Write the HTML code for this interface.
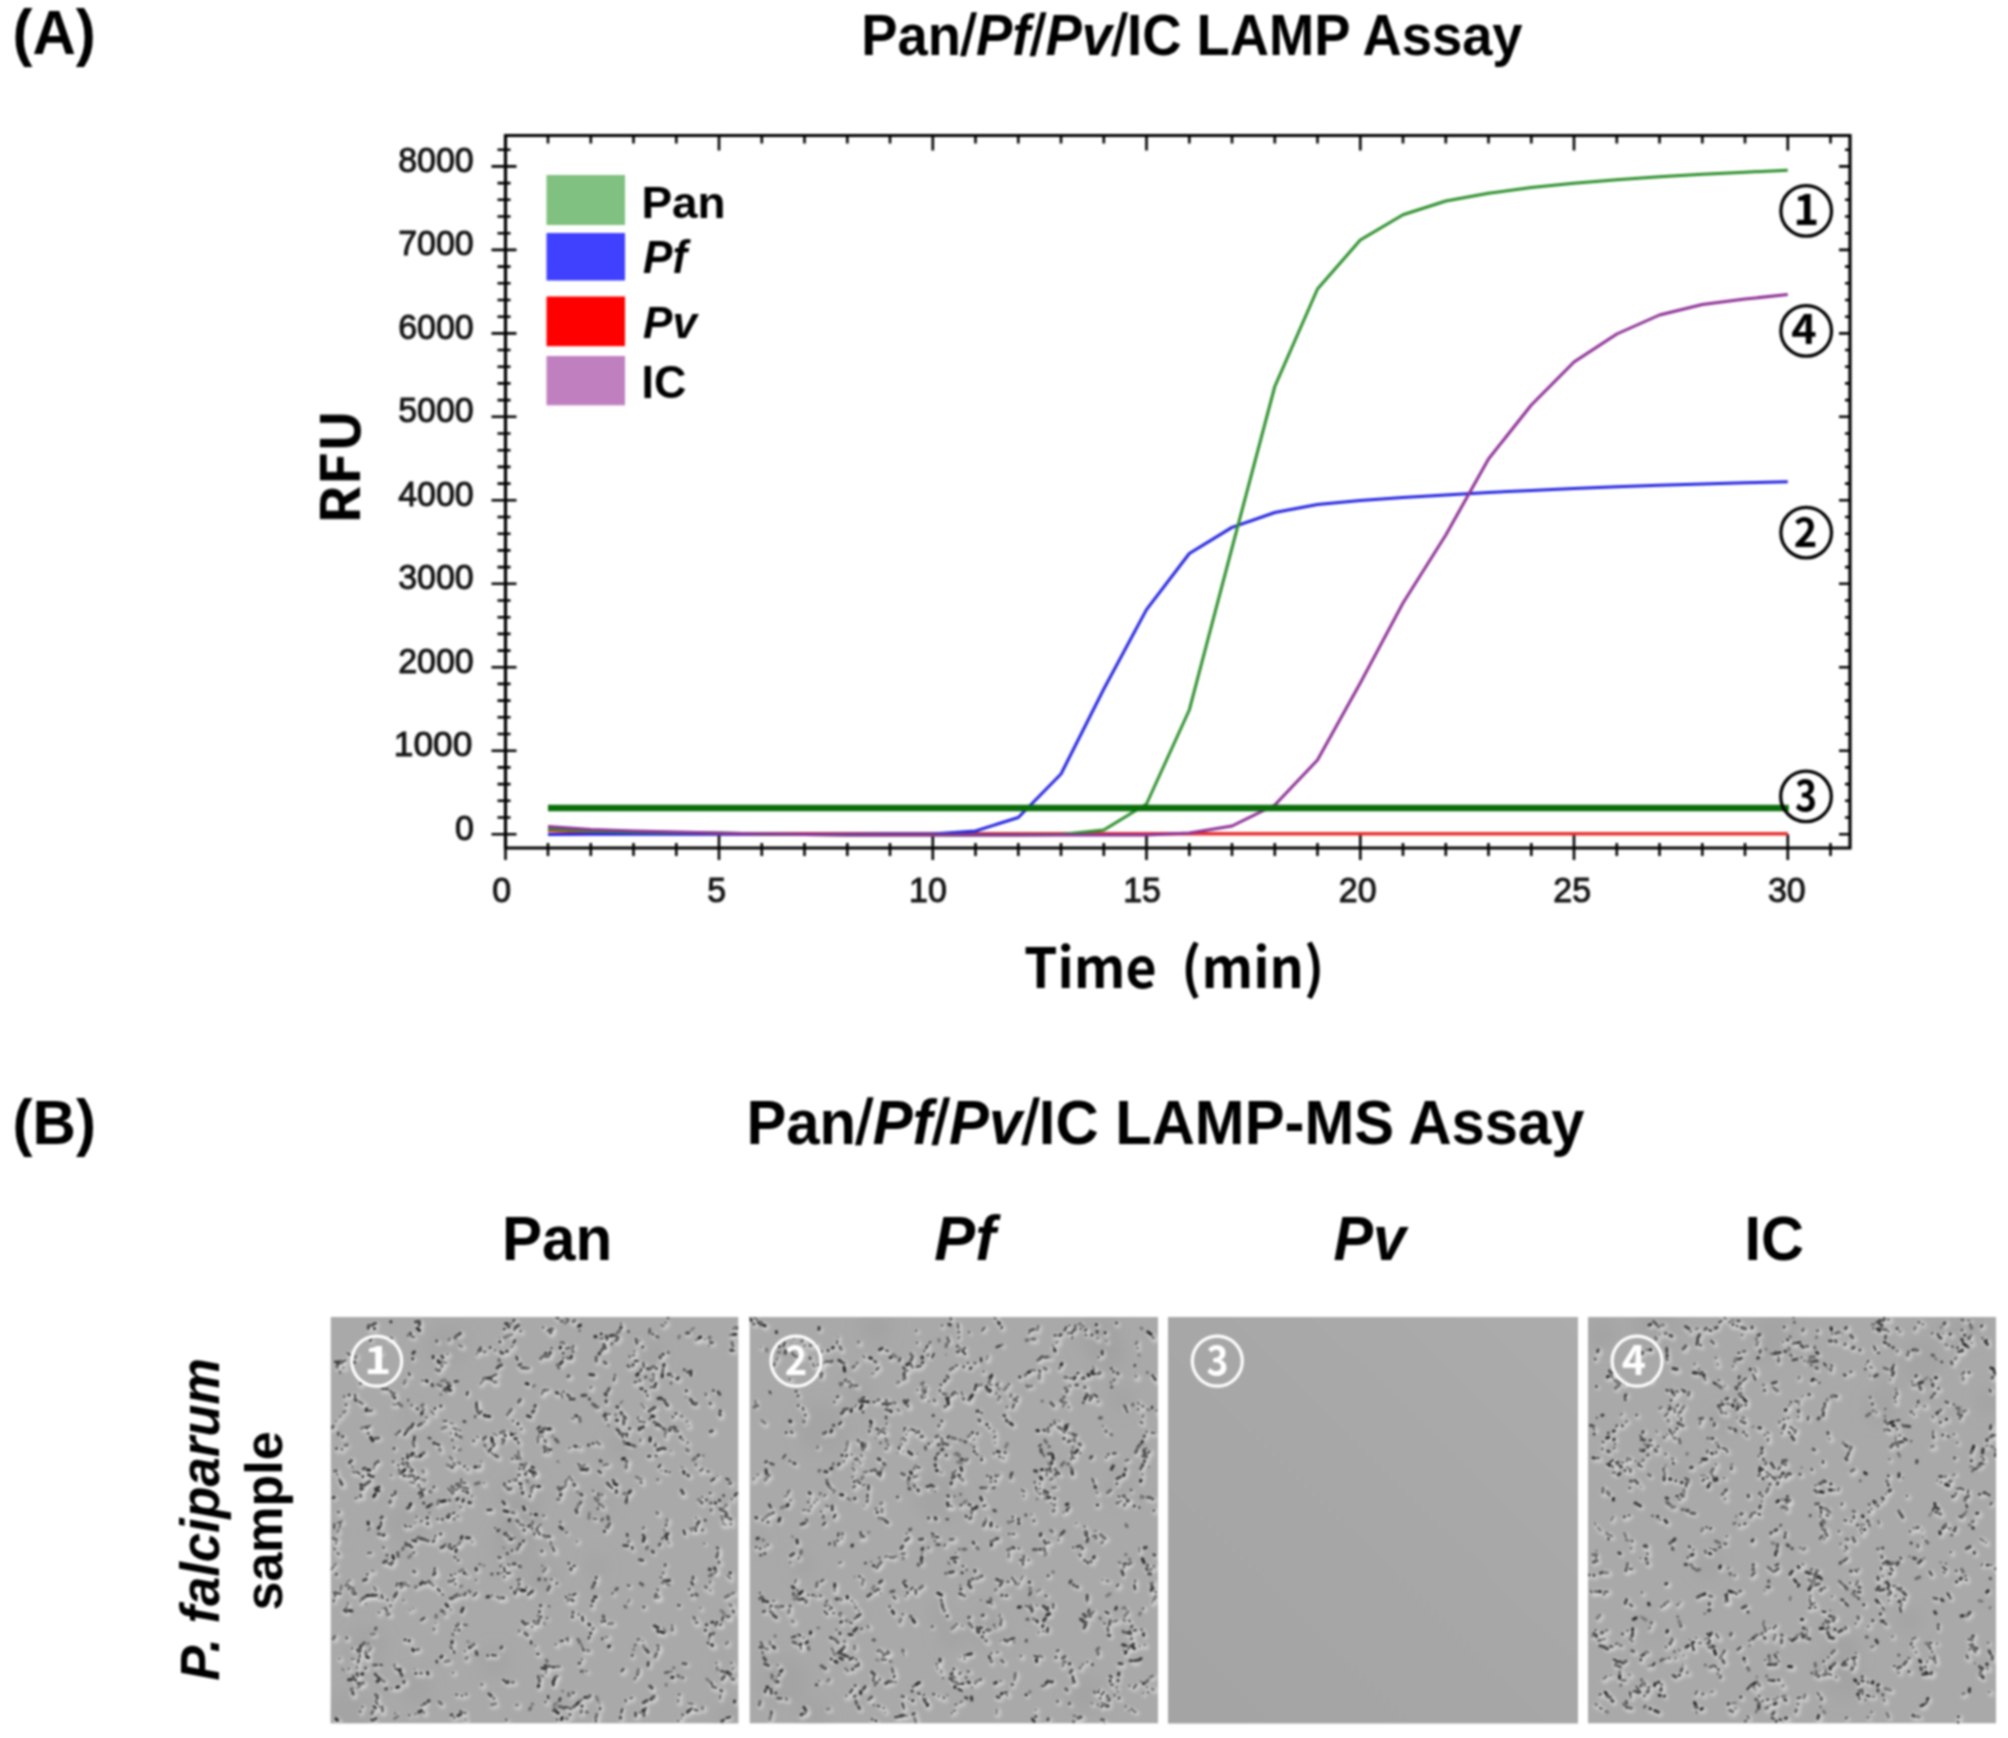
<!DOCTYPE html><html><head><meta charset="utf-8"><title>Pan/Pf/Pv/IC LAMP Assay</title>
<style>html,body{margin:0;padding:0;background:#fff;}body{width:2008px;height:1738px;overflow:hidden;}svg{display:block;}</style></head><body>
<svg width="2008" height="1738" viewBox="0 0 2008 1738">
<rect width="2008" height="1738" fill="#fff"/>
<defs><filter id="gblur" filterUnits="userSpaceOnUse" x="0" y="0" width="2008" height="1738" color-interpolation-filters="sRGB"><feGaussianBlur stdDeviation="1.00"/></filter></defs><g filter="url(#gblur)">
<g stroke="#000" fill="none" stroke-linecap="butt">
<path d="M505.5 135.5 H1850.0 V848.0 H505.5 Z" stroke-width="3.2"/>
<path d="M491.5 834.2H516.5M1839.0 834.2H1850.0M497.5 817.5H510.5M1845.0 817.5H1850.0M497.5 800.8H510.5M1845.0 800.8H1850.0M497.5 784.1H510.5M1845.0 784.1H1850.0M497.5 767.4H510.5M1845.0 767.4H1850.0M491.5 750.7H516.5M1839.0 750.7H1850.0M497.5 734.0H510.5M1845.0 734.0H1850.0M497.5 717.3H510.5M1845.0 717.3H1850.0M497.5 700.6H510.5M1845.0 700.6H1850.0M497.5 683.9H510.5M1845.0 683.9H1850.0M491.5 667.2H516.5M1839.0 667.2H1850.0M497.5 650.6H510.5M1845.0 650.6H1850.0M497.5 633.9H510.5M1845.0 633.9H1850.0M497.5 617.2H510.5M1845.0 617.2H1850.0M497.5 600.5H510.5M1845.0 600.5H1850.0M491.5 583.8H516.5M1839.0 583.8H1850.0M497.5 567.1H510.5M1845.0 567.1H1850.0M497.5 550.4H510.5M1845.0 550.4H1850.0M497.5 533.7H510.5M1845.0 533.7H1850.0M497.5 517.0H510.5M1845.0 517.0H1850.0M491.5 500.3H516.5M1839.0 500.3H1850.0M497.5 483.6H510.5M1845.0 483.6H1850.0M497.5 466.9H510.5M1845.0 466.9H1850.0M497.5 450.2H510.5M1845.0 450.2H1850.0M497.5 433.5H510.5M1845.0 433.5H1850.0M491.5 416.8H516.5M1839.0 416.8H1850.0M497.5 400.1H510.5M1845.0 400.1H1850.0M497.5 383.4H510.5M1845.0 383.4H1850.0M497.5 366.7H510.5M1845.0 366.7H1850.0M497.5 350.0H510.5M1845.0 350.0H1850.0M491.5 333.4H516.5M1839.0 333.4H1850.0M497.5 316.7H510.5M1845.0 316.7H1850.0M497.5 300.0H510.5M1845.0 300.0H1850.0M497.5 283.3H510.5M1845.0 283.3H1850.0M497.5 266.6H510.5M1845.0 266.6H1850.0M491.5 249.9H516.5M1839.0 249.9H1850.0M497.5 233.2H510.5M1845.0 233.2H1850.0M497.5 216.5H510.5M1845.0 216.5H1850.0M497.5 199.8H510.5M1845.0 199.8H1850.0M497.5 183.1H510.5M1845.0 183.1H1850.0M491.5 166.4H516.5M1839.0 166.4H1850.0M497.5 149.7H510.5M1845.0 149.7H1850.0M505.5 848.0V860.0M548.0 843.0V856.0M548.0 135.5V143.5M590.8 843.0V856.0M590.8 135.5V143.5M633.5 843.0V856.0M633.5 135.5V143.5M676.3 843.0V856.0M676.3 135.5V143.5M719.0 834.2V860.0M719.0 135.5V150.5M761.8 843.0V856.0M761.8 135.5V143.5M804.5 843.0V856.0M804.5 135.5V143.5M847.3 843.0V856.0M847.3 135.5V143.5M890.0 843.0V856.0M890.0 135.5V143.5M932.8 834.2V860.0M932.8 135.5V150.5M975.5 843.0V856.0M975.5 135.5V143.5M1018.3 843.0V856.0M1018.3 135.5V143.5M1061.0 843.0V856.0M1061.0 135.5V143.5M1103.8 843.0V856.0M1103.8 135.5V143.5M1146.5 834.2V860.0M1146.5 135.5V150.5M1189.3 843.0V856.0M1189.3 135.5V143.5M1232.0 843.0V856.0M1232.0 135.5V143.5M1274.8 843.0V856.0M1274.8 135.5V143.5M1317.5 843.0V856.0M1317.5 135.5V143.5M1360.3 834.2V860.0M1360.3 135.5V150.5M1403.0 843.0V856.0M1403.0 135.5V143.5M1445.8 843.0V856.0M1445.8 135.5V143.5M1488.5 843.0V856.0M1488.5 135.5V143.5M1531.3 843.0V856.0M1531.3 135.5V143.5M1574.0 834.2V860.0M1574.0 135.5V150.5M1616.8 843.0V856.0M1616.8 135.5V143.5M1659.5 843.0V856.0M1659.5 135.5V143.5M1702.3 843.0V856.0M1702.3 135.5V143.5M1745.0 843.0V856.0M1745.0 135.5V143.5M1787.8 834.2V860.0M1787.8 135.5V150.5M1830.5 843.0V856.0M1830.5 135.5V143.5" stroke-width="2.6"/>
</g>
<rect x="546.5" y="175.0" width="78.5" height="50.0" fill="#80c080"/>
<rect x="546.5" y="233.0" width="78.5" height="47.5" fill="#4040ff"/>
<rect x="546.5" y="296.5" width="78.5" height="49.7" fill="#ff0000"/>
<rect x="546.5" y="356.0" width="78.5" height="49.3" fill="#c080c0"/>
<g fill="none" stroke-linejoin="round" stroke-linecap="butt">
<polyline points="548.0,830.5 590.8,832.0 633.5,833.0 676.3,833.5 719.0,833.7 761.8,833.7 804.5,833.7 847.3,833.7 890.0,833.7 932.8,833.7 975.5,833.7 1018.3,833.7 1061.0,833.7 1103.8,833.7 1146.5,833.7 1189.3,833.7 1232.0,833.7 1274.8,833.7 1317.5,833.7 1360.3,833.7 1403.0,833.7 1445.8,833.7 1488.5,833.7 1531.3,833.7 1574.0,833.7 1616.8,833.7 1659.5,833.7 1702.3,833.7 1745.0,833.7 1787.8,833.7" stroke="#e83030" stroke-width="3.4"/>
<polyline points="548.0,834.5 590.8,834.3 633.5,834.2 676.3,834.2 719.0,834.2 761.8,834.2 804.5,834.2 847.3,834.2 890.0,834.0 932.8,834.0 975.5,831.0 1018.3,817.5 1061.0,774.0 1103.8,689.0 1146.5,609.6 1189.3,553.5 1232.0,527.4 1274.8,512.5 1317.5,504.5 1360.3,500.5 1403.0,497.5 1445.8,495.0 1488.5,492.5 1531.3,490.5 1574.0,488.5 1616.8,486.8 1659.5,485.3 1702.3,484.0 1745.0,482.8 1787.8,481.7" stroke="#2626e0" stroke-width="3.0"/>
<polyline points="548.0,829.0 590.8,831.0 633.5,832.0 676.3,832.5 719.0,833.0 761.8,834.0 804.5,834.5 847.3,835.0 890.0,835.0 932.8,835.0 975.5,835.0 1018.3,835.0 1061.0,834.5 1103.8,830.0 1146.5,804.0 1189.3,710.0 1232.0,548.0 1274.8,386.5 1317.5,289.0 1360.3,240.0 1403.0,214.7 1445.8,201.0 1488.5,193.3 1531.3,187.4 1574.0,183.3 1616.8,179.8 1659.5,176.8 1702.3,174.2 1745.0,172.2 1787.8,170.2" stroke="#2e902e" stroke-width="3.0"/>
<polyline points="548.0,826.5 590.8,829.5 633.5,831.0 676.3,832.0 719.0,833.0 761.8,834.0 804.5,834.5 847.3,835.0 890.0,835.0 932.8,835.0 975.5,835.0 1018.3,835.0 1061.0,835.0 1103.8,835.0 1146.5,835.0 1189.3,833.0 1232.0,826.0 1274.8,805.0 1317.5,760.0 1360.3,683.0 1403.0,603.0 1445.8,535.0 1488.5,459.0 1531.3,405.0 1574.0,362.0 1616.8,334.0 1659.5,315.0 1702.3,304.5 1745.0,299.0 1787.8,294.6" stroke="#8e3296" stroke-width="3.0"/>
<path d="M548.0 808H1788.8" stroke="#0a6e0a" stroke-width="6.5"/>
</g>
<circle cx="1806.2" cy="210.9" r="25.3" fill="none" stroke="#000" stroke-width="3.3"/>
<circle cx="1806.2" cy="330.9" r="25.3" fill="none" stroke="#000" stroke-width="3.3"/>
<circle cx="1806.2" cy="532.6" r="25.3" fill="none" stroke="#000" stroke-width="3.3"/>
<circle cx="1806.0" cy="796.4" r="25.3" fill="none" stroke="#000" stroke-width="3.3"/>
<defs><filter id="bd" x="-5%" y="-5%" width="110%" height="110%"><feGaussianBlur stdDeviation="0.9"/></filter><filter id="bl" x="-5%" y="-5%" width="110%" height="110%"><feGaussianBlur stdDeviation="1.6"/></filter><filter id="bm" x="-10%" y="-10%" width="120%" height="120%"><feGaussianBlur stdDeviation="7"/></filter><linearGradient id="g3" x1="0" y1="1" x2="1" y2="0"><stop offset="0" stop-color="#a4a4a4"/><stop offset="0.5" stop-color="#a7a7a7"/><stop offset="1" stop-color="#acacac"/></linearGradient><clipPath id="cp0"><rect x="330.5" y="1317" width="408" height="406.5"/></clipPath><clipPath id="cp1"><rect x="749.5" y="1317" width="408.5" height="406.5"/></clipPath><clipPath id="cp3"><rect x="1588" y="1317" width="408" height="406.5"/></clipPath></defs>
<g clip-path="url(#cp0)">
<rect x="330.5" y="1317.0" width="408.0" height="406.5" fill="#a9a9a9"/>
<g fill="#9a9a9a" fill-opacity="0.35" filter="url(#bm)"><circle cx="515" cy="1545" r="25"/><circle cx="520" cy="1523" r="19"/><circle cx="406" cy="1525" r="19"/><circle cx="654" cy="1355" r="13"/><circle cx="367" cy="1646" r="20"/><circle cx="348" cy="1716" r="25"/><circle cx="597" cy="1567" r="11"/><circle cx="337" cy="1532" r="9"/><circle cx="408" cy="1415" r="9"/><circle cx="520" cy="1496" r="23"/><circle cx="542" cy="1577" r="17"/><circle cx="601" cy="1503" r="13"/><circle cx="738" cy="1722" r="23"/><circle cx="619" cy="1445" r="12"/><circle cx="448" cy="1346" r="22"/><circle cx="494" cy="1661" r="15"/><circle cx="721" cy="1661" r="8"/><circle cx="416" cy="1687" r="16"/></g>
<g filter="url(#bl)" fill="none" stroke="#e2e2e2" stroke-opacity="0.55" stroke-linecap="round"><path stroke-width="4" d="M723.0 1625.5l0.0 0.0M477.3 1581.3l-0.0 -0.0M338.8 1476.0l0.0 0.0M548.8 1620.0l0.0 0.0M493.6 1454.9l0.8 1.3M422.8 1621.8l3.3 -2.3M642.6 1371.3l-0.9 1.8M644.7 1529.4l-0.5 1.4M673.1 1673.6l0.0 -0.0M473.9 1498.0l-0.0 -0.0M502.3 1568.4l0.9 -1.2M589.0 1673.2l-1.4 -0.6M385.4 1549.8l-0.5 -0.9M482.9 1463.4l0.0 0.0M415.8 1553.6l-0.9 0.4M700.3 1523.2l-0.0 0.0M513.2 1551.1l-0.3 1.5M732.9 1680.7l-0.0 -0.0M629.5 1603.8l1.5 -2.6M636.5 1679.0l-1.0 1.7M631.2 1587.7l-1.4 -0.4M735.4 1352.6l0.0 -0.0M372.8 1341.2l-1.1 1.1M457.0 1559.7l-1.1 -1.0M376.0 1467.6l1.0 -2.8M496.6 1530.0l-0.0 -0.0M550.2 1391.8l-0.0 0.0M452.3 1611.6l-0.0 0.0M568.6 1534.1l-1.0 -0.1M655.5 1381.0l-0.2 -1.5M519.1 1361.1l-0.9 -2.9M361.4 1648.1l-0.0 0.0M410.8 1716.8l0.0 -0.0M417.0 1716.0l0.0 -0.0M708.1 1397.2l-0.5 -1.4M557.3 1645.3l-0.8 0.6M405.0 1601.9l-0.0 -0.0M400.8 1475.5l4.0 -0.6M590.0 1640.7l0.8 -1.8M643.8 1423.5l-2.9 -0.6M414.9 1610.2l-0.0 0.0M556.7 1710.6l-2.6 1.6M705.9 1545.1l-0.0 -0.0M594.9 1493.3l-0.8 -0.6M449.4 1489.9l2.7 3.0M628.3 1497.7l0.6 1.9M438.4 1520.1l-0.0 -0.0"/><path stroke-width="5" d="M559.3 1500.6l1.5 -0.1M436.5 1624.6l-0.0 0.0M435.9 1630.7l-0.2 1.0M602.7 1474.1l-2.3 -1.9M467.5 1695.9l-0.0 0.0M463.8 1697.6l-0.0 0.0M459.2 1696.7l-1.5 -0.3M435.8 1573.5l0.3 -4.0M638.0 1479.0l2.6 1.6M655.0 1699.6l-0.0 0.0M695.7 1529.3l2.8 -1.0M367.8 1472.1l-0.0 -0.0M642.4 1483.9l1.4 0.6M641.3 1714.4l0.0 0.0M567.4 1719.9l1.5 -0.0M378.3 1666.5l-3.0 0.1M736.4 1703.0l0.1 1.0M505.7 1569.0l0.7 3.9M597.1 1721.9l-0.1 1.0M529.7 1596.8l0.4 -0.9M418.0 1588.5l-0.8 0.6M460.5 1485.3l-1.3 2.7M456.5 1488.7l-1.9 0.7M455.1 1491.2l-0.6 4.0M567.0 1709.0l1.0 -0.0M700.1 1456.8l-0.8 0.6M694.1 1705.9l-4.0 -0.6M429.0 1382.7l-0.8 -0.6M580.6 1703.8l-2.8 2.9M525.6 1468.4l1.8 -3.6M367.7 1429.2l1.2 0.9M559.0 1720.9l-0.0 0.0M657.6 1369.5l0.9 0.3M715.2 1623.4l-1.5 -0.0M707.9 1626.3l-0.0 0.0M666.5 1565.7l-0.0 1.0M391.8 1607.1l0.0 -0.0M393.7 1601.5l0.0 -0.0M395.7 1599.0l2.0 -3.5M398.1 1593.2l0.0 -0.0M336.5 1593.6l0.2 4.0M335.1 1601.1l-0.3 1.5M601.7 1446.3l-3.0 -2.6M595.2 1445.4l-1.5 0.1M350.3 1590.0l-0.0 0.0M507.8 1684.4l1.7 -1.1M682.3 1418.1l0.9 0.4M519.8 1443.2l1.1 1.7M383.3 1596.8l1.3 2.7M645.3 1365.0l0.4 4.0M689.5 1452.2l-1.6 -1.3M464.1 1503.0l0.6 -1.4M623.5 1710.3l-1.1 3.8M458.6 1501.3l1.0 -1.1M716.2 1569.7l0.6 1.4M716.8 1574.7l0.0 0.0M711.8 1582.7l-0.2 1.5M348.3 1446.2l-2.0 0.3M383.9 1518.6l-1.1 1.0M382.3 1524.1l-0.5 4.0M409.0 1509.6l1.9 -0.6M336.2 1550.7l-0.0 0.0M598.1 1520.4l-3.0 -0.3M607.3 1337.7l0.7 -0.7M503.8 1574.3l-0.0 0.0M359.0 1499.2l-1.8 0.9M668.3 1541.0l-1.3 -2.7M422.3 1540.2l3.9 0.7M425.7 1541.5l3.8 1.3M681.5 1727.1l0.7 1.4M339.5 1533.9l0.4 -1.4M661.4 1466.6l-1.8 2.4M663.2 1472.1l0.0 0.0M667.0 1473.1l1.0 0.2M516.6 1328.5l0.0 -0.0M469.2 1494.3l-1.2 -0.9M465.8 1492.6l-1.9 -0.7M412.3 1337.9l2.9 0.9M643.1 1389.8l1.0 0.3M647.6 1393.1l0.0 0.0M365.4 1581.7l2.7 -1.2M598.8 1502.8l0.8 0.5M599.8 1409.4l-2.0 0.0M601.6 1710.6l0.2 -1.5M501.8 1343.0l-0.0 -0.0M487.7 1439.4l-1.7 1.1M503.3 1352.8l-1.5 -0.3M496.4 1352.2l-0.0 -0.0M495.9 1446.0l0.0 0.0M486.4 1448.1l-0.7 -1.3M380.1 1599.4l0.0 0.0M400.0 1434.6l2.2 -2.0M662.9 1578.8l-0.0 -0.0M353.3 1690.6l-1.1 1.0M639.0 1362.9l-3.0 -0.0M372.9 1636.0l3.0 -0.3M657.7 1384.9l-1.4 3.8M652.8 1388.3l-0.9 0.5M698.9 1712.1l-2.9 -0.8M447.9 1384.2l2.7 1.3M434.9 1357.9l0.1 1.5M611.2 1415.7l-3.0 -0.4M607.2 1416.9l-1.9 0.7M608.5 1393.9l2.0 -3.5M523.5 1593.1l0.0 -0.0M518.9 1591.7l-0.0 -0.0M512.8 1589.3l-0.0 -0.0M514.4 1460.5l-1.5 0.2M658.6 1425.0l3.3 2.3M666.5 1436.5l0.5 3.0M600.5 1507.1l0.4 -1.4M358.4 1669.9l0.4 -2.0M544.8 1517.3l0.0 0.0M651.4 1688.2l2.2 2.1M363.3 1430.0l1.0 -1.1M361.5 1475.3l-2.3 -2.0M421.3 1332.0l-2.2 -2.1M625.6 1546.6l4.0 0.4M361.8 1714.1l-0.0 -1.0M627.1 1703.1l0.1 -1.5M390.5 1560.4l-0.0 -0.0M389.1 1556.7l-0.0 -0.0M544.6 1328.9l-0.0 -0.0M345.9 1398.3l-0.0 0.0M424.4 1410.1l0.6 0.8M570.3 1360.7l-1.2 -0.8M517.5 1480.2l-0.7 1.9M734.1 1670.8l0.9 -1.8M732.9 1664.6l-0.0 -0.0M693.8 1529.7l-0.2 3.0M394.6 1557.7l0.9 2.9M411.2 1612.0l-0.0 -0.0M353.8 1660.3l-0.0 -0.0M569.4 1481.6l-2.1 2.2M567.2 1484.6l-0.8 3.9M718.9 1478.1l-0.0 0.0M716.1 1480.1l-3.1 2.5M577.0 1595.0l-2.6 1.5M714.3 1344.6l-2.0 0.3M389.2 1565.2l3.5 1.9M507.2 1437.5l-1.0 0.2M451.2 1468.1l-2.7 -1.4M469.0 1393.2l-0.6 2.9M351.7 1581.9l-3.3 2.3M350.8 1587.7l0.2 1.0M462.6 1613.6l1.6 -3.7M426.5 1423.5l-0.0 0.0M422.6 1425.4l-3.3 2.2M604.8 1339.7l-3.0 0.3M361.1 1603.5l1.2 -3.8M396.9 1715.5l-0.0 -0.0M542.6 1607.0l0.0 0.0M539.8 1616.9l-0.4 0.9M534.5 1475.4l1.3 2.7M489.1 1417.4l1.5 0.3M570.0 1450.1l1.6 -1.2M659.1 1481.5l-0.0 -0.0M341.3 1591.5l-0.0 -0.0M338.6 1594.3l-0.0 0.0M376.7 1676.1l0.7 0.7M379.5 1678.1l1.4 1.4M374.5 1712.5l-1.2 2.7M733.3 1501.4l-0.5 -0.9M736.1 1496.8l2.0 -2.2M517.5 1592.3l2.4 -3.2M522.1 1591.3l3.9 0.6M520.0 1633.5l0.7 -0.8M532.7 1515.6l0.0 -0.0M372.3 1554.3l-3.0 0.3M622.7 1325.8l-0.0 -0.0M637.2 1714.8l0.0 0.0M689.4 1444.6l-0.0 -0.0M478.4 1403.3l0.0 0.0M732.7 1525.9l-0.0 0.0M639.3 1673.4l-1.0 2.8M501.9 1649.5l0.9 -1.2M584.8 1652.6l-0.4 -2.0M554.3 1330.4l-0.0 0.0M420.1 1486.3l0.0 -0.0M423.4 1408.0l1.6 -1.2M378.4 1696.7l-1.3 -0.7M614.3 1595.1l0.0 0.0M370.1 1330.6l0.6 -2.9M617.6 1494.0l-0.1 -2.0M613.8 1489.9l-2.4 -1.9M699.9 1501.6l1.0 -0.2M462.5 1596.4l-2.9 0.7M537.3 1647.7l0.0 0.0M687.7 1334.9l2.0 -0.0M408.4 1433.2l-2.3 3.2M412.3 1548.4l1.3 0.7M467.3 1485.0l-1.5 -0.2M582.5 1495.6l1.2 0.9M559.2 1677.4l-2.8 1.0M682.9 1469.4l1.4 0.4M684.7 1472.8l0.6 1.9M398.0 1587.4l0.8 -2.9M401.8 1585.9l1.5 -0.3M365.3 1490.6l-0.0 -0.0M549.6 1591.7l1.8 -3.6M539.9 1528.3l-2.0 2.2M539.7 1534.1l1.0 2.8M670.7 1581.9l-3.9 0.7M370.5 1652.4l2.1 -3.4M404.0 1587.0l2.7 -2.9M717.5 1626.5l0.3 -0.9M730.3 1618.4l0.0 -0.0M511.7 1329.4l-0.0 -0.0M506.3 1330.5l-1.4 0.4M578.4 1417.5l-1.0 -0.3M459.5 1561.6l-0.0 -0.0M337.1 1566.1l0.0 0.0M335.1 1568.0l-2.5 3.1M731.7 1336.8l0.0 -0.0M737.7 1331.0l0.8 -1.8M610.5 1648.6l0.7 -0.7M574.5 1568.1l1.4 -0.4M513.5 1540.3l-1.0 0.3M644.2 1348.3l-0.0 -0.0M575.1 1420.3l-1.5 -0.2M684.1 1679.1l-0.0 0.0M631.7 1357.9l0.0 0.0M679.0 1432.5l0.6 0.8M375.4 1469.9l-0.6 -0.8M412.2 1484.1l3.9 1.0M415.9 1482.0l1.1 -1.0M721.8 1697.3l-0.5 3.0M513.4 1336.5l-2.8 1.0M711.2 1494.7l1.0 0.1M686.3 1535.6l-1.2 -3.8M691.2 1530.4l0.0 -0.0M506.2 1536.1l1.3 -0.8M509.3 1537.1l1.7 1.1M360.5 1658.7l0.6 -1.4M578.3 1514.0l-0.9 -2.8M579.0 1509.4l1.2 -3.8M581.4 1504.6l0.9 -1.2M654.3 1335.3l1.1 1.0M610.1 1525.8l0.7 -0.7M384.3 1609.7l0.0 -0.0M393.7 1690.1l0.0 -0.0M447.2 1389.4l-1.4 0.4M443.2 1388.0l-3.7 -1.5M493.5 1597.1l-0.0 -0.0M338.0 1576.0l-0.0 0.0M342.3 1364.3l-0.0 0.0M557.9 1584.6l-0.0 -0.0M435.2 1489.6l0.6 -0.8M562.1 1523.8l-0.0 -0.0M633.6 1550.8l-0.4 -2.0M465.0 1713.9l1.9 0.5M633.4 1657.0l-0.2 1.0M405.2 1385.2l1.1 -2.8M524.7 1542.5l0.0 0.0M520.3 1547.9l-2.0 3.5M626.8 1495.2l-1.0 0.3M564.4 1359.4l0.0 0.0M486.5 1353.8l0.0 0.0M491.5 1349.0l0.0 -0.0M348.8 1354.7l2.4 1.8M456.7 1575.3l0.0 -0.0M460.7 1573.2l3.5 -1.9M465.8 1574.6l0.8 0.6M468.8 1576.4l0.0 0.0M458.9 1431.6l-3.7 -1.6M370.2 1526.2l-0.3 -2.0M438.6 1343.0l0.0 0.0M447.4 1364.4l0.0 0.0M443.7 1367.3l-0.7 0.7M652.1 1439.6l-0.3 3.0M657.1 1445.0l0.0 0.0M403.7 1465.0l0.0 -0.0M439.8 1505.6l-1.3 0.7M454.7 1515.1l1.4 -0.6M458.1 1517.6l1.6 1.2M565.8 1394.0l-0.8 -0.6M644.3 1562.4l-2.9 -0.7M457.1 1585.5l-0.0 -0.0M455.6 1580.9l-0.0 -0.0M479.6 1438.7l-1.4 -0.5M410.8 1528.0l1.5 0.2M416.4 1524.8l0.0 -0.0M417.6 1518.4l0.0 -0.0M342.7 1364.3l-0.8 -1.8M672.0 1452.9l-0.0 0.0M508.0 1721.8l0.0 -0.0M523.6 1623.2l2.8 2.9M535.2 1623.5l0.9 -0.3M359.0 1675.7l0.2 -1.0M512.2 1434.4l0.0 0.0M710.3 1645.0l-0.5 -0.9M710.4 1641.4l0.0 -0.0M711.1 1638.4l0.5 -3.0M667.6 1434.2l-1.5 1.4M501.2 1600.3l-0.0 0.0M445.2 1423.2l3.0 -0.2M451.5 1424.4l2.9 0.9M646.0 1713.4l1.0 -3.9M378.4 1700.5l0.2 -3.0M591.7 1635.0l0.0 -0.0M510.0 1684.6l-1.4 0.4M507.0 1683.5l-2.5 -1.6M365.1 1470.4l1.7 -1.0M455.3 1548.0l2.0 -0.3M719.2 1549.4l0.6 0.8M684.9 1665.0l3.0 0.3M606.4 1532.7l-0.0 0.0M654.5 1553.7l-1.0 -1.1M570.0 1564.7l-0.0 -0.0M400.0 1671.5l1.4 0.6M488.8 1380.1l4.0 -0.4M715.1 1392.1l-0.0 -0.0M525.8 1511.0l-1.1 -2.8M394.4 1463.4l-0.0 -0.0M392.5 1476.7l-0.0 -0.0M661.6 1545.0l-0.6 1.4M413.7 1454.9l1.5 -0.1M474.0 1543.5l0.0 0.0M614.8 1382.6l0.7 -2.9M409.0 1467.3l2.6 1.5M355.1 1595.1l0.2 1.0M713.0 1512.0l0.0 -0.0M447.7 1428.4l-3.7 1.4M341.5 1726.4l1.0 1.7M347.1 1412.4l-1.7 1.1M342.5 1417.8l-1.0 1.1M338.0 1422.4l-0.0 0.0M452.4 1716.4l1.0 -0.3M459.1 1716.9l2.7 -1.3M679.4 1606.6l1.0 0.1M543.3 1437.9l-0.0 0.0M373.5 1572.8l1.4 0.5M361.2 1687.6l0.3 -1.0M520.8 1581.3l-1.8 0.9M520.9 1585.4l0.0 0.0M335.5 1498.5l-0.8 0.5M498.4 1369.3l-0.0 -0.0M425.5 1482.1l0.3 -0.9M376.6 1495.4l-1.6 2.5M414.2 1360.2l-0.0 0.0M570.1 1321.5l-1.5 -0.4M381.6 1355.2l1.1 -1.0M494.0 1382.4l-1.8 -0.9M574.9 1694.1l-0.0 -0.0M571.7 1697.3l-0.0 0.0M410.4 1375.2l0.5 1.9M534.1 1413.4l1.3 -1.5M536.0 1408.1l0.5 -1.4M575.1 1347.4l-0.9 2.9M565.4 1346.0l-0.0 -0.0M478.6 1356.2l0.0 -0.0M639.6 1420.1l0.2 -1.5M415.9 1671.1l0.0 0.0M726.5 1599.4l3.5 -1.9M733.5 1596.1l2.6 -1.4M734.8 1611.9l0.8 1.8M506.0 1485.7l0.0 0.0M510.4 1483.2l0.9 -0.4M732.0 1574.7l0.0 -0.0M708.3 1472.9l1.9 0.5M570.3 1639.5l-0.3 4.0M564.8 1642.2l-1.5 0.3M558.2 1646.5l-0.0 0.0M461.1 1465.4l-1.3 -0.8M395.9 1450.1l0.0 0.0M644.8 1408.2l1.1 1.7M658.3 1590.8l1.2 0.9M428.8 1519.0l0.0 -0.0M541.3 1683.5l0.3 -1.5M548.7 1668.2l0.9 -0.5M557.0 1668.8l4.0 -0.1M702.2 1610.1l-0.0 -0.0M644.7 1647.2l0.7 2.9M647.1 1651.3l2.5 3.1M731.3 1718.7l-3.9 0.8M347.5 1610.5l0.6 -1.9M349.2 1605.5l0.0 -0.0"/><path stroke-width="6" d="M515.5 1322.8l0.7 -0.8M672.6 1377.3l1.8 1.0M363.0 1489.4l-0.1 1.5M569.9 1378.6l0.9 -0.5M474.6 1597.3l2.8 -2.9M607.2 1403.8l0.0 -1.5M665.6 1365.8l-0.2 1.5M393.4 1340.0l-2.8 1.0M417.9 1651.1l2.0 -0.2M642.8 1480.7l0.0 0.0M648.0 1702.6l-3.4 2.1M342.9 1523.3l-3.7 1.5M698.6 1525.5l1.5 -2.6M697.7 1519.9l-0.4 -0.9M336.2 1472.8l1.5 -0.3M340.0 1479.8l0.6 1.4M344.2 1437.9l0.0 0.0M590.3 1652.4l-1.9 -0.5M580.4 1664.7l0.9 -0.5M583.4 1660.7l0.0 -0.0M535.8 1625.4l4.0 -0.0M539.7 1622.7l1.0 -1.7M369.5 1659.6l-1.8 -0.8M367.8 1656.0l-1.0 -2.8M361.7 1652.5l-0.9 -0.3M697.4 1341.8l0.9 -0.3M413.2 1472.0l-0.1 1.0M562.9 1721.1l0.7 -1.9M571.7 1716.5l0.0 -0.0M492.3 1450.1l-2.4 3.2M496.7 1457.3l2.6 1.6M505.8 1512.4l3.8 1.1M441.5 1593.2l-2.0 -2.2M588.8 1470.5l-0.9 1.2M587.0 1471.5l-4.0 0.1M582.2 1467.9l-2.0 -2.2M531.5 1594.7l2.3 -1.9M424.3 1584.2l-2.0 2.2M569.7 1709.8l2.8 0.9M697.1 1465.9l0.3 1.0M656.7 1447.3l0.0 0.0M588.0 1699.3l-1.5 0.2M582.5 1701.6l-1.3 0.8M575.1 1708.1l-0.0 0.0M369.8 1435.3l0.0 0.0M376.1 1440.0l3.9 -0.6M718.6 1623.6l-0.0 -0.0M706.5 1632.2l-0.0 0.0M369.4 1412.7l4.0 -0.3M581.3 1449.4l-0.0 -0.0M578.0 1447.8l-2.0 -0.4M614.0 1624.7l-4.0 0.4M606.4 1622.5l-0.0 -0.0M514.1 1683.7l1.0 0.0M674.1 1418.5l0.0 -0.0M516.5 1440.6l1.5 0.2M617.0 1342.7l1.6 -1.2M357.0 1359.0l0.6 -1.4M388.4 1601.4l0.0 0.0M706.6 1588.7l1.0 1.1M711.2 1592.1l0.0 0.0M653.8 1382.4l-1.4 -1.4M407.1 1544.5l-0.0 0.0M365.0 1685.3l-1.8 -1.0M357.0 1682.2l-2.2 -2.0M462.0 1508.9l-0.0 -0.0M622.4 1718.8l-0.2 1.0M680.7 1696.5l-0.0 0.0M680.2 1702.0l-0.2 1.5M338.1 1450.7l-0.0 -0.0M451.6 1458.8l1.9 2.3M442.7 1658.7l1.0 -1.1M411.2 1507.6l1.0 -1.7M337.2 1544.9l0.0 0.0M338.6 1554.5l1.2 1.6M616.7 1337.3l3.7 1.4M731.4 1579.9l-2.9 -2.8M454.8 1582.2l-3.9 0.7M670.1 1544.2l0.0 -0.0M413.7 1542.0l3.8 1.3M682.2 1720.3l-0.0 -0.0M679.6 1722.8l-0.0 0.0M521.9 1332.9l0.0 0.0M639.0 1674.6l1.2 -3.8M648.3 1396.5l0.6 1.4M369.1 1576.6l0.4 -0.9M601.8 1506.0l2.8 2.8M525.4 1467.0l-3.0 -0.1M600.6 1705.2l-0.0 -0.0M500.8 1339.7l-0.0 -0.0M492.8 1439.2l0.7 3.9M488.8 1450.6l-0.0 -0.0M375.7 1597.4l1.9 -0.5M637.3 1340.6l0.9 3.9M495.4 1435.4l3.4 2.0M559.3 1320.1l-2.3 -1.9M421.8 1489.6l1.0 1.1M664.8 1574.3l0.0 -0.0M634.5 1366.6l-1.0 1.2M624.0 1438.4l0.0 0.0M653.1 1700.8l2.8 -2.8M446.4 1616.1l0.0 0.0M691.3 1712.2l-2.3 1.9M683.8 1716.7l-0.0 0.0M449.5 1386.8l0.3 4.0M394.4 1397.7l1.7 -2.5M393.0 1394.0l-1.0 -1.2M387.1 1390.9l-3.0 0.1M429.5 1673.7l0.5 1.4M427.4 1584.9l-1.0 0.2M439.0 1361.7l0.0 0.0M442.8 1366.8l-0.0 2.0M663.6 1326.7l1.5 0.3M667.3 1324.4l0.0 -0.0M519.7 1453.2l0.4 4.0M518.5 1458.9l-0.3 1.0M370.4 1597.7l-1.5 0.1M454.7 1674.1l0.0 -0.0M359.2 1664.1l0.6 -2.9M356.5 1661.1l-0.0 -0.0M392.1 1503.3l-0.5 1.4M356.5 1474.4l-2.0 -0.4M411.9 1335.4l-0.3 -1.0M421.1 1327.3l0.4 -2.0M630.2 1544.2l0.6 -0.8M363.6 1708.5l0.0 -0.0M631.7 1699.9l1.4 -0.6M394.6 1564.3l-1.5 0.3M552.5 1329.9l-3.2 2.4M586.5 1466.7l-0.0 0.0M375.7 1330.2l-0.0 -0.0M455.4 1548.2l0.0 0.0M519.2 1476.9l-0.0 0.0M732.0 1351.6l1.5 0.1M706.3 1341.3l-0.0 0.0M597.5 1598.3l-1.5 0.1M594.5 1601.7l-0.5 0.9M584.1 1622.0l-0.7 -3.9M580.1 1616.4l-0.0 -0.0M591.8 1390.0l0.7 -1.3M488.7 1512.1l4.0 -0.3M439.5 1520.7l0.0 0.0M630.7 1368.4l-1.0 -1.1M622.7 1413.8l0.7 1.3M570.3 1600.2l-0.8 2.9M385.7 1564.6l2.6 -1.5M501.9 1434.9l3.6 -1.7M454.1 1469.4l-0.0 -0.0M353.2 1592.9l0.6 1.4M436.3 1539.0l1.1 -2.8M428.4 1419.6l-1.0 0.0M509.2 1415.9l0.0 -0.0M510.4 1414.0l2.4 -3.2M609.9 1338.1l-1.6 3.7M502.1 1354.9l2.0 0.2M512.9 1348.8l1.5 -1.4M541.1 1613.2l-0.0 0.0M607.1 1364.9l-1.6 -1.1M480.0 1415.2l2.3 -1.9M485.9 1416.8l1.7 1.0M368.4 1410.8l-0.7 1.9M597.9 1362.7l0.0 -4.0M603.3 1352.6l2.3 -3.3M666.6 1537.3l1.3 -0.8M666.9 1527.1l0.4 -0.9M668.8 1523.2l0.3 -1.5M382.9 1681.4l2.5 1.7M618.6 1486.9l-2.7 -1.2M615.4 1483.4l-1.0 -1.7M516.7 1594.9l-0.3 -1.5M527.8 1589.1l0.0 -0.0M463.6 1348.2l-2.7 -1.4M485.0 1485.2l0.0 -0.0M668.6 1536.2l0.7 -1.3M540.1 1438.5l-0.7 2.9M335.1 1640.6l1.7 -2.5M622.6 1329.3l0.5 -0.9M644.4 1712.9l1.1 -1.0M684.0 1441.4l-0.0 -0.0M478.6 1409.2l0.5 4.0M727.3 1526.1l-0.0 0.0M420.7 1322.7l-3.9 0.7M591.4 1375.9l4.0 0.6M515.3 1481.7l3.0 0.5M522.7 1489.3l0.0 0.0M524.3 1494.2l0.3 1.0M413.4 1407.2l0.0 0.0M418.0 1409.9l0.8 0.5M641.7 1382.5l-0.0 0.0M637.7 1383.7l-1.9 0.7M578.5 1543.0l-0.0 -0.0M541.5 1534.9l0.0 0.0M373.0 1327.3l3.5 -1.9M702.2 1503.4l1.1 1.1M732.5 1521.6l-1.2 -0.9M396.4 1399.2l0.0 -0.0M466.8 1594.9l-0.8 1.8M414.6 1425.6l-1.9 3.5M453.3 1650.0l-1.1 -1.7M453.8 1644.9l0.2 -1.5M531.3 1497.6l-0.3 1.0M554.9 1685.1l-0.2 1.5M734.3 1347.8l-1.0 -3.9M696.2 1621.1l-0.9 -1.8M528.2 1473.9l-0.0 -0.0M689.6 1476.7l0.8 0.6M406.7 1477.7l-1.0 0.0M402.6 1476.2l-1.3 -0.8M500.4 1558.7l1.5 0.3M366.4 1487.1l0.4 -1.4M368.1 1485.7l3.2 -2.4M456.3 1631.3l0.0 -0.0M459.9 1626.6l0.7 -1.3M712.2 1504.8l0.0 0.0M716.6 1504.9l1.0 -0.0M509.3 1565.7l1.2 0.9M515.1 1566.0l2.0 -0.3M450.9 1341.0l-0.6 1.4M506.2 1506.0l-1.8 -2.4M449.1 1355.9l0.0 0.0M637.3 1717.4l-0.0 -0.0M439.9 1371.8l-1.8 -0.9M727.3 1506.3l0.4 0.9M725.6 1508.8l-2.6 3.1M402.5 1588.7l1.0 -0.3M547.5 1354.8l-1.0 0.0M544.8 1357.7l-2.8 2.9M720.8 1626.6l1.0 0.1M549.7 1358.6l-3.0 -0.1M570.5 1479.1l-0.0 0.0M658.8 1647.3l0.8 0.7M657.7 1654.5l-1.6 3.7M547.4 1703.4l-0.0 0.0M627.8 1466.4l-0.2 3.0M734.0 1336.2l3.0 -0.3M642.3 1440.8l-0.4 1.9M349.9 1670.2l0.0 -0.0M437.7 1445.9l2.8 1.1M441.4 1450.3l0.7 1.9M340.6 1660.3l-0.0 0.0M645.2 1608.6l0.0 -0.0M509.3 1538.3l-1.2 -0.8M514.9 1422.5l0.0 0.0M519.7 1425.3l0.0 0.0M522.9 1431.1l0.0 0.0M538.8 1655.3l1.0 0.1M640.8 1342.7l-0.0 -0.0M693.9 1581.0l0.3 -2.0M674.6 1679.3l-1.0 0.2M691.2 1373.2l-2.0 0.0M618.4 1408.6l0.9 0.5M661.7 1360.1l-0.3 -1.0M634.5 1356.7l1.0 -0.3M635.8 1354.1l0.3 -1.5M477.9 1570.5l0.2 1.5M681.6 1438.1l0.4 0.9M378.8 1464.1l0.8 -0.6M382.0 1536.2l-1.9 -0.4M704.2 1531.3l0.0 -0.0M509.5 1541.3l-0.0 0.0M359.3 1651.7l-0.0 -0.0M354.0 1650.2l-0.0 -0.0M607.6 1529.4l1.0 -1.7M380.3 1614.6l-0.0 -0.0M501.5 1599.1l-3.0 -0.5M544.4 1395.0l-0.6 0.8M442.8 1706.0l-2.2 -2.0M454.5 1430.0l2.6 1.5M457.2 1435.7l0.4 1.5M703.6 1498.8l0.0 0.0M435.4 1415.5l-2.6 -3.0M436.3 1410.5l0.5 -0.9M442.0 1407.7l0.0 -0.0M364.4 1405.6l-3.4 -2.2M356.6 1399.2l-0.4 -3.0M350.3 1397.3l-0.0 -0.0M718.0 1689.9l-3.8 -1.2M714.0 1686.7l-1.8 -2.4M339.0 1364.2l-2.0 -0.4M553.5 1581.8l-0.8 -0.6M391.1 1616.1l-1.4 -0.5M388.3 1612.6l-1.6 -2.5M420.7 1495.0l1.4 -1.5M425.3 1492.2l1.2 -0.9M545.6 1454.0l1.1 -1.6M546.2 1450.8l-0.2 -2.0M655.3 1377.9l-0.2 -2.0M461.9 1712.7l0.7 1.3M466.8 1721.0l0.0 0.0M520.1 1403.8l1.7 -2.5M640.2 1640.7l-0.9 0.4M343.4 1363.7l2.8 -1.0M530.1 1369.5l-1.3 0.8M526.7 1370.2l-4.0 -0.2M521.6 1546.1l-0.0 0.0M603.8 1497.0l0.0 -0.0M397.2 1406.1l-3.0 -0.0M632.3 1492.4l-2.0 2.3M723.6 1522.2l-0.9 -3.9M510.9 1574.6l-3.0 0.3M506.0 1578.4l-0.0 0.0M482.5 1352.6l0.0 -0.0M529.0 1636.9l-2.2 -2.1M452.5 1434.8l-0.0 0.0M602.9 1335.8l0.0 0.0M606.3 1337.2l3.9 1.1M440.9 1371.3l-0.8 1.3M721.6 1413.0l0.0 -0.0M663.8 1584.7l1.0 0.2M659.6 1632.7l0.4 0.9M532.7 1491.0l-0.0 -0.0M533.6 1490.0l1.8 -2.4M538.5 1488.0l2.0 -0.1M536.6 1473.6l1.3 2.7M447.1 1502.7l-4.0 0.6M727.5 1645.5l1.2 -1.6M671.5 1375.8l-0.0 0.0M348.0 1612.1l-3.0 -0.0M450.5 1516.3l0.7 0.7M571.4 1398.4l-2.2 -2.0M547.6 1673.4l0.1 1.5M453.1 1577.3l-0.6 -0.8M406.0 1527.5l1.4 1.4M659.5 1515.0l-0.6 -0.8M345.3 1369.3l-0.0 -0.0M355.1 1677.5l0.4 0.9M359.1 1677.9l1.0 -0.1M366.9 1669.5l0.0 -0.0M731.0 1484.8l0.9 -0.4M607.7 1421.0l-0.6 -1.4M415.5 1448.0l-1.0 -3.9M631.3 1430.4l0.0 0.0M628.1 1435.9l-0.0 0.0M625.6 1435.2l-4.0 -0.3M348.0 1639.4l0.2 1.0M672.3 1429.1l-1.1 2.8M557.2 1712.9l2.3 1.9M381.4 1708.8l-1.2 -0.9M379.5 1705.5l-1.8 -2.4M704.3 1710.4l0.0 -1.5M567.3 1597.7l0.7 1.3M554.6 1549.4l1.6 3.7M369.0 1471.7l1.9 0.6M425.9 1454.3l-1.0 0.3M422.5 1456.4l-1.5 1.3M640.4 1431.4l0.1 -1.5M719.0 1555.8l-0.7 2.9M720.7 1563.7l0.3 1.0M547.8 1449.0l0.7 0.7M549.1 1454.0l0.0 0.0M609.5 1528.0l-0.5 1.4M573.5 1618.1l-0.0 -0.0M574.0 1614.3l0.1 -1.0M678.6 1381.0l1.1 -1.0M529.6 1385.6l-1.9 -0.6M542.7 1433.8l-0.8 0.6M572.9 1571.8l0.1 -1.0M396.2 1666.1l-0.4 0.9M481.9 1385.3l2.4 -3.2M484.9 1380.5l0.8 -1.3M494.7 1377.6l3.6 -1.8M607.3 1639.4l1.9 -0.7M425.1 1705.4l1.8 -0.9M645.5 1541.2l-0.3 2.0M628.5 1444.7l2.8 1.1M545.2 1573.0l2.2 -3.3M497.0 1657.0l-4.0 -0.5M489.0 1657.2l-0.0 0.0M457.7 1627.2l-0.3 0.9M477.9 1468.6l-1.0 0.1M450.9 1392.2l1.0 -0.2M373.3 1721.4l2.0 0.2M404.4 1460.8l0.0 0.0M347.7 1586.9l1.4 -0.6M377.2 1592.7l-1.8 -3.6M693.6 1597.4l-0.0 0.0M690.5 1590.6l-0.0 -0.0M655.4 1418.2l-1.9 -0.5M596.7 1584.0l0.0 -0.0M597.6 1580.7l0.6 -1.9M346.8 1732.5l1.4 0.5M591.5 1697.5l-2.2 2.0M334.7 1428.2l-0.7 1.3M455.1 1718.8l0.0 0.0M446.2 1663.3l4.0 -0.6M546.1 1429.0l0.6 1.9M545.0 1433.0l-0.8 1.3M363.8 1685.0l0.8 -0.7M501.6 1366.9l0.0 -0.0M609.3 1466.1l-3.9 0.9M664.6 1450.2l-3.8 1.1M575.9 1322.4l-1.5 1.3M649.8 1666.6l0.3 -3.0M458.6 1485.9l0.0 -0.0M461.7 1484.7l2.0 -0.4M434.7 1587.7l0.0 -0.0M339.5 1595.4l-4.0 -0.6M361.8 1650.4l-0.8 2.9M529.3 1417.5l2.8 1.1M689.8 1427.4l-0.0 -0.0M688.7 1423.2l-0.0 -0.0M696.9 1406.0l-2.9 -0.9M693.7 1403.1l-2.0 -2.3M492.9 1706.6l3.9 -1.0M495.0 1701.0l0.1 -1.0M493.0 1698.0l-2.2 -2.1M623.4 1673.2l2.0 -2.3M480.3 1352.7l2.1 -3.4M454.7 1491.5l4.0 -0.3M465.4 1489.3l3.9 0.8M673.1 1627.8l-0.0 0.0M673.8 1630.7l0.1 1.5M593.4 1607.9l0.0 0.0M417.6 1674.7l0.0 0.0M701.9 1473.0l2.3 -1.9M728.6 1673.0l-0.4 1.4M726.5 1673.6l-3.9 -1.0M467.4 1660.5l0.8 -1.3M465.5 1468.4l-0.0 -0.0M456.0 1467.2l-0.9 0.4M466.2 1652.7l-0.0 -0.0M470.8 1649.6l0.0 -0.0M472.7 1648.0l2.4 -1.9M653.0 1411.5l3.3 -2.2M657.8 1596.3l-0.9 2.9M471.7 1504.7l-1.5 -0.2M536.3 1535.8l-0.1 -1.5M423.3 1523.0l0.0 -0.0M653.0 1689.8l0.0 0.0M540.2 1688.6l0.4 -1.4M540.6 1680.4l-0.5 -1.9M543.6 1669.4l3.9 0.8M643.6 1642.9l-0.0 0.0M725.2 1721.3l-1.8 1.0M521.0 1477.0l0.0 0.0M526.7 1475.7l0.0 -0.0M347.3 1613.6l-1.3 -1.5"/><path stroke-width="7" d="M562.0 1496.9l0.5 -0.9M737.4 1328.3l-2.4 1.8M362.7 1486.3l0.9 0.4M435.5 1576.6l1.5 -1.4M664.2 1370.7l-0.8 3.9M414.6 1650.6l0.6 1.4M682.3 1492.1l1.9 3.5M342.0 1482.6l1.8 3.6M376.6 1490.5l3.6 -1.8M415.1 1572.6l0.8 0.6M371.6 1477.0l-1.4 -0.6M700.0 1340.2l1.7 -1.1M495.7 1445.8l-0.4 1.9M513.9 1514.0l2.0 0.4M598.6 1716.3l-1.0 3.9M424.5 1382.5l-0.0 -0.0M658.6 1451.3l0.5 0.9M441.7 1535.3l-0.0 -0.0M652.4 1369.7l3.6 -1.8M677.6 1415.0l0.0 -0.0M361.1 1685.5l-2.0 -0.0M343.2 1450.5l-0.0 0.0M334.6 1539.8l3.5 1.9M362.4 1496.3l0.2 1.5M618.4 1421.6l1.0 0.1M713.5 1646.5l0.8 0.6M452.2 1599.7l2.0 0.2M583.8 1707.6l-0.0 0.0M354.0 1694.2l0.6 1.9M693.1 1710.6l-0.0 -0.0M658.4 1426.7l0.0 0.0M460.0 1336.2l1.6 -1.2M375.7 1596.9l-3.0 0.4M562.1 1349.0l-0.3 0.9M393.8 1496.7l-0.0 0.0M366.5 1429.1l2.9 -0.6M364.8 1477.9l-0.0 -0.0M603.1 1623.4l-0.0 0.0M525.4 1527.5l-3.8 -1.1M519.9 1523.5l-1.1 -1.0M520.8 1470.2l0.0 0.0M607.1 1350.2l-1.4 -3.8M563.9 1489.6l-2.9 2.7M729.8 1619.1l-1.7 -1.1M625.6 1417.6l0.6 0.8M625.1 1421.6l-0.3 4.0M513.8 1436.0l-1.5 0.3M506.4 1436.6l0.0 0.0M504.0 1441.4l-0.0 0.0M434.7 1542.7l0.7 -0.7M363.3 1601.0l3.2 -2.4M508.1 1353.3l0.9 -0.4M530.6 1472.3l3.6 1.7M712.0 1405.5l-0.0 0.0M409.2 1459.9l0.3 -3.0M412.6 1457.5l1.4 -0.5M375.5 1708.2l1.4 1.4M651.5 1457.4l-1.5 0.1M483.2 1686.3l0.0 0.0M478.6 1405.0l-0.1 4.0M520.9 1485.3l1.2 0.8M552.9 1333.3l-0.7 1.3M401.8 1671.5l0.0 0.0M538.5 1531.1l0.4 2.0M549.4 1538.3l2.0 0.3M611.0 1487.1l-2.0 -2.2M512.7 1490.3l-2.9 0.6M508.2 1488.8l-1.7 -1.1M728.3 1518.8l-1.7 -1.0M456.9 1598.3l-1.4 0.4M572.4 1358.0l-0.6 1.9M429.2 1525.0l-0.0 -0.0M533.2 1490.8l-0.7 2.9M556.6 1680.2l-1.9 3.5M698.3 1624.3l-1.0 0.0M414.0 1476.5l-3.8 1.1M368.0 1659.1l-1.2 -3.8M726.3 1514.0l1.5 2.6M552.1 1353.4l-0.6 1.9M455.7 1449.0l-0.0 0.0M575.8 1486.1l0.5 0.9M340.2 1513.6l0.0 0.0M516.8 1330.3l-0.7 0.7M518.5 1706.4l-1.0 0.1M453.8 1550.8l-0.9 -0.4M659.9 1651.3l0.0 0.0M628.0 1462.9l0.8 0.6M664.6 1356.1l0.7 -0.7M531.0 1527.2l-1.1 1.0M525.1 1532.2l-0.0 0.0M552.0 1668.2l0.0 -0.0M385.7 1536.7l-0.8 0.6M419.5 1479.6l0.0 -0.0M722.6 1691.8l0.9 0.5M696.9 1531.7l0.0 0.0M397.9 1688.8l1.9 -0.5M452.1 1388.0l-0.0 0.0M505.0 1599.5l-1.0 -0.2M547.4 1391.2l-3.0 0.4M542.9 1553.1l-0.0 -0.0M449.2 1608.0l-1.9 -2.3M561.6 1365.8l1.9 -2.3M339.0 1368.8l-0.7 -1.3M520.6 1366.7l-0.0 -0.0M718.2 1664.5l0.0 0.0M660.3 1599.1l-1.5 0.3M724.6 1525.6l0.0 -0.0M440.2 1364.4l1.0 0.2M425.6 1714.0l0.0 0.0M667.3 1404.9l1.8 2.4M582.2 1713.6l0.6 -1.4M347.3 1406.5l0.0 0.0M443.4 1357.3l1.0 1.7M721.4 1417.1l-0.5 -0.9M399.4 1466.7l0.0 0.0M655.5 1628.0l3.6 1.8M662.0 1633.5l2.9 0.7M475.0 1442.4l-0.0 0.0M528.9 1625.4l0.0 0.0M567.9 1641.2l-0.0 -0.0M406.0 1683.1l-0.2 1.0M621.1 1433.6l-2.2 -2.1M403.7 1473.7l2.9 -2.7M412.1 1473.2l0.0 0.0M415.3 1477.2l0.9 1.2M383.6 1713.0l-0.4 -4.0M572.4 1601.4l1.8 0.9M594.1 1631.1l0.5 -0.9M590.7 1626.3l-0.7 -0.7M719.4 1553.7l0.0 0.0M533.5 1628.2l0.0 -0.0M424.9 1472.0l0.5 1.4M734.8 1681.0l-0.0 -0.0M352.4 1461.7l-1.9 2.3M551.6 1430.4l-3.0 0.1M397.7 1670.1l0.0 0.0M423.3 1707.4l-0.0 -0.0M361.5 1385.1l0.9 -0.4M411.0 1642.1l-0.0 0.0M406.4 1641.4l-0.0 -0.0M559.0 1395.2l-1.3 -0.7M480.8 1467.7l-1.0 1.2M408.5 1456.1l0.0 0.0M459.7 1546.2l1.9 -2.3M468.1 1539.6l3.0 0.2M646.3 1423.7l-0.0 0.0M337.4 1720.9l1.4 1.4M546.5 1442.3l0.8 1.3M496.9 1384.3l-1.5 -0.2M361.8 1647.8l-0.3 2.0M714.1 1432.6l-1.9 0.7M717.4 1573.1l-0.0 -0.0M731.7 1606.7l1.0 1.1M442.4 1548.9l2.7 -1.4M450.0 1519.2l-1.4 -0.4M422.0 1674.5l1.0 -0.0M726.1 1677.8l-2.4 3.2M469.2 1471.0l0.0 -0.0M687.6 1392.4l0.0 -0.0M534.1 1530.7l-1.2 -2.8M432.0 1585.5l1.0 0.2"/></g>
<g fill="none" stroke-linecap="round"><path stroke="#282828" stroke-width="2" d="M600.9 1472.8l-2.3 -1.9M461.9 1695.7l-0.0 0.0M337.3 1474.5l0.0 0.0M491.2 1448.4l-2.4 3.2M528.2 1594.9l0.4 -0.9M437.0 1662.3l-0.5 -1.4M498.7 1573.4l-1.0 0.2M412.4 1540.2l3.8 1.3M680.2 1725.3l0.7 1.4M699.3 1521.9l-0.0 0.0M627.5 1536.0l-0.4 -2.0M449.7 1544.3l0.0 1.0M582.9 1620.7l-0.7 -3.9M487.5 1510.1l4.0 -0.3M467.6 1391.9l-0.6 2.9M665.1 1535.5l1.3 -0.8M539.8 1426.7l-2.2 2.0M730.8 1524.0l-0.0 0.0M531.0 1641.5l0.2 2.0M406.7 1431.7l-2.3 3.2M410.9 1546.6l1.3 0.7M530.0 1495.6l-0.3 1.0M363.4 1489.3l-0.0 -0.0M551.5 1348.2l-0.0 0.0M548.1 1696.0l0.2 2.0M545.5 1702.1l-0.0 0.0M454.8 1381.6l3.0 -0.4M436.4 1443.9l2.8 1.1M537.4 1654.0l1.0 0.1M692.9 1584.6l-1.6 -2.6M677.3 1430.7l0.6 0.8M684.9 1534.3l-1.2 -3.8M434.6 1408.9l0.5 -0.9M632.5 1549.0l-0.4 -2.0M632.4 1654.9l-0.2 1.0M517.4 1359.8l-0.9 -2.9M563.3 1358.1l0.0 0.0M481.2 1350.6l0.0 -0.0M452.3 1440.0l0.0 0.0M401.9 1463.6l0.0 -0.0M454.2 1578.9l-0.0 -0.0M414.0 1440.6l0.5 -4.0M708.3 1643.5l-0.5 -0.9M551.3 1449.5l-3.0 0.3M643.0 1534.8l1.9 3.5M562.9 1640.8l-1.5 0.3M552.7 1666.7l1.0 0.1M730.1 1717.1l-3.9 0.8"/><path stroke="#282828" stroke-width="3" d="M662.5 1372.7l-0.3 4.0M412.8 1649.3l0.6 1.4M699.0 1338.1l1.7 -1.1M561.5 1719.5l0.7 -1.9M427.1 1381.3l-0.8 -0.6M370.7 1437.3l2.0 3.5M706.6 1624.7l-0.0 0.0M638.1 1373.6l-1.3 1.6M378.9 1527.4l-0.5 0.9M409.7 1505.6l1.0 -1.7M606.2 1336.5l0.7 -0.7M711.6 1644.8l0.8 0.6M581.9 1705.9l-0.0 0.0M491.7 1437.9l0.7 3.9M438.0 1360.4l0.0 0.0M368.4 1595.6l-1.5 0.1M560.5 1347.2l-0.3 0.9M419.5 1330.4l-2.2 -2.1M374.4 1328.4l-0.0 -0.0M596.0 1597.0l-1.5 0.1M392.7 1555.9l0.9 2.9M512.7 1434.4l-1.5 0.3M452.1 1467.3l-0.0 -0.0M596.0 1336.8l-1.0 -0.3M488.0 1416.2l1.5 0.3M616.8 1484.8l-2.7 -1.2M521.1 1590.0l3.9 0.6M535.4 1514.6l1.0 0.1M642.9 1710.8l1.1 -1.0M394.7 1397.8l0.0 -0.0M719.5 1500.3l0.0 -0.0M622.4 1458.9l2.0 -0.3M608.7 1646.7l0.7 -0.7M434.0 1442.9l0.0 0.0M511.5 1539.0l-1.0 0.3M517.9 1423.8l0.0 0.0M580.4 1325.1l-1.7 1.1M672.9 1677.3l-1.0 0.2M418.1 1477.7l0.0 -0.0M357.7 1650.0l-0.0 -0.0M396.7 1687.4l1.9 -0.5M438.6 1362.4l1.0 0.2M601.3 1334.0l0.0 0.0M368.4 1524.2l-0.3 -2.0M650.3 1438.0l-0.3 3.0M720.2 1410.9l0.0 -0.0M660.6 1631.9l2.9 0.7M445.2 1500.8l-4.0 0.6M361.7 1674.2l0.9 -0.4M626.7 1434.2l-0.0 0.0M402.0 1472.3l2.9 -2.7M555.9 1711.3l2.3 1.9M590.7 1633.2l0.0 -0.0M367.8 1469.7l1.9 0.6M421.2 1455.0l-1.5 1.3M604.5 1531.3l-0.0 0.0M528.2 1384.1l-1.9 -0.6M550.3 1428.9l-3.0 0.1M398.6 1669.9l1.4 0.6M409.1 1640.8l-0.0 0.0M626.9 1443.4l2.8 1.1M476.0 1466.9l-1.0 0.1M411.7 1453.7l1.5 -0.1M653.8 1416.5l-1.9 -0.5M594.7 1582.4l0.0 -0.0M336.0 1718.7l1.4 1.4M390.9 1321.8l-0.0 -0.0M375.3 1494.1l-1.6 2.5M730.2 1573.1l0.0 -0.0M469.7 1647.6l0.0 -0.0M427.3 1517.8l0.0 -0.0M538.4 1686.6l0.4 -1.4"/><path stroke="#383838" stroke-width="2" d="M729.0 1479.8l-2.7 -1.2M547.2 1618.1l0.0 0.0M366.7 1470.7l-0.0 -0.0M639.7 1712.5l0.0 0.0M381.7 1665.0l-1.5 -0.3M439.8 1591.2l-2.0 -2.2M504.1 1567.7l0.7 3.9M596.0 1720.4l-0.1 1.0M565.6 1706.9l1.0 -0.0M593.8 1443.5l-1.5 0.1M421.0 1620.2l3.3 -2.3M381.4 1595.4l1.3 2.7M641.3 1369.4l-0.9 1.8M622.3 1709.0l-1.1 3.8M715.1 1573.0l0.0 0.0M381.1 1522.1l-0.5 4.0M336.2 1543.3l0.0 0.0M610.9 1335.3l2.9 -0.6M678.2 1721.1l-0.0 0.0M660.3 1464.9l-1.8 2.4M665.2 1471.2l1.0 0.2M515.4 1455.4l-0.0 -0.0M600.0 1709.2l0.2 -1.5M637.8 1361.0l-3.0 -0.0M626.9 1436.7l0.0 0.0M447.1 1388.3l-3.6 1.8M667.9 1318.0l1.3 -2.7M358.1 1662.4l0.6 -2.9M395.3 1491.3l-0.4 3.0M362.4 1707.1l0.0 -0.0M543.1 1327.5l-0.0 -0.0M617.1 1406.9l0.7 -0.7M731.3 1662.9l-0.0 -0.0M352.3 1659.0l-0.0 -0.0M714.4 1478.4l-3.1 2.5M575.6 1593.7l-2.6 1.5M712.7 1342.8l-2.0 0.3M506.0 1436.1l-1.0 0.2M608.3 1336.1l-1.6 3.7M513.7 1342.8l1.2 -2.7M526.6 1587.5l0.0 -0.0M687.6 1442.7l-0.0 -0.0M683.0 1440.1l-0.0 -0.0M549.2 1606.3l-0.0 -0.0M583.6 1650.7l-0.4 -2.0M612.4 1488.2l-2.4 -1.9M553.1 1667.6l0.9 -0.5M454.2 1652.8l-0.2 -1.5M371.2 1339.6l-1.1 1.1M505.1 1328.9l-1.4 0.4M428.6 1437.8l1.9 0.6M573.4 1566.1l1.4 -0.4M513.1 1421.0l0.0 0.0M521.2 1429.0l0.0 0.0M579.6 1330.7l-0.0 0.0M421.7 1479.4l0.0 0.0M352.2 1648.6l-0.0 -0.0M495.2 1528.1l-0.0 -0.0M433.6 1487.5l0.6 -0.8M544.4 1452.2l1.1 -1.6M509.8 1572.9l-3.0 0.3M409.3 1715.3l0.0 -0.0M661.3 1398.9l3.7 1.5M532.5 1487.9l1.8 -2.4M534.7 1471.6l1.3 2.7M346.8 1610.6l-3.0 -0.0M452.9 1513.3l1.4 -0.6M542.3 1676.1l-0.0 0.0M451.5 1575.7l-0.6 -0.8M533.7 1621.5l0.9 -0.3M355.9 1680.8l0.1 -1.0M709.5 1636.8l0.5 -3.0M346.6 1637.5l0.2 1.0M499.4 1598.7l-0.0 0.0M588.6 1638.5l0.8 -1.8M508.7 1682.7l-1.4 0.4M505.6 1681.4l-2.5 -1.6M546.4 1428.9l-4.0 -0.2M602.3 1639.2l0.1 -1.0M495.9 1655.6l-4.0 -0.5M614.9 1375.1l0.0 -0.0M595.9 1578.8l0.6 -1.9M555.6 1709.1l-2.6 1.6M543.4 1431.2l-0.8 1.3M409.1 1373.2l0.5 1.9M621.6 1671.2l2.0 -2.3M672.0 1625.6l-0.0 0.0M733.0 1610.5l0.8 1.8M509.1 1481.6l0.9 -0.4"/><path stroke="#383838" stroke-width="3" d="M560.4 1495.2l0.5 -0.9M668.1 1374.4l0.0 0.0M360.8 1484.6l0.9 0.4M361.2 1487.8l-0.1 1.5M664.0 1364.4l-0.2 1.5M375.4 1488.9l3.6 -1.8M342.7 1436.6l0.0 0.0M691.0 1371.1l-0.2 4.0M540.6 1616.8l0.0 -0.0M369.8 1475.3l-1.4 -0.6M368.5 1657.6l-1.8 -0.8M360.2 1650.9l-0.9 -0.3M412.1 1470.0l-0.1 1.0M504.2 1510.7l3.8 1.1M734.5 1701.0l0.1 1.0M585.4 1469.5l-4.0 0.1M422.4 1582.1l-2.0 2.2M655.3 1445.2l0.0 0.0M586.2 1697.2l-1.5 0.2M579.2 1701.7l-2.8 2.9M573.9 1706.6l-0.0 0.0M440.6 1534.1l-0.0 -0.0M717.0 1622.3l-0.0 -0.0M713.2 1622.2l-1.5 -0.0M705.4 1630.3l-0.0 0.0M588.6 1444.9l-0.0 0.0M604.7 1621.1l-0.0 -0.0M514.9 1438.5l1.5 0.2M352.9 1362.7l1.5 -0.4M351.6 1679.5l-3.0 0.3M462.8 1501.2l0.6 -1.4M457.0 1499.6l1.0 -1.1M714.6 1568.0l0.6 1.4M440.9 1657.3l1.0 -1.1M667.0 1539.1l-1.3 -2.7M616.5 1420.3l1.0 0.1M505.7 1323.5l1.9 0.6M508.6 1326.8l0.0 0.0M589.4 1399.1l0.0 0.0M641.1 1388.6l1.0 0.3M645.6 1391.2l0.0 0.0M595.4 1406.0l-2.5 -1.7M499.9 1341.7l-0.0 -0.0M651.1 1699.3l2.8 -2.8M689.7 1710.2l-2.3 1.9M448.3 1385.6l0.3 4.0M427.5 1672.5l0.5 1.4M433.1 1356.3l0.1 1.5M605.8 1415.1l-1.9 0.7M656.5 1424.9l0.0 0.0M606.2 1395.0l-1.0 -1.1M374.0 1595.1l-3.0 0.4M362.8 1476.6l-0.0 -0.0M422.2 1412.1l-0.7 1.9M730.9 1350.2l1.5 0.1M593.2 1600.3l-0.5 0.9M461.5 1611.8l1.6 -3.7M540.7 1605.6l0.0 0.0M539.4 1611.7l-0.0 0.0M529.6 1470.6l3.6 1.7M484.3 1415.1l1.7 1.0M366.7 1408.7l-0.7 1.9M407.5 1458.1l0.3 -3.0M509.6 1519.7l-0.4 0.9M599.1 1353.9l0.5 -0.9M429.8 1505.4l-2.5 1.6M423.7 1503.1l-0.0 -0.0M375.7 1718.4l0.0 0.0M515.0 1593.3l-0.3 -1.5M667.1 1534.8l0.7 -1.3M620.7 1327.9l0.5 -0.9M635.6 1713.2l0.0 0.0M589.8 1374.5l4.0 0.6M519.8 1483.4l1.2 0.8M522.4 1492.4l0.3 1.0M400.3 1669.4l0.0 0.0M451.9 1643.0l0.2 -1.5M571.4 1356.3l-0.6 1.9M427.6 1523.6l-0.0 -0.0M554.8 1678.7l-1.9 3.5M553.5 1683.3l-0.2 1.5M683.6 1471.5l0.6 1.9M400.3 1583.9l1.5 -0.3M714.9 1502.9l1.0 -0.0M669.4 1580.4l-3.9 0.7M367.0 1657.1l-1.2 -3.8M576.8 1416.0l-1.0 -0.3M455.9 1551.5l0.3 -2.0M732.9 1334.6l3.0 -0.3M524.1 1530.1l-0.0 0.0M476.1 1568.6l0.2 1.5M384.0 1534.8l-0.8 0.6M695.7 1530.2l0.0 0.0M489.0 1596.5l-1.9 0.5M440.8 1405.9l0.0 -0.0M349.1 1395.1l-0.0 -0.0M377.2 1681.5l3.1 -2.5M337.4 1362.3l-2.0 -0.4M447.9 1606.5l-1.9 -2.3M562.3 1528.9l-2.3 -2.0M560.4 1363.8l1.9 -2.3M338.1 1364.2l1.2 -2.7M523.4 1541.0l0.0 0.0M520.1 1544.1l-0.0 0.0M630.5 1490.9l-2.0 2.3M464.0 1572.8l0.8 0.6M498.6 1366.3l2.7 -1.3M418.9 1712.1l2.6 -1.5M658.1 1398.5l2.9 -0.6M610.2 1335.7l1.5 0.1M654.4 1625.9l3.6 1.8M657.7 1630.7l0.4 0.9M537.5 1486.5l2.0 -0.1M532.2 1467.3l1.0 0.3M351.9 1610.9l-3.0 -0.5M545.0 1665.5l0.9 0.4M566.9 1639.0l-0.0 -0.0M629.6 1428.6l0.0 0.0M670.7 1427.6l-1.1 2.8M589.6 1624.9l-0.7 -0.7M639.3 1429.7l0.1 -1.5M641.6 1427.7l1.7 -1.0M572.4 1616.7l-0.0 -0.0M677.1 1378.8l1.1 -1.0M540.9 1431.6l-0.8 0.6M486.9 1378.2l4.0 -0.4M428.2 1701.2l0.8 -0.6M524.6 1509.8l-1.1 -2.8M643.6 1539.3l-0.3 2.0M405.1 1639.7l-0.0 -0.0M557.7 1393.2l-1.3 -0.7M449.8 1390.4l1.0 -0.2M461.2 1538.4l0.8 -1.8M466.5 1537.7l3.0 0.2M457.9 1715.6l2.7 -1.3M334.1 1497.3l-0.8 0.5M497.1 1368.0l-0.0 -0.0M378.9 1490.8l-3.0 -0.0M414.2 1351.8l-1.2 1.6M412.7 1358.7l-0.0 0.0M360.6 1646.0l-0.3 2.0M527.5 1415.8l2.8 1.1M695.7 1404.3l-2.9 -0.9M710.3 1569.5l-1.0 -0.3M504.4 1484.0l0.0 0.0M448.6 1517.3l-1.4 -0.4M415.9 1673.3l0.0 0.0M727.5 1671.7l-0.4 1.4M730.3 1673.7l-1.8 -1.0M686.4 1390.8l0.0 -0.0M649.3 1411.1l0.0 0.0M470.4 1502.7l-1.5 -0.2M541.9 1668.1l3.9 0.8M525.6 1474.3l0.0 -0.0"/><path stroke="#484848" stroke-width="2" d="M511.0 1323.8l0.0 -0.0M473.6 1595.8l2.8 -2.9M434.4 1572.0l0.3 -4.0M475.9 1580.0l-0.0 -0.0M640.4 1482.2l1.4 0.6M580.3 1466.1l-2.0 -2.2M461.2 1479.5l0.0 1.0M367.7 1410.9l4.0 -0.3M333.9 1599.9l-0.3 1.5M517.9 1441.8l1.1 1.7M611.5 1344.3l0.8 -1.3M643.4 1362.9l0.4 4.0M665.0 1672.7l3.9 -0.8M671.5 1671.5l0.0 -0.0M614.8 1336.0l3.7 1.4M668.7 1542.8l0.0 -0.0M647.2 1394.8l0.6 1.4M367.1 1574.9l0.4 -0.9M597.4 1501.2l0.8 0.5M494.7 1444.1l0.0 0.0M398.0 1432.7l2.2 -2.0M420.4 1488.2l1.0 1.1M651.8 1386.9l-0.9 0.5M697.6 1710.6l-2.9 -0.8M385.1 1389.0l-3.0 0.1M522.1 1591.7l0.0 -0.0M453.2 1672.8l0.0 -0.0M598.9 1505.1l0.4 -1.4M414.1 1552.4l-0.9 0.4M359.7 1473.9l-2.3 -2.0M625.6 1701.4l0.1 -1.5M551.1 1328.5l-3.2 2.4M454.2 1546.3l0.0 0.0M512.2 1549.7l-0.3 1.5M516.4 1478.6l-0.7 1.9M349.6 1586.1l0.2 1.0M395.2 1713.5l-0.0 -0.0M532.6 1473.8l1.3 2.7M475.1 1417.3l0.2 -1.5M415.5 1456.5l1.0 0.3M336.7 1592.8l-0.0 0.0M432.2 1504.4l-0.8 -0.6M656.4 1456.2l-0.9 -0.5M539.4 1430.9l0.3 1.5M614.9 1335.7l0.0 0.0M621.0 1323.7l-0.0 -0.0M636.4 1381.7l-1.9 0.7M465.3 1483.2l-1.5 -0.2M629.3 1585.7l-1.4 -0.4M557.4 1676.1l-2.8 1.0M401.5 1474.0l-1.3 -0.8M399.4 1470.7l-0.6 -1.4M396.5 1586.0l0.8 -2.9M453.1 1634.8l-0.4 -0.9M538.5 1532.1l1.0 2.8M664.7 1401.9l-0.0 0.0M719.7 1625.0l1.0 0.1M721.9 1620.4l1.4 -3.8M455.5 1557.8l-1.1 -1.0M736.7 1329.1l0.8 -1.8M514.5 1538.1l-0.0 0.0M374.6 1465.4l1.0 -2.8M414.7 1480.4l1.1 -1.0M709.7 1492.9l1.0 0.1M359.4 1656.8l0.6 -1.4M649.8 1329.1l-0.3 4.0M652.4 1333.7l1.1 1.0M379.0 1612.5l-0.0 -0.0M492.3 1595.6l-0.0 -0.0M453.5 1428.2l2.6 1.5M355.4 1397.8l-0.4 -3.0M716.1 1687.8l-3.8 -1.2M712.3 1684.6l-1.8 -2.4M423.4 1490.0l1.2 -0.9M342.4 1361.6l2.8 -1.0M347.6 1353.2l2.4 1.8M360.0 1646.6l-0.0 0.0M445.7 1362.7l0.0 0.0M442.5 1365.9l-0.7 0.7M439.9 1369.9l-0.8 1.3M483.5 1440.1l0.1 -1.5M404.9 1525.3l1.4 1.4M343.5 1367.8l-0.0 -0.0M605.3 1415.0l-0.3 -2.0M510.7 1432.5l0.0 0.0M644.7 1711.6l1.0 -3.9M377.6 1704.0l-1.8 -2.4M565.7 1596.4l0.7 1.3M552.6 1547.3l1.6 3.7M453.8 1546.4l2.0 -0.3M492.7 1376.1l3.6 -1.8M391.2 1475.3l-0.0 -0.0M662.8 1537.5l-0.6 1.4M613.7 1380.6l0.7 -2.9M565.1 1708.6l-0.2 -1.0M362.7 1683.1l0.8 -0.7M340.8 1593.2l-0.6 0.8M687.1 1421.6l-0.0 -0.0M598.3 1495.6l0.1 -2.0M626.7 1495.9l0.6 1.9M334.5 1523.9l-0.4 4.0M464.9 1651.3l-0.0 -0.0"/><path stroke="#484848" stroke-width="3" d="M606.1 1401.9l0.0 -1.5M433.5 1574.7l1.5 -1.4M646.7 1700.6l-3.4 2.1M681.3 1490.0l1.9 3.5M697.4 1524.2l1.5 -2.6M340.1 1480.8l1.8 3.6M373.4 1476.6l-2.0 -0.2M587.7 1468.9l-0.9 1.2M530.2 1593.0l2.3 -1.9M698.8 1455.1l-0.8 0.6M432.6 1385.7l-0.6 -1.4M657.5 1449.4l0.5 0.9M647.3 1368.7l3.0 0.2M538.9 1579.7l0.4 -0.9M576.5 1446.5l-2.0 -0.4M394.4 1596.8l2.0 -3.5M506.4 1682.7l1.7 -1.1M676.0 1413.6l0.0 -0.0M360.0 1683.4l-2.0 -0.0M498.8 1530.0l-1.2 0.9M620.6 1717.1l-0.2 1.0M336.5 1448.6l-0.0 -0.0M382.2 1516.9l-1.1 1.0M463.9 1421.4l1.0 0.2M407.3 1508.2l1.9 -0.6M491.9 1573.9l-0.0 0.0M420.4 1538.5l3.9 0.7M515.5 1326.7l0.0 -0.0M467.8 1492.8l-1.2 -0.9M581.9 1395.5l4.0 -0.3M363.6 1580.3l2.7 -1.2M450.3 1598.2l2.0 0.2M453.8 1596.8l3.4 -2.1M374.7 1595.6l1.9 -0.5M557.9 1318.1l-2.3 -1.9M477.0 1654.5l-0.9 -2.9M421.6 1491.9l0.9 3.9M352.6 1692.1l0.6 1.9M622.4 1436.5l0.0 0.0M655.9 1383.3l-1.4 3.8M387.3 1389.0l-0.0 -0.0M425.6 1582.9l-1.0 0.2M458.7 1334.5l1.6 -1.2M654.3 1422.0l0.0 0.0M656.9 1423.8l3.3 2.3M392.2 1495.3l-0.0 0.0M649.9 1686.0l2.2 2.1M705.2 1520.3l-0.0 -0.0M410.6 1334.1l-0.3 -1.0M419.2 1325.3l0.4 -2.0M623.8 1545.4l4.0 0.4M387.1 1555.2l-0.0 -0.0M507.3 1553.5l-0.0 0.0M605.3 1348.3l-1.4 -3.8M621.0 1412.4l0.7 1.3M623.9 1416.4l0.6 0.8M383.7 1562.4l2.6 -1.5M504.8 1434.7l0.0 0.0M501.1 1353.0l2.0 0.2M506.5 1351.4l0.9 -0.4M710.3 1403.6l-0.0 0.0M410.9 1455.6l1.4 -0.5M375.1 1674.2l0.7 0.7M377.7 1676.8l1.4 1.4M374.0 1706.5l1.4 1.4M614.1 1481.9l-1.0 -1.7M734.9 1495.5l2.0 -2.2M650.0 1456.2l-1.5 0.1M476.6 1403.3l-0.1 4.0M419.3 1321.3l-3.9 0.7M521.2 1488.1l0.0 0.0M500.9 1648.1l0.9 -1.2M645.7 1376.9l-0.0 0.0M368.2 1328.4l0.6 -2.9M371.9 1325.2l3.5 -1.9M616.4 1492.4l-0.1 -2.0M609.3 1485.2l-2.0 -2.2M706.3 1499.7l0.0 -0.0M686.6 1332.9l2.0 -0.0M413.2 1423.7l-1.9 3.5M405.7 1544.7l4.0 0.2M580.7 1494.1l1.2 0.9M687.7 1475.2l0.8 0.6M404.9 1475.8l-1.0 0.0M710.8 1503.0l0.0 0.0M723.6 1495.6l0.0 -0.0M513.1 1564.1l2.0 -0.3M504.6 1504.0l-1.8 -2.4M635.7 1715.7l-0.0 -0.0M550.3 1352.2l-0.6 1.9M546.3 1353.2l-1.0 0.0M729.0 1616.5l0.0 -0.0M574.0 1484.4l0.5 0.9M518.3 1325.2l-0.9 1.2M452.1 1548.7l-0.9 -0.4M643.9 1606.9l0.0 -0.0M642.7 1346.9l-0.0 -0.0M689.6 1372.0l-2.0 0.0M684.3 1369.8l-0.0 -0.0M616.8 1406.9l0.9 0.5M660.3 1357.9l-0.3 -1.0M662.6 1354.7l0.7 -0.7M529.6 1525.3l-1.1 1.0M673.7 1427.0l1.7 1.0M680.3 1436.8l0.4 0.9M504.5 1534.0l1.3 -0.8M576.9 1512.6l-0.9 -2.8M385.7 1689.1l0.9 -0.4M450.4 1386.1l-0.0 0.0M503.4 1598.0l-1.0 -0.2M541.8 1551.0l-0.0 -0.0M356.3 1400.4l-1.3 -0.7M336.3 1574.3l-0.0 0.0M419.1 1493.6l1.4 -1.5M518.9 1365.0l-0.0 -0.0M563.1 1353.1l-0.0 0.0M490.2 1347.4l0.0 -0.0M665.8 1403.1l1.8 2.4M436.7 1341.1l0.0 0.0M441.8 1356.0l1.0 1.7M720.2 1415.0l-0.5 -0.9M520.8 1363.9l0.0 -0.0M670.2 1374.0l-0.0 0.0M574.1 1399.1l-4.0 0.1M642.6 1560.4l-2.9 -0.7M665.2 1448.8l-0.9 -0.4M365.5 1668.0l0.0 -0.0M522.4 1621.3l2.8 2.9M357.1 1674.4l0.2 -1.0M404.0 1681.4l-0.2 1.0M619.2 1431.4l-2.2 -2.1M560.2 1698.6l-0.7 1.9M363.3 1469.0l1.7 -1.0M608.3 1526.1l-0.5 1.4M733.4 1679.2l-0.0 -0.0M351.3 1460.5l-1.9 2.3M653.4 1552.3l-1.0 -1.1M571.0 1569.6l0.1 -1.0M568.8 1563.3l-0.0 -0.0M400.6 1672.8l1.3 2.7M719.8 1394.3l-1.8 -2.4M713.4 1390.4l-0.0 -0.0M487.8 1655.5l-0.0 0.0M458.9 1629.9l0.0 0.0M371.6 1719.9l2.0 0.2M402.9 1458.9l0.0 0.0M353.5 1593.1l0.2 1.0M692.1 1595.2l-0.0 0.0M720.2 1508.9l2.5 1.7M451.1 1715.0l1.0 -0.3M519.0 1584.0l0.0 0.0M601.0 1461.2l-0.8 -0.6M662.7 1448.2l-3.8 1.1M648.0 1665.4l0.3 -3.0M452.4 1493.2l0.8 -0.6M456.8 1483.9l0.0 -0.0M573.2 1692.8l-0.0 -0.0M532.5 1412.2l1.3 -1.5M534.8 1406.7l0.5 -1.4M692.4 1401.7l-2.0 -2.3M491.2 1695.9l-2.2 -2.1M712.2 1430.9l-1.9 0.7M626.6 1499.4l-0.4 3.0M441.2 1547.6l2.7 -1.4M442.2 1519.3l-0.0 0.0M394.0 1448.5l0.0 0.0M651.6 1409.5l3.3 -2.2M651.5 1687.8l0.0 0.0M645.8 1649.2l2.5 3.1M723.5 1720.1l-1.8 1.0M722.6 1724.8l-0.0 1.5M519.1 1474.9l0.0 0.0M346.1 1611.6l-1.3 -1.5"/><path stroke="#585858" stroke-width="2" d="M671.2 1382.2l-0.1 1.5M434.0 1628.8l-0.2 1.0M457.5 1694.9l-1.5 -0.3M341.7 1521.4l-3.7 1.5M694.1 1528.0l2.8 -1.0M366.0 1427.7l1.2 0.9M580.0 1447.2l-0.0 -0.0M334.9 1592.4l0.2 4.0M599.7 1444.5l-3.0 -2.6M710.2 1590.5l0.0 0.0M643.6 1527.3l-0.5 1.4M337.5 1552.8l1.2 1.6M415.9 1539.4l2.9 -2.8M472.0 1496.0l-0.0 -0.0M464.1 1491.2l-1.9 -0.7M411.2 1336.4l2.9 0.9M500.3 1566.7l0.9 -1.2M484.1 1565.4l-0.0 0.0M480.4 1564.4l-1.0 -0.3M383.8 1547.9l-0.5 -0.9M501.5 1351.6l-1.5 -0.3M513.2 1458.6l-1.5 0.2M563.6 1342.5l-3.0 0.0M568.4 1695.9l0.3 -3.0M370.3 1425.4l0.0 -0.0M360.3 1712.1l-0.0 -1.0M630.6 1698.3l1.4 -0.6M731.3 1678.8l-0.0 -0.0M704.8 1339.2l-0.0 0.0M570.1 1594.9l-1.0 0.1M388.0 1563.3l3.5 1.9M426.9 1417.5l-1.0 0.0M424.5 1421.4l-0.0 0.0M603.4 1338.3l-3.0 0.3M356.2 1594.5l-2.0 -3.5M518.7 1631.4l0.7 -0.8M371.1 1552.8l-3.0 0.3M635.5 1677.5l-1.0 1.7M408.3 1399.7l-0.2 1.0M577.0 1541.5l-0.0 -0.0M734.2 1350.8l0.0 -0.0M463.8 1624.8l3.0 0.3M538.1 1527.0l-2.0 2.2M571.1 1479.4l1.0 1.1M509.8 1327.5l-0.0 -0.0M339.5 1658.7l-0.0 0.0M633.0 1355.5l1.0 -0.3M532.6 1521.3l-0.2 3.0M507.6 1535.2l1.7 1.1M445.9 1387.4l-1.4 0.4M548.4 1389.7l-0.0 0.0M542.5 1392.8l-0.6 0.8M362.6 1403.8l-3.4 -2.2M551.9 1579.8l-0.8 -0.6M389.5 1614.0l-1.4 -0.5M537.8 1442.3l0.5 -3.0M539.0 1436.4l0.2 -1.0M450.8 1609.8l-0.0 0.0M567.0 1532.6l-1.0 -0.1M463.7 1712.6l1.9 0.5M635.5 1644.4l-0.8 1.3M528.8 1367.8l-1.3 0.8M451.0 1433.2l-0.0 0.0M415.6 1714.0l0.0 -0.0M564.1 1392.1l-0.8 -0.6M706.1 1395.1l-0.5 -1.4M409.4 1526.4l1.5 0.2M357.2 1676.1l1.0 -0.1M560.3 1641.0l-0.0 0.0M403.5 1600.2l-0.0 -0.0M709.1 1639.6l0.0 -0.0M666.2 1432.7l-1.5 1.4M443.6 1421.1l3.0 -0.2M448.1 1546.7l1.0 1.1M548.0 1452.4l0.0 0.0M623.4 1440.4l1.5 3.7M542.2 1565.7l-0.0 -0.0M472.1 1541.7l0.0 0.0M650.9 1417.8l-1.6 1.3M641.9 1421.8l-2.9 -0.6M339.6 1724.5l1.0 1.7M704.2 1543.5l-0.0 -0.0M499.8 1365.3l0.0 -0.0M452.0 1488.9l-0.6 -2.9M492.1 1380.4l-1.8 -0.9M573.4 1345.8l-0.9 2.9M569.6 1347.8l-3.9 0.7M493.9 1699.1l0.1 -1.0M637.9 1418.8l0.2 -1.5M448.1 1488.6l2.7 3.0M453.5 1489.8l4.0 -0.3M436.9 1518.9l-0.0 -0.0M700.3 1470.9l2.3 -1.9M707.1 1471.3l1.9 0.5M657.0 1589.4l1.2 0.9M555.6 1666.7l4.0 -0.1"/><path stroke="#585858" stroke-width="3" d="M513.5 1320.9l0.7 -0.8M568.0 1376.4l0.9 -0.5M391.5 1338.3l-2.8 1.0M694.5 1403.6l2.0 -0.4M334.7 1471.1l1.5 -0.3M338.2 1433.0l0.1 1.5M579.0 1663.4l0.9 -0.5M413.7 1571.2l0.8 0.6M538.1 1621.4l1.0 -1.7M570.0 1714.5l0.0 -0.0M493.9 1444.1l-0.4 1.9M495.0 1455.2l2.6 1.6M376.8 1665.0l-3.0 0.1M559.8 1706.3l3.7 1.6M523.5 1468.8l-0.0 -0.0M368.3 1433.2l0.0 0.0M374.6 1438.6l3.9 -0.6M655.9 1368.3l0.9 0.3M665.2 1564.4l-0.0 1.0M348.7 1588.7l-0.0 0.0M672.9 1417.1l0.0 -0.0M615.8 1340.6l1.6 -1.2M387.4 1600.1l0.0 0.0M405.8 1542.7l-0.0 0.0M355.5 1680.2l-2.2 -2.0M398.1 1556.4l-0.3 -4.0M424.5 1539.6l3.8 1.3M406.8 1462.5l0.9 1.2M582.3 1671.2l-1.0 0.0M523.6 1464.9l-3.0 -0.1M485.7 1437.2l-1.7 1.1M636.1 1339.3l0.9 3.9M665.1 1581.3l-1.3 -0.8M633.4 1364.4l-1.0 1.2M375.5 1629.0l0.5 -0.9M441.4 1610.6l1.8 0.9M691.6 1708.6l-0.0 -0.0M682.7 1714.8l-0.0 0.0M430.1 1582.6l-1.7 -1.1M607.3 1391.8l2.0 -3.5M511.1 1587.7l-0.0 -0.0M455.0 1337.9l1.7 -2.4M517.2 1457.6l-0.3 1.0M662.8 1428.1l2.4 1.8M598.0 1508.6l0.0 -0.0M390.4 1501.1l-0.5 1.4M365.4 1427.3l2.9 -0.6M603.2 1615.8l0.3 2.0M601.8 1621.5l-0.0 0.0M392.6 1562.5l-1.5 0.3M518.1 1521.6l-1.1 -1.0M519.6 1468.7l0.0 0.0M730.1 1675.5l-0.5 -1.4M562.7 1487.5l-2.9 2.7M628.9 1366.7l-1.0 -1.1M623.9 1420.1l-0.3 4.0M502.5 1439.2l-0.0 0.0M433.2 1541.4l0.7 -0.7M421.6 1423.4l-3.3 2.2M361.9 1599.2l3.2 -2.4M605.9 1363.3l-1.6 -1.1M478.9 1413.6l2.3 -1.9M628.5 1331.4l-0.0 0.0M596.2 1360.9l0.0 -4.0M601.4 1350.6l2.3 -3.3M625.8 1418.0l-0.0 -0.0M476.9 1407.2l0.5 4.0M638.3 1672.0l-1.0 2.8M551.1 1331.5l-0.7 1.3M417.0 1408.6l0.8 0.5M639.8 1380.5l-0.0 0.0M376.9 1695.5l-1.3 -0.7M615.8 1589.8l1.4 -1.4M547.6 1536.3l2.0 0.3M700.9 1501.8l1.1 1.1M510.9 1488.7l-2.9 0.6M730.9 1519.4l-1.2 -0.9M726.9 1517.0l-1.7 -1.0M465.3 1593.2l-0.8 1.8M409.7 1427.9l-2.2 2.1M573.0 1351.4l0.0 0.0M498.8 1557.3l1.5 0.3M364.4 1485.9l0.4 -1.4M366.5 1483.7l3.2 -2.4M547.7 1590.1l1.8 -3.6M519.0 1566.0l1.4 0.6M725.3 1511.9l1.5 2.6M454.0 1447.8l-0.0 0.0M715.7 1625.3l0.3 -0.9M338.5 1512.0l0.0 0.0M515.2 1328.5l-0.7 0.7M458.1 1560.3l-0.0 -0.0M658.2 1649.5l0.0 0.0M626.1 1461.0l0.8 0.6M692.8 1579.0l0.3 -2.0M682.7 1677.7l-0.0 0.0M668.2 1352.6l0.0 -0.0M550.3 1666.6l0.0 -0.0M377.5 1462.0l0.8 -0.6M380.1 1534.3l-1.9 -0.4M720.7 1690.4l0.9 0.5M702.5 1529.9l0.0 -0.0M640.3 1583.3l2.5 1.7M580.0 1503.3l0.9 -1.2M656.9 1336.5l0.9 0.5M609.0 1524.4l0.7 -0.7M608.4 1519.5l-0.6 -2.9M456.0 1433.7l0.4 1.5M556.8 1583.3l-0.0 -0.0M545.3 1579.6l-0.0 0.0M544.6 1448.6l-0.2 -2.0M460.5 1711.2l0.7 1.3M518.5 1402.1l1.7 -2.5M525.6 1368.0l-4.0 -0.2M484.7 1351.7l0.0 0.0M527.3 1635.2l-2.2 -2.1M364.3 1642.9l-2.2 2.0M346.0 1404.8l0.0 0.0M449.4 1500.2l-0.0 -0.0M449.0 1514.3l0.7 0.7M569.5 1396.7l-2.2 -2.0M473.7 1440.7l-0.0 0.0M341.4 1363.0l-0.8 -1.8M353.2 1676.1l0.4 0.9M729.6 1483.5l0.9 -0.4M527.7 1623.5l0.0 0.0M712.4 1634.0l1.3 -0.7M623.7 1434.0l-4.0 -0.3M554.4 1708.9l-0.4 2.0M643.9 1715.5l0.0 -2.0M377.1 1699.0l0.2 -3.0M571.2 1599.7l1.8 0.9M424.1 1452.8l-1.0 0.3M717.3 1547.6l0.6 0.8M717.4 1554.3l-0.7 2.9M683.1 1663.6l3.0 0.3M572.9 1613.0l0.1 -1.0M395.8 1668.7l0.0 0.0M423.8 1704.1l1.8 -0.9M360.5 1383.3l0.9 -0.4M631.2 1444.9l3.8 1.2M456.7 1625.5l-0.3 0.9M659.9 1543.8l-0.6 1.4M697.1 1595.1l-1.3 -0.8M689.2 1589.2l-0.0 -0.0M555.3 1439.1l2.6 3.0M711.0 1509.9l0.0 -0.0M592.3 1587.7l1.8 -3.6M344.9 1731.0l1.4 0.5M590.0 1695.7l-2.2 2.0M333.1 1426.3l-0.7 1.3M678.4 1605.3l1.0 0.1M558.3 1487.5l1.2 1.6M338.3 1593.3l-4.0 -0.6M359.9 1649.1l-0.8 2.9M478.6 1351.1l2.1 -3.4M591.4 1605.8l0.0 0.0M724.4 1676.1l-2.4 3.2M725.2 1672.1l-3.9 -1.0M464.5 1466.3l-0.0 -0.0M656.2 1594.3l-0.9 2.9M539.3 1681.6l0.3 -1.5M538.8 1678.3l-0.5 -1.9M547.6 1666.5l0.9 -0.5"/><path stroke="#686868" stroke-width="2" d="M721.1 1623.6l0.0 0.0M670.9 1375.9l1.8 1.0M648.3 1699.7l-0.0 0.0M534.8 1623.7l4.0 -0.0M695.9 1340.0l0.9 -0.3M491.7 1452.8l0.8 1.3M454.6 1486.5l-1.9 0.7M692.7 1703.9l-4.0 -0.6M392.4 1600.2l0.0 -0.0M503.7 1547.7l-0.0 0.0M363.5 1683.9l-1.8 -1.0M678.3 1700.1l-0.2 1.5M710.2 1581.3l-0.2 1.5M596.6 1519.0l-3.0 -0.3M730.3 1578.2l-2.9 -2.8M502.1 1572.9l-0.0 0.0M357.2 1497.5l-1.8 0.9M337.7 1531.9l0.4 -1.4M339.2 1527.6l1.4 -3.8M661.3 1470.4l0.0 0.0M592.1 1403.1l2.2 3.3M407.8 1334.6l-0.0 1.5M599.4 1703.7l-0.0 -0.0M487.1 1449.2l-0.0 -0.0M379.1 1597.9l0.0 0.0M568.3 1321.3l-3.5 2.0M481.2 1461.6l0.0 0.0M439.9 1360.9l3.8 1.2M615.9 1414.5l-0.7 0.7M610.2 1414.2l-3.0 -0.4M517.7 1589.5l-0.0 -0.0M354.9 1658.9l-0.0 -0.0M389.1 1558.8l-0.0 -0.0M517.7 1475.2l-0.0 0.0M691.9 1528.0l-0.2 3.0M590.6 1388.0l0.7 -1.3M567.4 1479.4l-2.1 2.2M565.9 1483.0l-0.8 3.9M568.6 1598.4l-0.8 2.9M434.7 1537.8l1.1 -2.8M537.9 1615.4l-0.4 0.9M670.1 1472.0l-1.5 0.2M340.3 1590.1l-0.0 -0.0M366.0 1604.1l-0.0 -0.0M732.0 1499.4l-0.5 -0.9M462.0 1346.6l-2.7 -1.4M483.9 1483.1l0.0 -0.0M725.8 1524.9l-0.0 0.0M582.3 1647.0l-0.7 -1.9M540.2 1533.6l0.0 0.0M398.1 1402.9l0.8 1.2M535.3 1645.7l0.0 0.0M540.7 1524.4l-1.1 1.0M447.4 1354.3l0.0 0.0M368.2 1644.1l-0.3 -0.9M406.2 1585.0l2.9 0.9M333.8 1566.3l-2.5 3.1M640.5 1439.3l-0.4 1.9M507.4 1536.7l-1.2 -0.8M639.6 1340.6l-0.0 -0.0M573.7 1418.5l-1.5 -0.2M373.9 1468.5l-0.6 -0.8M410.4 1482.1l3.9 1.0M720.4 1695.3l-0.5 3.0M689.8 1528.4l0.0 -0.0M508.4 1539.3l-0.0 0.0M391.9 1688.6l0.0 -0.0M499.6 1597.3l-3.0 -0.5M433.7 1414.1l-2.6 -3.0M708.7 1680.8l-2.2 -2.0M653.9 1379.8l-0.2 -1.5M465.7 1719.7l0.0 0.0M717.0 1667.1l0.5 3.0M467.5 1575.0l0.0 0.0M368.1 1530.2l1.9 -2.3M655.6 1442.8l0.0 0.0M666.7 1584.2l2.8 0.9M531.2 1489.7l-0.0 -0.0M438.2 1503.7l-1.3 0.7M398.8 1473.7l4.0 -0.6M550.8 1541.7l0.2 3.0M352.1 1466.2l0.3 0.9M562.3 1397.4l-1.2 -3.8M664.9 1532.5l0.0 0.0M341.0 1589.4l0.3 -4.0M375.9 1590.8l-1.8 -3.6M341.6 1729.0l0.8 1.8M336.1 1421.1l-0.0 0.0M545.0 1427.2l0.6 1.9M564.4 1344.0l-0.0 -0.0M476.8 1354.2l0.0 -0.0M593.6 1491.2l-0.8 -0.6M731.6 1593.9l2.6 -1.4M700.4 1608.0l-0.0 -0.0M642.5 1641.1l-0.0 0.0M346.2 1608.4l0.6 -1.9"/><path stroke="#686868" stroke-width="3" d="M557.6 1499.3l1.5 -0.1M436.1 1615.3l-0.1 2.0M466.2 1694.2l-0.0 0.0M663.1 1369.0l-0.8 3.9M416.4 1649.7l2.0 -0.2M512.0 1512.5l2.0 0.4M442.6 1594.4l-0.0 -0.0M596.8 1714.2l-1.0 3.9M416.3 1586.7l-0.8 0.6M459.4 1483.7l-1.3 2.7M568.5 1707.7l2.8 0.9M695.4 1457.9l-2.3 1.9M557.2 1719.4l-0.0 0.0M650.5 1368.0l3.6 -1.8M390.5 1605.7l0.0 -0.0M512.3 1682.3l1.0 0.0M705.5 1586.6l1.0 1.1M403.4 1547.6l-0.9 1.8M688.3 1450.8l-1.6 -1.3M679.2 1694.6l-0.0 0.0M712.2 1574.4l-2.7 1.4M347.3 1444.9l-2.0 0.3M341.9 1449.2l-0.0 0.0M673.8 1667.8l0.0 -0.0M333.1 1538.1l3.5 1.9M334.7 1549.0l-0.0 0.0M602.7 1518.8l-1.3 1.5M452.8 1580.8l-3.9 0.7M360.5 1495.0l0.2 1.5M520.5 1331.1l0.0 0.0M598.2 1407.3l-2.0 0.0M485.4 1446.1l-0.7 -1.3M396.2 1434.3l0.0 0.0M562.4 1321.3l-1.5 -0.3M420.3 1497.2l-0.0 0.0M660.9 1577.2l-0.0 -0.0M663.1 1573.1l0.0 -0.0M352.2 1688.6l-1.1 1.0M446.8 1382.3l2.7 1.3M392.6 1395.9l1.7 -2.5M391.5 1392.3l-1.0 -1.2M596.8 1500.6l-1.6 -2.6M543.6 1515.4l0.0 0.0M344.2 1396.6l-0.0 0.0M568.6 1358.5l-1.2 -0.8M625.9 1607.2l-1.0 -1.1M709.9 1337.2l-0.7 0.7M569.7 1477.1l-0.0 0.0M728.2 1617.1l-1.7 -1.1M437.9 1518.9l0.0 0.0M504.2 1439.6l-1.4 3.7M500.5 1432.8l3.6 -1.7M507.3 1414.7l0.0 -0.0M508.9 1412.5l2.4 -3.2M710.4 1341.7l0.0 -0.0M657.7 1479.6l-0.0 -0.0M665.9 1525.4l0.4 -0.9M373.0 1711.0l-1.2 2.7M531.1 1514.2l0.0 -0.0M475.4 1484.0l3.8 -1.2M333.1 1638.9l1.7 -2.5M616.9 1333.5l2.7 -2.9M481.8 1684.5l0.0 0.0M580.0 1642.7l-2.0 -3.5M552.6 1329.0l-0.0 0.0M411.7 1405.2l0.0 0.0M421.5 1405.9l1.6 -1.2M612.5 1593.3l0.0 0.0M537.0 1529.3l0.4 2.0M543.3 1535.2l2.6 1.4M455.7 1596.6l-1.4 0.4M451.7 1648.4l-1.1 -1.7M533.2 1486.6l-1.7 1.1M733.0 1346.2l-1.0 -3.9M697.2 1622.6l-1.0 0.0M694.8 1619.0l-0.9 -1.8M412.1 1475.2l-3.8 1.1M455.0 1630.0l0.0 -0.0M457.9 1625.0l0.7 -1.3M438.0 1370.4l-1.8 -0.9M543.3 1355.8l-2.8 2.9M470.0 1592.0l-1.0 -1.1M548.3 1356.6l-3.0 -0.1M657.5 1645.5l0.8 0.7M656.6 1653.2l-1.6 3.7M626.2 1464.8l-0.2 3.0M580.1 1421.4l-0.5 -4.0M679.1 1676.3l-1.4 -0.6M629.8 1356.4l0.0 0.0M547.2 1661.5l-0.8 -1.3M441.4 1386.1l-3.7 -1.5M546.2 1390.0l-3.0 0.4M441.4 1703.9l-2.2 -2.0M459.4 1436.4l1.7 1.0M386.8 1610.6l-1.6 -2.5M429.8 1491.5l0.9 0.3M560.4 1522.0l-0.0 -0.0M559.0 1368.2l-1.6 -3.6M638.9 1639.2l-0.9 0.4M337.3 1367.3l-0.7 -1.3M532.4 1704.1l-0.0 0.0M530.6 1707.7l-0.9 1.8M519.0 1546.1l-2.0 3.5M601.9 1494.8l0.0 -0.0M401.6 1406.0l-2.9 -2.7M624.9 1493.4l-1.0 0.3M504.3 1576.7l-0.0 0.0M580.9 1712.3l0.6 -1.4M586.4 1712.1l1.0 0.1M398.3 1465.2l0.0 0.0M455.3 1584.0l-0.0 -0.0M657.6 1513.3l-0.6 -0.8M506.3 1719.8l0.0 -0.0M670.0 1428.3l1.0 0.0M674.5 1430.2l1.8 0.8M606.2 1419.8l-0.6 -1.4M414.0 1446.4l-1.0 -3.9M413.5 1475.9l0.9 1.2M382.5 1710.9l-0.4 -4.0M717.9 1552.2l0.0 0.0M718.7 1561.7l0.3 1.0M483.6 1379.2l0.8 -1.3M393.1 1461.7l-0.0 -0.0M446.2 1391.2l0.0 -0.0M403.3 1463.1l0.2 1.5M346.0 1585.4l1.4 -0.6M352.2 1588.1l0.9 0.5M644.4 1422.3l-0.0 0.0M454.1 1717.4l0.0 0.0M646.5 1548.7l0.9 -1.8M559.8 1707.0l-1.0 -0.2M544.8 1440.4l0.8 1.3M519.6 1579.3l-1.8 0.9M499.2 1361.0l-0.2 -1.5M574.7 1320.4l-1.5 1.3M568.2 1319.6l-1.5 -0.4M379.9 1354.0l1.1 -1.0M495.8 1382.1l-1.5 -0.2M459.5 1487.3l1.3 -0.8M463.7 1487.6l3.9 0.8M438.7 1500.6l-0.4 0.9M725.4 1597.2l3.5 -1.9M672.1 1628.6l0.1 1.5M445.4 1544.2l0.0 -0.0M420.5 1673.3l1.0 -0.0M471.6 1646.1l2.4 -1.9M534.3 1534.4l-0.1 -1.5M421.3 1520.9l0.0 -0.0"/><path stroke="#787878" stroke-width="2" d="M435.4 1623.0l-0.0 0.0M696.4 1518.4l-0.4 -0.9M338.9 1478.3l0.6 1.4M453.2 1489.9l-0.6 4.0M397.0 1591.5l0.0 -0.0M357.4 1687.6l3.4 -2.2M681.1 1718.2l-0.0 -0.0M587.1 1671.3l-1.4 -0.6M499.5 1337.9l-0.0 -0.0M493.5 1433.4l3.4 2.0M664.8 1434.3l0.5 3.0M356.8 1668.5l0.4 -2.0M620.4 1403.4l2.0 -2.2M732.4 1669.4l0.9 -1.8M627.9 1602.5l1.5 -2.6M409.7 1610.2l-0.0 -0.0M717.5 1475.9l-0.0 0.0M350.1 1580.0l-3.3 2.3M360.0 1602.0l1.2 -3.8M511.2 1347.3l1.5 -1.4M708.9 1345.7l-0.0 -0.0M568.8 1448.4l1.6 -1.2M664.3 1530.2l-0.3 -1.0M640.0 1713.1l1.0 -0.0M476.7 1401.6l0.0 0.0M690.8 1330.4l3.1 -2.5M681.5 1467.2l1.4 0.4M544.7 1624.2l-0.7 -1.3M368.9 1651.1l2.1 -3.4M724.5 1506.8l-2.6 3.1M342.4 1668.8l1.2 1.6M634.1 1352.2l0.3 -1.5M512.1 1334.5l-2.8 1.0M382.3 1608.2l0.0 -0.0M340.4 1362.8l-0.0 0.0M396.1 1404.6l-3.0 -0.0M457.8 1429.7l-3.7 -1.6M604.9 1335.0l3.9 1.1M665.9 1631.6l-2.5 -3.2M457.0 1515.6l1.6 1.2M545.9 1671.5l0.1 1.5M478.2 1437.3l-1.4 -0.5M415.2 1523.1l0.0 -0.0M670.8 1451.0l-0.0 0.0M555.9 1644.0l-0.8 0.6M450.3 1422.7l2.9 0.9M380.2 1707.2l-1.2 -0.9M468.9 1642.3l-1.6 -1.1M480.3 1384.0l2.4 -3.2M605.5 1637.5l1.9 -0.7M553.0 1435.5l-0.7 1.3M717.0 1506.7l0.0 -0.0M413.2 1608.6l-0.0 0.0M340.8 1415.8l-1.0 1.1M372.2 1570.6l1.4 0.5M688.5 1426.1l-0.0 -0.0M685.9 1396.7l-0.0 -0.0M597.2 1501.0l1.8 -2.4M414.7 1669.2l0.0 0.0M568.3 1637.6l-0.3 4.0M556.3 1644.5l-0.0 0.0M454.9 1465.1l-0.9 0.4M641.4 1403.8l0.4 0.9M643.1 1406.4l1.1 1.7M429.3 1513.3l0.4 -0.9"/><path stroke="#787878" stroke-width="3" d="M735.8 1326.9l-2.4 1.8M589.2 1513.1l-0.0 0.0M589.1 1515.3l-0.3 3.0M636.2 1476.8l2.6 1.6M641.3 1479.3l0.0 0.0M653.8 1698.2l-0.0 0.0M588.9 1650.7l-1.9 -0.5M581.8 1659.2l0.0 -0.0M366.6 1654.4l-1.0 -2.8M565.9 1718.5l1.5 -0.0M695.8 1464.2l0.3 1.0M422.6 1380.6l-0.0 -0.0M581.5 1699.7l-1.3 0.8M524.4 1467.0l1.8 -3.6M612.6 1623.4l-4.0 0.4M681.0 1416.0l0.9 0.4M459.0 1450.2l1.4 -0.6M355.5 1357.7l0.6 -1.4M651.9 1381.1l-1.4 -1.4M460.5 1507.0l-0.0 -0.0M450.0 1457.0l1.9 2.3M453.8 1463.2l0.5 0.9M557.9 1461.5l0.0 -0.0M515.1 1433.8l-0.0 -0.0M637.2 1673.1l1.2 -3.8M600.6 1504.3l2.8 2.8M520.2 1459.0l-0.5 -1.4M598.0 1700.5l-1.6 -3.7M495.1 1350.2l-0.0 -0.0M418.4 1486.1l0.0 0.0M371.3 1634.2l3.0 -0.3M444.7 1613.9l0.0 0.0M441.1 1381.1l3.8 -1.2M441.7 1364.8l-0.0 2.0M661.7 1325.4l1.5 0.3M665.6 1322.8l0.0 -0.0M518.3 1451.2l0.4 4.0M410.9 1555.3l-2.1 2.1M562.6 1690.9l-0.0 -0.0M361.6 1428.5l1.0 -1.1M355.4 1472.3l-2.0 -0.4M628.3 1542.0l0.6 -0.8M584.6 1465.1l-0.0 0.0M583.2 1465.9l-3.5 1.9M423.0 1408.8l0.6 0.8M524.0 1525.5l-3.8 -1.1M578.7 1614.6l-0.0 -0.0M724.0 1613.4l-2.9 -2.8M449.9 1466.2l-2.7 -1.4M352.1 1591.5l0.6 1.4M394.7 1718.5l3.2 -2.4M666.8 1521.1l0.3 -1.5M381.7 1679.9l2.5 1.7M516.1 1591.0l2.4 -3.2M538.4 1436.7l-0.7 2.9M513.5 1479.9l3.0 0.5M418.7 1485.0l0.0 -0.0M698.2 1499.7l1.0 -0.2M506.6 1487.2l-1.7 -1.1M461.0 1595.1l-2.9 0.7M531.8 1489.3l-0.7 2.9M577.6 1491.9l0.0 0.0M526.3 1472.0l-0.0 -0.0M508.3 1564.3l1.2 0.9M449.5 1338.8l-0.6 1.4M440.8 1394.6l-0.0 0.0M725.9 1504.5l0.4 0.9M400.8 1587.2l1.0 -0.3M402.5 1585.8l2.7 -2.9M569.0 1477.2l-0.0 0.0M517.4 1705.0l-1.0 0.1M335.5 1564.2l0.0 0.0M730.4 1334.9l0.0 -0.0M348.7 1668.8l0.0 -0.0M439.5 1448.8l0.7 1.9M507.9 1336.1l-3.7 1.5M678.8 1337.9l0.6 -1.9M577.4 1507.9l1.2 -3.8M606.2 1527.5l1.0 -1.7M702.2 1497.1l0.0 0.0M666.1 1684.3l0.2 1.0M653.5 1375.9l-0.2 -2.0M633.5 1649.6l-0.0 0.0M340.1 1372.8l-0.2 -1.0M404.1 1383.5l1.1 -2.8M716.3 1663.0l0.0 0.0M658.5 1597.0l-1.5 0.3M723.3 1523.4l0.0 -0.0M722.5 1520.1l-0.9 -3.9M455.0 1573.7l0.0 -0.0M459.4 1571.4l3.5 -1.9M460.0 1430.6l-0.0 -0.0M423.9 1712.6l0.0 0.0M662.1 1582.8l1.0 0.2M726.3 1643.8l1.2 -1.6M461.5 1586.0l-1.0 0.2M416.5 1516.8l0.0 -0.0M608.4 1425.2l-0.0 -0.0M410.1 1471.4l0.0 0.0M556.2 1703.2l-2.1 2.2M387.6 1615.0l-0.6 -1.4M702.5 1708.7l0.0 -1.5M592.8 1629.1l0.5 -0.9M546.3 1447.6l0.7 0.7M532.1 1626.8l0.0 -0.0M422.9 1470.7l0.5 1.4M534.4 1385.3l-1.1 1.1M394.6 1664.9l-0.4 0.9M421.4 1705.4l-0.0 -0.0M543.3 1571.7l2.2 -3.3M479.7 1466.0l-1.0 1.2M407.1 1454.0l0.0 0.0M458.3 1544.3l1.9 -2.3M407.2 1466.0l2.6 1.5M446.0 1427.0l-3.7 1.4M345.2 1411.2l-1.7 1.1M445.1 1661.4l4.0 -0.6M542.3 1436.2l-0.0 0.0M359.6 1686.2l0.3 -1.0M424.5 1480.9l0.3 -0.9M607.7 1464.2l-3.9 0.9M527.8 1482.0l-0.8 -1.8M460.4 1483.2l2.0 -0.4M433.2 1585.6l0.0 -0.0M569.7 1695.7l-0.0 0.0M491.6 1704.7l3.9 -1.0M716.2 1571.4l-0.0 -0.0M730.1 1604.7l1.0 1.1M454.3 1518.5l-0.5 0.8M466.2 1658.7l0.8 -1.3M467.7 1469.6l0.0 -0.0M459.9 1463.4l-1.3 -0.8M703.2 1455.4l-0.0 0.0M532.4 1529.2l-1.2 -2.8M430.4 1583.4l1.0 0.2M643.6 1645.5l0.7 2.9M347.8 1603.4l0.0 -0.0"/></g>
</g>
<circle cx="376.7" cy="1361.1" r="25.0" fill="none" stroke="#fff" stroke-width="3.2"/>
<g clip-path="url(#cp1)">
<rect x="749.5" y="1317.0" width="408.5" height="406.5" fill="#a9a9a9"/>
<g fill="#9a9a9a" fill-opacity="0.35" filter="url(#bm)"><circle cx="757" cy="1539" r="9"/><circle cx="939" cy="1613" r="11"/><circle cx="1121" cy="1400" r="13"/><circle cx="952" cy="1635" r="15"/><circle cx="784" cy="1681" r="25"/><circle cx="939" cy="1497" r="25"/><circle cx="1100" cy="1337" r="23"/><circle cx="1035" cy="1602" r="12"/><circle cx="859" cy="1618" r="8"/><circle cx="988" cy="1629" r="20"/><circle cx="813" cy="1715" r="16"/><circle cx="1109" cy="1356" r="17"/><circle cx="858" cy="1393" r="13"/><circle cx="876" cy="1327" r="17"/><circle cx="1087" cy="1695" r="19"/><circle cx="822" cy="1429" r="26"/><circle cx="1119" cy="1488" r="13"/><circle cx="803" cy="1565" r="12"/></g>
<g filter="url(#bl)" fill="none" stroke="#e2e2e2" stroke-opacity="0.55" stroke-linecap="round"><path stroke-width="4" d="M887.9 1426.0l0.5 -0.9M830.2 1606.9l0.0 0.0M900.9 1363.0l1.1 -2.8M1053.1 1504.6l0.0 0.0M903.5 1555.0l3.0 -0.1M1114.5 1373.9l0.3 -1.5M1027.8 1607.5l-0.0 -0.0M897.4 1405.4l-1.8 -0.9M911.9 1362.2l1.1 -1.6M862.2 1534.9l0.0 -1.0M996.9 1592.6l0.9 -1.2M1086.7 1335.8l0.8 0.6M1039.0 1362.8l1.5 -0.3M980.2 1631.8l-2.4 -3.2M824.8 1526.6l1.9 -2.3M1104.3 1543.4l-1.1 1.0M839.6 1538.0l0.3 -3.0M792.4 1564.5l0.0 0.0M822.4 1583.1l2.4 -1.8M1108.5 1582.3l1.9 0.5M761.6 1594.7l-0.0 -0.0M909.6 1432.0l-0.0 0.0M809.5 1512.6l1.5 0.2M1049.0 1498.0l0.9 0.5M1104.3 1428.0l0.0 0.0M970.8 1334.0l-0.0 0.0M1074.3 1549.0l0.0 -0.0M936.0 1695.9l-0.9 -0.4M806.4 1347.1l0.0 0.0M1043.7 1687.5l3.0 -0.5M880.4 1474.0l-1.8 1.0M956.9 1679.5l-0.0 0.0M1082.7 1667.1l1.8 -2.4M835.8 1615.1l-1.0 -0.1M993.8 1386.7l-0.0 0.0M962.5 1394.2l1.2 2.8M925.8 1353.0l-0.0 -0.0M905.7 1584.2l0.1 -2.0M795.1 1340.4l-0.0 0.0M1143.9 1418.4l0.4 -1.5M951.5 1679.8l-0.3 0.9M1088.9 1603.1l0.0 -0.0M1071.4 1326.9l0.0 -0.0M1006.7 1694.3l1.9 -0.6M953.2 1680.4l0.7 2.9M1113.9 1455.0l3.0 -0.4M919.4 1469.3l1.5 0.0M883.6 1661.4l4.0 -0.2M786.5 1344.0l-1.3 3.8M1052.4 1481.7l1.8 -0.9M802.7 1359.4l1.0 0.2M1041.3 1657.1l2.6 1.4"/><path stroke-width="5" d="M928.0 1388.8l0.0 0.0M935.0 1488.1l-2.8 -1.2M1119.6 1682.2l0.0 -0.0M1120.6 1676.6l0.2 -2.0M763.2 1324.8l-1.1 -1.0M758.7 1321.7l-3.3 -2.3M775.1 1602.6l1.0 -0.1M1070.3 1434.6l0.0 0.0M1073.6 1436.1l3.8 1.2M1144.7 1695.1l0.0 -0.0M1087.4 1623.9l-1.6 1.2M832.3 1609.1l1.1 1.1M1071.9 1387.5l-0.0 0.0M959.9 1333.3l0.0 -0.0M802.7 1600.2l2.0 0.1M1000.5 1582.6l-2.7 -1.2M948.2 1400.3l1.4 2.7M1118.2 1485.0l-0.3 1.0M1093.1 1704.9l1.4 0.6M1105.0 1705.4l1.0 -0.1M1147.6 1688.2l1.1 1.0M1061.3 1537.8l0.0 -0.0M965.8 1660.5l0.0 -0.0M766.3 1549.1l0.1 -1.0M999.4 1400.8l0.0 0.0M1156.7 1593.2l0.9 0.5M1100.3 1358.5l-0.0 0.0M872.2 1595.6l-3.2 2.3M1062.9 1336.3l-1.2 0.9M887.5 1656.0l-3.2 2.4M841.2 1635.6l-0.4 -0.9M837.9 1632.0l-0.0 -0.0M797.7 1393.1l-0.0 0.0M799.9 1397.3l0.0 0.0M953.3 1714.7l0.5 -0.9M956.1 1712.5l0.0 -0.0M1155.4 1556.3l0.8 0.6M810.0 1503.6l0.0 0.0M1145.2 1637.0l-0.1 -1.5M1143.2 1631.9l-0.4 -0.9M1131.7 1632.7l-1.5 0.3M1100.1 1693.4l0.0 -0.0M972.4 1369.1l-0.7 0.8M1113.3 1370.3l-0.0 -0.0M1132.1 1492.0l0.0 -0.0M963.8 1703.2l-1.6 1.2M958.7 1705.5l-1.8 0.9M861.8 1465.0l-0.3 -0.9M1015.4 1549.9l-1.3 -0.7M1032.9 1516.2l0.0 -0.0M1042.3 1535.8l-0.6 1.9M870.6 1431.8l-0.3 1.5M829.3 1352.0l0.0 -0.0M1153.2 1604.2l0.0 -0.0M888.5 1405.5l-4.0 0.2M1077.5 1386.4l1.0 0.1M904.4 1452.9l-0.0 -0.0M998.1 1395.5l0.0 0.0M1090.6 1398.0l3.7 -1.6M987.4 1490.0l-0.0 0.0M1035.6 1657.3l3.9 1.1M899.1 1499.1l0.0 0.0M854.4 1479.3l-0.0 -0.0M1077.4 1525.0l0.0 -0.0M862.3 1540.1l-0.0 -0.0M1001.8 1587.5l0.7 -0.7M1009.3 1583.6l1.0 -0.0M920.8 1540.8l3.0 -0.4M1074.4 1586.4l0.7 0.7M906.5 1597.5l0.0 -0.0M908.3 1594.9l0.5 -0.9M855.1 1659.4l-3.5 2.0M1093.3 1337.0l0.0 0.0M1038.3 1432.1l1.5 0.2M775.5 1678.1l-0.0 0.0M1048.4 1597.3l-0.9 -0.4M842.4 1423.8l-1.9 2.3M923.6 1698.3l-0.0 -0.0M1135.6 1507.3l-0.0 -0.0M1066.2 1433.9l-1.7 -2.4M876.5 1722.3l0.9 0.4M1037.7 1607.6l1.0 -0.0M860.9 1402.7l2.0 -0.2M875.2 1403.7l1.0 0.1M1046.1 1359.3l3.0 -0.3M1051.8 1359.6l0.0 0.0M825.6 1364.5l-1.4 0.6M851.4 1624.0l1.4 0.6M1108.1 1343.1l0.0 0.0M862.5 1630.5l0.0 0.0M854.0 1369.1l1.5 -1.3M858.4 1364.8l0.0 -0.0M818.9 1449.3l0.2 -1.0M937.7 1520.3l-0.7 -1.3M1003.3 1662.0l2.1 2.1M850.1 1635.9l3.0 0.3M855.6 1605.1l0.0 0.0M1030.7 1334.7l-0.0 0.0M865.4 1507.2l0.0 -0.0M867.9 1503.5l0.8 -1.3M869.1 1498.9l0.2 -3.0M887.0 1351.9l1.9 0.5M1071.4 1665.8l-0.0 -0.0M954.3 1474.4l1.3 0.7M1008.7 1695.8l0.5 0.9M973.5 1628.2l-2.5 -3.2M856.4 1500.6l0.0 -0.0M842.4 1564.1l-1.9 0.7M1106.9 1613.4l2.6 1.5M1111.8 1491.6l-3.0 2.6M903.1 1446.3l-0.0 0.0M990.6 1429.8l-0.8 -0.6M982.7 1459.0l-0.0 -0.0M863.2 1406.9l-1.9 3.5M942.8 1473.6l-1.0 -0.1M939.3 1472.3l-0.9 -0.4M1079.6 1718.4l-0.0 -0.0M1077.1 1717.3l-1.4 -0.4M989.6 1392.0l-1.7 -3.6M992.1 1379.9l1.1 -2.8M906.8 1373.4l0.8 -1.8M915.4 1479.2l2.9 -0.8M1111.7 1637.5l-1.4 -0.6M840.1 1398.0l-1.3 0.8M836.1 1403.3l-0.0 0.0M998.1 1654.0l1.5 -0.2M805.1 1422.5l0.3 1.0M822.8 1378.7l1.0 -3.9M817.7 1588.4l0.7 -3.9M993.8 1606.6l0.0 -0.0M1028.7 1387.4l1.0 1.2M1031.7 1387.7l1.5 -0.1M1015.9 1401.2l2.1 2.1M1015.7 1405.5l-1.5 3.7M1154.3 1500.8l0.0 0.0M1054.1 1533.1l-1.4 -1.4M771.5 1642.9l0.5 3.0M774.6 1648.4l1.3 1.5M1061.2 1422.4l0.0 -0.0M881.4 1680.1l-0.1 1.0M828.6 1615.7l-2.7 -2.9M983.6 1638.0l0.7 0.7M948.8 1377.5l1.0 1.7M871.6 1700.1l1.7 -1.1M1069.3 1334.4l-0.0 -0.0M791.0 1462.5l0.0 -0.0M795.5 1465.1l1.3 0.7M772.7 1694.8l-0.5 -4.0M769.0 1689.6l-0.7 -0.7M1056.2 1352.7l-0.6 -1.9M1045.9 1541.8l1.7 3.6M886.7 1713.6l0.0 -0.0M881.4 1707.6l-1.9 -0.7M1092.4 1459.4l1.3 -1.5M1124.2 1576.7l-1.2 -3.8M1129.4 1565.8l2.6 -1.6M1093.2 1373.9l1.1 -1.1M1072.3 1461.9l-0.3 -1.5M1074.1 1457.0l0.0 -0.0M842.6 1539.9l0.7 -0.7M843.7 1535.7l0.1 -1.0M933.3 1628.1l0.0 -0.0M1070.2 1509.5l-0.0 0.0M1065.7 1513.8l-0.8 0.7M1126.7 1622.3l-1.6 -1.2M1127.7 1616.3l1.8 -2.4M1126.9 1611.0l-0.8 -1.8M801.7 1637.0l-1.7 -1.1M1023.6 1491.4l2.3 1.9M1024.8 1497.6l0.0 0.0M781.3 1519.8l-1.1 2.8M927.1 1398.5l-0.0 -0.0M856.2 1472.4l-1.6 -2.5M1098.3 1326.5l-0.0 -0.0M884.3 1434.4l-3.6 -1.8M1071.3 1705.7l-0.0 -0.0M917.9 1332.5l-0.0 -0.0M1110.6 1702.6l0.3 -1.0M1050.5 1466.3l-0.5 -1.9M953.7 1439.3l3.9 1.0M1095.7 1484.5l-1.3 -3.8M888.2 1653.9l3.0 0.4M1041.6 1373.2l-1.1 -1.0M1036.2 1372.6l-3.9 -0.6M954.9 1682.1l-1.2 -0.9M1057.3 1488.8l-3.0 0.1M806.9 1713.7l0.1 1.5M779.0 1358.9l-0.9 2.9M775.4 1365.3l-0.7 1.3M934.5 1488.9l1.9 -0.6M785.9 1498.7l2.8 -1.2M788.9 1495.2l1.6 -2.6M869.5 1627.2l1.1 1.7M761.8 1648.7l3.0 0.1M946.8 1545.9l-0.7 1.3M934.0 1538.6l-0.0 -0.0M783.3 1700.6l-4.0 -0.3M904.9 1708.4l-1.1 -3.8M975.5 1441.3l0.0 -0.0M979.1 1435.1l0.0 -0.0M1010.7 1386.2l-0.0 0.0M1008.8 1388.7l-2.5 3.1M829.6 1682.3l1.3 -1.5M811.0 1500.5l0.0 0.0M774.4 1514.4l-0.0 0.0M1049.7 1629.7l-0.5 3.0M767.8 1471.3l0.6 4.0M770.4 1476.5l0.6 0.8M1060.0 1652.0l-1.4 0.5M986.3 1328.9l-2.5 3.1M960.4 1338.3l-0.8 1.3M905.9 1433.0l-0.0 0.0M1014.9 1581.8l-1.7 -2.5M863.8 1582.6l-0.6 3.9M1129.9 1502.6l-1.0 0.0M1120.1 1503.4l-1.7 1.0M812.1 1635.3l0.2 -1.5M992.6 1484.5l-1.2 -0.9M1138.7 1343.5l-0.9 1.8M1139.0 1349.3l0.0 0.0M766.3 1665.3l3.6 1.7M804.3 1512.1l2.0 -0.1M812.4 1509.0l0.9 -1.8M949.6 1400.1l1.3 -1.5M1054.5 1605.5l-0.2 4.0M1086.9 1332.5l0.0 0.0M963.2 1627.8l-0.0 -0.0M958.0 1625.5l-0.0 -0.0M1027.7 1376.5l-0.5 0.8M923.6 1554.6l-0.0 0.0M820.7 1331.3l0.1 -2.0M1129.8 1461.6l-2.8 1.1M816.1 1346.0l1.5 -0.2M910.5 1700.2l-0.0 -0.0M821.1 1682.5l-0.0 0.0M855.5 1620.4l1.3 -0.7M857.2 1610.0l-0.7 -0.8M863.3 1400.0l1.7 -1.1M826.9 1473.1l2.0 0.3M844.1 1650.6l-2.6 3.1M858.0 1406.0l-1.5 2.6M853.4 1409.8l-0.0 0.0M989.3 1631.8l1.9 -0.7M997.2 1630.1l0.0 -0.0M1133.5 1662.0l-2.0 0.1M1134.6 1712.4l-2.2 -2.1M1127.2 1708.6l-0.0 -0.0M1132.8 1629.4l0.8 -1.2M1131.0 1623.0l-0.4 -0.9M831.0 1488.0l-2.1 -3.4M1024.5 1564.7l0.5 1.4M1102.0 1700.3l-0.4 -0.9M1003.6 1346.7l-0.0 0.0M968.5 1461.0l-1.3 1.5M991.1 1386.5l1.3 0.7M1050.2 1720.2l-0.3 0.9M1149.1 1333.6l3.2 2.4M961.8 1674.2l-1.4 1.4M831.3 1611.7l-1.2 -0.9M827.1 1607.4l-0.7 -0.7M918.9 1344.1l-0.0 0.0M764.9 1613.6l1.4 -0.5M767.0 1463.6l0.8 -0.6M873.5 1375.0l1.9 -0.5M1146.1 1685.0l-0.8 0.6M787.2 1433.8l-0.0 0.0M1086.2 1562.0l0.0 0.0M1140.8 1553.3l-0.0 -4.0M1097.5 1533.0l-2.0 0.1M1135.7 1650.6l-1.4 -1.4M880.4 1567.4l-2.8 1.0M983.5 1577.8l-0.9 0.3M1003.6 1585.1l-1.1 -1.0M953.3 1560.0l3.9 -0.8M956.8 1554.3l0.0 -0.0M1091.0 1398.0l-2.7 -3.0M976.6 1391.3l0.0 -0.0M979.8 1387.1l2.9 -0.6M971.5 1400.0l2.3 -3.3M761.9 1550.5l0.0 0.0M761.8 1348.8l-0.0 -0.0M1146.5 1456.3l-0.0 -0.0M922.0 1439.0l0.0 -0.0M920.6 1434.3l-0.6 -1.9M926.4 1703.2l0.4 -3.0M939.6 1538.8l-3.0 -0.3M934.5 1535.7l-1.2 -0.9M792.5 1501.5l-0.0 0.0M807.1 1602.3l0.0 1.5M909.6 1372.4l-3.9 1.0M905.8 1370.8l-0.6 -0.8M1120.1 1375.9l-1.1 -1.0M769.7 1523.8l-0.0 -0.0M764.0 1521.5l-0.0 -0.0M1137.5 1686.4l-2.4 3.2M1130.9 1687.7l-0.0 -0.0M791.7 1423.0l0.7 0.7M1105.1 1538.7l-3.0 -2.7M1097.8 1539.5l-0.0 0.0M946.2 1445.5l3.8 1.4M965.7 1656.8l0.9 -0.3M904.3 1584.4l0.6 1.4M1020.2 1585.1l-0.9 1.8M1003.1 1330.0l0.6 -1.4M1125.8 1652.1l-0.6 -0.8M903.2 1475.5l2.7 1.4M822.1 1597.8l0.0 -0.0M1073.2 1685.4l-0.0 0.0M1085.5 1527.9l0.5 1.4M856.9 1387.6l2.0 0.4M992.2 1603.9l-3.0 -0.2M1152.9 1434.7l3.0 0.2M904.9 1654.1l-0.3 -2.0M1019.7 1521.8l-0.1 -1.0M845.0 1463.1l0.8 -0.5M853.4 1456.8l0.0 -0.0M1002.0 1642.2l0.0 0.0M1006.5 1641.8l4.0 -0.4M1056.3 1506.7l0.0 -0.0M858.1 1661.8l-0.6 -1.4M966.2 1349.4l-1.9 2.3M900.2 1412.6l-1.3 -1.5M875.2 1568.0l0.0 0.0M1002.4 1682.7l0.0 -0.0M969.0 1365.1l0.0 -0.0M1155.6 1567.7l0.6 1.4M1152.8 1570.8l-1.1 1.0M964.0 1567.3l0.8 0.6M914.4 1688.1l0.0 -0.0M1144.4 1466.2l-0.9 1.8M1143.6 1475.9l0.3 0.9M1050.1 1455.9l3.0 -0.3M1116.0 1697.1l-0.0 -0.0M1066.2 1331.8l1.9 -3.5M974.4 1511.9l-0.3 -1.5M943.2 1327.4l0.0 -0.0M1001.1 1616.2l-0.7 1.3M1002.0 1621.1l0.5 1.4M1027.7 1696.5l0.0 -0.0M1115.8 1381.8l0.0 -0.0M1041.6 1485.4l-0.0 0.0M1041.2 1489.8l0.0 1.0M1045.8 1492.7l3.6 1.7M826.5 1496.6l-1.0 1.1M1137.2 1713.2l-0.0 -0.0M1063.7 1659.7l2.4 -1.8M943.1 1600.7l0.4 1.4M1020.5 1550.4l-0.0 0.0M1148.1 1433.8l-0.0 -1.0M802.7 1526.0l3.8 -1.3M870.1 1491.8l-0.0 -4.0M1103.0 1721.3l2.0 0.4M1040.0 1634.1l-0.0 0.0M1121.9 1564.4l-1.0 -0.3M1062.9 1403.7l-0.8 -1.8M1061.0 1476.0l-2.9 -2.8M914.9 1623.1l0.0 -0.0M958.8 1366.7l-1.0 0.1M800.4 1558.7l-0.6 1.4M1076.7 1378.8l-1.1 1.6M1072.6 1380.3l-1.5 0.1M1070.2 1408.4l0.0 -0.0M1052.1 1467.2l-1.6 -1.2M772.0 1607.6l1.0 0.1M782.0 1607.8l3.0 -0.2M843.9 1456.5l-0.0 -0.0M846.9 1452.6l1.7 -2.5M964.3 1353.0l2.7 3.0M882.6 1474.2l-1.1 3.8M1094.7 1368.6l0.9 2.9M1101.9 1700.1l-0.0 0.0M1008.9 1597.3l-1.5 0.1M1038.2 1593.5l3.3 -2.2M897.2 1719.3l2.0 -0.4M906.7 1717.5l1.5 0.0M996.5 1444.5l0.0 -0.0M987.8 1631.3l1.4 0.6M1071.1 1442.3l-1.9 0.6M839.3 1338.5l0.0 0.0M791.1 1607.3l0.0 0.0M1001.0 1458.3l0.9 0.5M1136.2 1590.3l-0.6 -4.0"/><path stroke-width="6" d="M1143.9 1458.1l3.9 1.0M1149.2 1455.5l2.0 -2.2M894.5 1598.0l2.1 2.2M950.8 1574.1l3.9 -0.8M1117.6 1689.5l-0.0 -0.0M767.5 1602.8l1.4 0.5M1148.6 1568.0l0.2 -1.0M952.0 1320.9l0.2 -1.0M878.8 1430.4l0.0 -0.0M1140.0 1410.5l-0.0 -0.0M763.7 1647.8l-1.7 -3.6M1126.9 1655.2l0.5 -1.4M1129.9 1651.0l1.1 -1.6M1132.9 1647.4l2.3 -1.9M828.1 1602.8l-0.5 0.9M1050.1 1433.3l-0.0 0.0M1045.9 1431.8l-1.0 -0.3M1067.5 1389.9l-1.3 0.7M959.7 1329.7l-0.5 -4.0M856.7 1460.5l-0.0 -0.0M827.0 1670.3l-0.0 -0.0M798.5 1599.3l2.4 1.8M949.8 1404.2l0.4 2.0M1126.8 1471.1l-0.1 1.0M1125.7 1475.3l-0.4 1.4M1059.7 1541.1l0.0 -0.0M1103.1 1352.9l0.1 3.0M1051.0 1615.9l-2.8 1.1M879.9 1430.5l-0.0 -0.0M1009.0 1643.2l-2.7 -1.4M1144.9 1609.8l-0.0 0.0M1017.4 1400.3l1.6 -1.2M889.1 1653.0l0.3 3.0M893.3 1359.0l-1.4 0.6M1099.5 1653.8l0.2 2.0M895.2 1678.7l0.7 -1.3M941.4 1661.0l-0.1 2.0M939.3 1668.4l0.3 1.5M1048.5 1499.5l3.0 -0.4M1013.5 1535.3l2.0 0.1M1095.1 1613.2l0.0 0.0M1091.8 1618.7l-0.0 0.0M846.8 1670.6l2.2 2.1M854.3 1671.3l0.0 -0.0M1095.9 1693.8l0.5 0.9M998.4 1711.3l-0.4 4.0M977.0 1364.9l-0.0 0.0M1012.3 1550.5l-2.8 1.1M1010.4 1555.2l-0.2 4.0M815.4 1504.1l0.0 -0.0M818.0 1501.5l0.0 -0.0M1035.0 1522.5l0.0 0.0M872.4 1422.4l0.6 1.9M1033.1 1612.8l-0.3 -3.0M1031.4 1609.8l-2.2 -2.0M822.6 1353.3l0.5 -0.9M833.7 1349.2l0.9 -0.5M1075.4 1459.5l-1.5 -0.3M970.3 1673.1l0.0 -0.0M882.7 1582.7l-2.2 2.0M908.5 1366.8l2.4 -1.7M912.0 1355.9l-0.0 -1.0M900.5 1450.9l-0.0 -0.0M1086.3 1400.7l1.3 -2.7M1037.7 1661.1l0.1 2.0M777.3 1619.2l-3.1 -2.5M862.5 1485.0l-2.7 -1.2M856.5 1487.9l-1.2 0.9M859.9 1483.6l-1.0 -1.2M979.0 1412.7l1.0 -0.2M987.1 1519.1l0.8 2.9M987.0 1523.7l-1.6 3.7M800.8 1596.2l2.8 -2.8M1098.7 1403.6l1.0 -0.2M1078.7 1587.8l0.9 0.4M1084.5 1379.8l1.5 -0.2M912.2 1591.8l2.1 -2.1M848.2 1658.4l-2.7 -1.4M989.4 1477.2l-0.0 -0.0M870.3 1701.4l0.8 -0.6M1099.0 1340.5l0.0 0.0M783.3 1671.9l-1.3 1.5M780.3 1676.3l-0.0 0.0M917.7 1368.8l3.9 -0.8M923.4 1364.9l0.7 -0.7M833.2 1432.4l-0.7 1.9M970.5 1619.0l0.9 -0.5M873.5 1720.7l0.0 0.0M887.0 1558.2l1.3 -0.7M891.3 1558.4l3.9 0.7M1031.8 1607.1l0.9 0.5M1044.1 1607.9l1.5 0.1M1046.7 1609.1l2.7 3.0M949.0 1617.5l-0.0 -0.0M946.3 1612.3l-0.5 -0.9M1041.0 1361.0l3.0 -2.7M830.0 1363.0l-3.0 -0.0M984.8 1507.4l1.9 -0.5M1048.6 1471.1l-0.5 0.9M788.3 1701.4l-0.3 -1.0M930.4 1519.4l-0.0 -0.0M856.3 1687.6l-0.0 0.0M854.1 1691.4l-2.3 3.3M970.6 1520.6l1.3 -0.8M972.7 1514.6l0.4 -1.5M853.9 1602.5l0.0 0.0M856.9 1697.8l-0.8 0.7M859.9 1708.4l0.9 1.8M1039.6 1328.2l-1.2 3.8M1034.8 1330.6l-3.8 1.3M1059.1 1702.9l-0.0 -0.0M908.1 1540.5l-0.0 -0.0M983.5 1461.0l0.0 -0.0M763.1 1422.7l3.1 2.5M881.0 1351.8l2.6 -1.5M945.1 1699.9l-0.0 -0.0M948.9 1497.6l0.8 0.6M879.8 1475.7l2.2 -2.1M886.6 1450.1l2.0 -0.3M889.4 1447.0l0.0 -0.0M960.1 1476.7l1.4 0.5M963.6 1481.3l0.9 1.2M844.1 1656.4l1.0 1.1M974.1 1629.5l-0.0 -0.0M892.3 1413.2l-0.7 -0.7M890.5 1412.0l-2.8 -1.1M835.0 1652.9l-1.3 -2.7M995.3 1439.7l1.1 -1.7M995.5 1432.9l-0.0 -0.0M975.9 1452.9l0.0 -0.0M975.8 1448.7l-0.0 -0.0M1158.2 1412.0l0.0 0.0M1160.9 1416.7l0.0 0.0M883.3 1504.4l-1.3 0.8M866.1 1403.6l-2.0 -0.1M937.3 1467.6l-0.4 -1.4M827.7 1433.5l-2.6 1.5M898.9 1384.2l1.3 -0.8M905.2 1381.0l1.7 -1.0M1110.1 1632.6l-0.7 -3.9M1110.9 1626.3l1.0 -3.9M1115.4 1623.4l3.8 -1.1M1053.6 1463.2l-0.4 2.0M759.8 1475.8l-0.0 0.0M755.7 1480.5l-1.0 1.1M992.4 1663.6l-0.0 -0.0M992.6 1655.6l0.6 -1.4M1037.0 1718.3l0.0 -0.0M1037.1 1711.3l-0.0 -0.0M1008.1 1408.5l-0.0 0.0M1148.9 1499.4l3.0 0.4M949.2 1339.2l1.4 3.7M1056.6 1425.4l0.0 0.0M1146.3 1463.2l0.0 -1.0M979.3 1633.3l0.9 0.4M946.5 1381.8l-0.9 1.2M942.5 1386.7l-0.0 0.0M941.4 1392.0l-0.2 1.5M954.5 1477.4l1.7 1.0M960.6 1480.1l0.0 0.0M823.6 1367.2l-3.9 -1.0M814.0 1365.6l-0.0 -0.0M811.8 1360.0l-0.5 -0.9M1052.9 1427.2l0.0 -0.0M1111.4 1682.8l-0.0 0.0M1054.5 1348.9l-0.6 -1.4M1058.2 1344.7l1.4 -1.4M1049.0 1544.0l2.0 0.2M884.8 1710.1l-0.0 -0.0M969.5 1586.4l2.3 3.3M1125.1 1569.1l0.0 -0.0M1104.1 1581.4l0.0 0.0M1090.5 1377.8l-0.6 -1.4M1076.8 1454.2l2.8 -2.9M947.5 1457.2l-0.0 0.0M804.7 1639.9l-0.0 -0.0M925.4 1394.9l-1.5 -3.7M1103.1 1708.4l1.3 -0.7M1107.6 1707.3l2.0 -0.1M1098.7 1494.5l0.0 -0.0M918.5 1391.3l-0.0 0.0M1031.6 1373.5l-1.8 0.8M771.7 1612.5l2.1 2.1M959.5 1685.4l-0.0 -0.0M1146.0 1437.8l-0.3 1.0M1138.5 1452.0l-1.3 2.7M772.5 1713.0l0.0 2.0M772.4 1716.7l-0.9 3.9M767.1 1649.9l1.9 0.6M1117.6 1324.9l-0.0 -0.0M791.7 1381.2l0.0 0.0M956.4 1563.1l0.0 -0.0M1013.4 1686.4l-0.0 -0.0M1015.6 1680.8l0.0 -0.0M1016.6 1679.1l0.5 -4.0M905.3 1710.6l0.0 -0.0M971.2 1684.1l-1.4 -0.6M965.2 1685.1l-2.9 0.6M773.5 1515.3l-3.6 1.8M915.7 1486.8l0.8 1.8M889.0 1523.9l-2.3 -1.9M823.1 1514.0l-0.4 -0.9M1044.5 1632.2l-0.0 0.0M768.4 1479.5l-1.8 2.4M1030.7 1584.1l-0.0 -0.0M860.5 1578.1l1.0 -0.1M1122.6 1502.6l-0.0 0.0M864.9 1357.7l1.3 1.5M870.7 1359.9l2.0 0.4M876.4 1363.1l1.2 0.9M997.6 1477.7l0.0 -0.0M930.0 1549.7l-0.0 -0.0M1125.9 1407.4l1.3 2.7M1075.6 1723.1l-0.8 0.6M906.3 1374.9l-0.4 1.4M831.9 1639.5l1.4 0.5M838.1 1642.9l1.4 1.4M846.1 1382.7l1.5 -1.3M1049.1 1609.4l-1.4 0.4M1130.2 1502.5l-0.8 0.6M796.6 1584.5l1.1 -2.8M1045.8 1495.2l1.3 0.8M1072.1 1334.8l1.0 -0.1M1107.7 1433.0l0.6 0.8M956.5 1627.5l-3.0 2.6M1066.0 1434.5l-1.6 -3.7M1061.8 1430.4l-1.2 -0.9M1065.5 1440.6l-0.0 -0.0M1021.0 1379.2l-0.0 0.0M922.7 1563.8l-0.0 1.0M1013.9 1519.8l0.1 -1.5M914.0 1702.5l-0.0 -0.0M1068.4 1428.1l-1.9 3.5M940.0 1698.3l-0.0 -0.0M905.2 1698.3l-1.4 -0.5M858.0 1618.7l3.1 -2.5M859.9 1612.0l0.0 -0.0M1106.6 1334.6l-0.0 -0.0M1153.0 1587.0l1.5 3.7M1119.9 1498.0l0.9 0.4M1124.3 1497.9l1.5 -0.2M1126.0 1505.7l-0.3 1.0M845.7 1647.9l-0.1 1.0M849.4 1411.0l-4.0 0.6M845.5 1412.6l-2.0 2.2M996.6 1482.8l0.0 -0.0M999.6 1477.9l0.9 -1.8M1130.0 1632.8l0.0 -0.0M833.5 1490.6l-3.0 -2.6M1047.9 1685.0l2.1 -2.1M1051.9 1683.2l1.5 -0.1M1021.4 1561.4l3.9 1.1M1104.1 1705.1l-1.3 -0.7M1029.7 1562.0l-0.0 0.0M834.1 1512.0l-0.1 -4.0M829.1 1508.3l-1.4 -0.5M990.7 1391.2l-0.4 2.0M877.2 1473.2l-1.5 -1.4M873.4 1472.3l-1.0 0.1M868.2 1472.8l-2.9 0.6M1141.0 1647.6l0.0 -0.0M1146.1 1647.0l0.0 -0.0M798.8 1545.3l-0.5 -3.0M1081.6 1670.1l-0.0 -0.0M1087.9 1663.7l0.9 -0.5M951.4 1507.2l1.8 0.9M771.0 1609.9l0.0 -0.0M877.8 1371.4l2.1 -2.2M761.4 1702.8l-0.9 3.9M882.3 1563.2l0.3 1.0M880.2 1566.1l-2.3 3.2M1154.3 1677.8l-2.7 1.3M1142.6 1683.3l-0.0 -0.0M793.9 1434.6l-1.3 -0.8M1006.4 1454.6l-0.0 0.0M1000.6 1453.4l-2.0 -0.3M756.9 1406.9l-0.3 -4.0M917.4 1595.1l-0.3 -4.0M921.1 1590.2l3.0 -2.6M1000.3 1384.6l-0.8 0.7M991.4 1392.2l-0.5 1.4M981.1 1681.9l0.9 -0.5M940.3 1427.8l0.4 -0.9M943.1 1422.8l0.0 -0.0M982.2 1498.7l1.1 2.8M980.3 1579.0l-2.7 1.4M974.2 1580.8l-1.0 0.2M1093.1 1563.8l-0.5 -0.9M1094.9 1559.7l0.8 -1.2M999.7 1540.7l-1.9 0.5M994.5 1541.8l-2.7 1.3M993.3 1545.5l-0.2 1.0M1091.7 1401.5l2.2 -3.4M778.0 1678.7l-0.0 -0.0M964.4 1399.5l0.3 1.0M807.3 1417.3l-0.1 -1.0M805.0 1412.0l-0.7 -1.9M800.1 1407.0l-0.0 -0.0M1064.3 1666.2l-0.5 1.4M757.1 1549.0l0.9 -0.5M913.9 1620.6l2.2 3.3M1060.7 1370.3l0.0 -0.0M1062.3 1366.7l0.9 -1.8M916.8 1432.1l-3.8 -1.2M821.3 1375.5l0.9 -0.5M821.3 1372.2l-0.3 -2.0M816.3 1367.9l-1.3 -0.8M1011.9 1479.8l-0.0 0.0M920.9 1695.4l-1.0 -0.3M927.7 1349.7l1.5 -2.6M789.6 1505.8l-0.8 1.3M860.3 1344.3l-0.0 -0.0M758.3 1519.2l-0.9 -0.3M917.4 1435.1l1.3 -0.7M923.6 1437.9l0.8 0.5M1153.7 1377.7l0.0 0.0M1155.2 1379.5l1.7 2.5M989.3 1357.3l-1.1 3.8M865.0 1691.1l1.8 -2.4M939.7 1454.9l-1.5 1.4M904.8 1554.9l0.0 0.0M953.8 1674.7l-0.0 0.0M1107.2 1540.1l-1.0 -0.2M937.8 1438.9l1.8 -0.8M942.0 1439.3l1.9 0.8M961.1 1658.5l0.0 0.0M968.6 1656.4l3.9 -0.8M913.9 1369.0l0.0 -0.0M912.6 1366.3l-0.8 -1.3M912.6 1361.9l1.0 -3.9M862.7 1537.2l2.5 1.7M1023.7 1578.2l-1.8 3.6M1000.8 1325.5l-1.1 -1.7M997.4 1320.8l-0.9 -1.2M998.0 1315.8l0.0 -0.0M883.3 1511.4l-0.1 3.0M924.3 1387.2l0.9 3.9M809.8 1596.4l0.0 -0.0M818.0 1597.9l0.0 0.0M1074.1 1677.5l0.5 1.4M1086.3 1532.2l0.1 4.0M890.8 1608.2l-0.0 0.0M893.4 1612.1l1.5 2.6M1139.1 1403.9l1.1 1.7M1143.6 1408.0l1.3 0.8M836.4 1588.6l0.1 -3.0M907.9 1534.9l-0.0 -0.0M845.3 1365.2l-1.9 -0.7M843.3 1363.4l-2.5 -1.6M1100.9 1691.3l0.0 -0.0M1087.4 1533.8l0.3 4.0M836.0 1518.9l1.3 -2.7M1036.8 1483.8l0.0 0.0M1037.0 1488.6l0.7 2.9M1041.7 1495.5l0.0 0.0M863.0 1457.6l-0.8 -1.3M804.7 1354.3l-0.5 -1.4M906.1 1402.4l0.1 1.5M1143.4 1424.3l-1.6 -1.2M856.1 1650.4l-0.2 -3.0M879.2 1652.3l0.0 0.0M840.1 1467.0l0.9 -1.2M847.8 1458.6l0.9 -1.8M842.4 1624.2l0.7 -0.7M842.0 1618.0l-0.0 -0.0M1155.3 1512.4l0.2 -1.0M771.8 1510.2l-0.0 -0.0M1055.6 1500.0l-0.0 -0.0M859.6 1667.2l0.1 -3.0M974.4 1544.2l0.8 1.3M930.0 1445.6l0.6 -0.8M933.4 1443.1l0.0 -0.0M960.2 1352.8l-1.8 0.8M943.0 1674.3l-0.5 -1.9M878.5 1591.8l1.9 -0.6M842.5 1601.7l-0.9 -1.2M1040.6 1372.6l-0.0 0.0M1041.4 1376.6l-0.2 4.0M996.4 1685.1l1.8 -0.9M965.8 1368.6l0.0 -0.0M1088.5 1601.0l0.0 -4.0M917.2 1686.4l3.4 -2.2M1142.4 1470.3l-0.0 0.0M1142.3 1481.8l-0.3 1.0M981.0 1422.6l-0.6 -0.8M976.7 1572.8l-0.1 -1.0M1120.3 1699.7l-0.0 -0.0M1049.6 1577.4l0.0 -0.0M962.5 1590.6l0.0 -0.0M1087.2 1618.7l-1.3 0.7M973.8 1434.2l-0.0 0.0M971.3 1437.0l-2.1 2.1M1113.8 1686.6l-1.3 -0.7M1041.9 1479.2l1.1 1.7M951.8 1675.8l-0.1 1.0M1055.4 1407.3l-2.7 -3.0M984.6 1373.5l0.0 -0.0M1066.9 1689.9l1.3 1.5M1105.5 1624.1l0.7 0.8M1120.0 1586.6l-1.1 1.7M1046.3 1369.5l1.7 1.1M803.8 1645.6l0.0 -0.0M1107.4 1458.9l0.0 0.0M1110.2 1456.0l0.0 -0.0M962.4 1468.9l0.8 2.9M769.8 1546.4l-0.0 -0.0M914.7 1478.9l0.3 -1.5M913.3 1474.8l-0.8 -1.3M914.9 1471.2l2.3 -3.3M1047.1 1473.2l1.9 0.8M1105.9 1725.2l0.9 1.8M1085.2 1629.2l1.8 -3.6M904.1 1615.7l-0.0 0.0M902.0 1621.2l-1.2 2.8M968.2 1518.3l-0.0 0.0M779.8 1666.7l0.0 -0.0M1068.1 1393.5l0.7 -1.3M1025.3 1558.0l-1.1 3.8M873.0 1673.8l2.1 2.2M1068.0 1511.1l0.0 1.0M955.1 1369.2l-3.4 2.2M1079.7 1374.4l-1.8 0.8M1068.4 1379.3l-2.0 -0.3M1067.5 1404.4l-0.5 -0.9M906.7 1441.9l-2.1 -2.2M908.4 1435.8l0.0 -0.0M906.5 1429.9l-0.0 -0.0M829.0 1710.5l1.5 -0.1M1039.3 1623.6l-0.8 -1.3M1035.3 1621.2l-0.0 -0.0M1008.2 1421.9l0.7 1.3M1011.9 1424.4l2.4 1.8M848.3 1447.7l0.8 -3.9M959.2 1348.0l0.0 0.0M961.6 1349.8l0.0 0.0M1022.7 1657.9l0.0 -0.0M992.4 1524.5l-0.2 3.0M998.3 1529.0l0.0 0.0M877.3 1510.9l-0.0 -0.0M1105.1 1693.7l-2.6 3.0M1003.2 1596.6l-0.0 -0.0M901.2 1718.3l3.9 -0.9M979.2 1631.6l1.5 0.3M983.8 1629.8l0.0 -0.0M1075.4 1440.5l-1.1 1.0M838.5 1342.9l-0.5 3.0M841.1 1348.9l1.5 2.6M984.0 1617.3l0.9 -0.5M802.8 1650.0l-0.0 -0.0M797.6 1644.7l-2.8 -1.1M994.9 1455.0l0.0 -0.0M1004.8 1459.8l0.0 0.0M1076.4 1331.6l-0.1 -4.0M1080.1 1326.5l1.2 -1.0M1136.0 1584.0l0.1 -1.5"/><path stroke-width="7" d="M930.7 1488.4l-2.0 0.3M766.2 1327.3l-1.4 -0.6M1148.9 1571.2l-0.5 -0.9M1080.9 1445.5l1.1 1.1M962.5 1507.2l0.0 -0.0M970.4 1506.5l0.9 0.5M1059.4 1428.6l2.3 1.9M946.6 1407.9l-0.7 0.7M1121.4 1478.7l-3.5 2.0M1154.0 1690.4l0.9 0.4M1154.1 1584.4l-1.9 0.5M1152.8 1590.6l-0.1 2.0M876.3 1592.4l-0.0 0.0M1057.5 1336.9l-1.5 0.1M1044.0 1627.3l-0.3 1.0M879.7 1435.4l2.2 -3.3M930.2 1356.3l-0.4 0.9M887.2 1685.1l3.4 -2.1M891.7 1683.1l1.5 -0.3M894.8 1674.2l-1.1 -3.8M938.6 1666.3l-0.0 0.0M1137.4 1632.0l-1.5 0.1M1035.9 1340.9l-3.0 0.0M1073.5 1455.4l-0.3 -1.5M1154.8 1601.9l2.1 -3.4M856.2 1483.3l-0.0 0.0M1137.8 1378.4l-0.0 0.0M928.7 1707.2l0.4 -0.9M927.4 1704.1l-2.2 -3.4M879.4 1402.2l1.3 -0.7M991.5 1381.5l-0.7 2.9M847.9 1697.7l-0.0 0.0M915.4 1714.8l-1.2 0.9M916.5 1719.9l1.1 3.9M848.3 1598.6l0.2 1.5M839.7 1542.6l0.0 -0.0M982.2 1629.4l-3.2 2.4M888.1 1402.7l-0.2 -1.0M900.9 1449.2l-0.0 0.0M910.3 1453.9l3.2 2.4M988.1 1425.7l-0.0 -0.0M1076.0 1684.0l-1.1 -2.8M1012.3 1396.4l-0.3 2.0M987.6 1642.2l0.7 0.7M794.1 1622.9l0.7 0.7M1111.4 1678.2l1.1 1.0M776.2 1682.2l1.6 2.5M1130.9 1647.9l-0.0 0.0M935.6 1402.9l-0.5 -0.8M1101.4 1374.7l-1.7 1.0M1120.2 1665.6l3.0 0.4M886.5 1434.4l-0.0 0.0M755.3 1325.1l-0.0 0.0M1050.9 1471.0l0.5 -1.4M1073.1 1472.8l0.5 2.9M881.6 1651.9l2.9 2.8M1098.5 1506.3l0.0 0.0M805.9 1709.3l2.0 3.4M803.8 1715.8l-1.3 0.7M923.9 1399.1l-0.8 -1.8M810.9 1494.8l0.7 0.7M767.9 1518.5l-0.8 0.6M919.1 1491.2l0.6 0.8M1057.4 1658.8l-0.0 0.0M1082.4 1718.8l-2.8 1.2M850.7 1382.9l0.0 0.0M953.1 1397.0l2.9 -2.8M798.7 1593.8l-0.2 -2.0M1084.1 1549.9l0.0 0.0M804.5 1340.5l-0.9 2.9M811.8 1347.5l0.0 -0.0M866.7 1448.0l0.2 -3.0M845.9 1643.4l-0.0 0.0M985.1 1633.7l0.0 -0.0M1137.8 1662.3l-1.9 0.6M1128.7 1634.3l3.9 1.1M1133.3 1640.2l0.0 0.0M795.0 1554.9l-3.3 2.2M1154.1 1338.6l0.6 0.8M958.2 1683.5l0.2 1.0M832.6 1660.8l0.0 -0.0M1042.2 1550.8l-1.0 0.1M949.4 1504.7l0.6 2.9M1081.5 1556.2l0.4 0.9M976.2 1684.9l1.8 -2.4M977.0 1388.8l0.6 -1.9M969.7 1401.9l1.0 0.2M766.5 1693.2l0.5 -1.9M842.0 1496.2l2.0 0.1M904.2 1547.9l-1.6 2.5M954.9 1670.8l0.0 0.0M954.7 1677.6l0.6 1.9M1073.4 1672.0l-1.6 2.6M836.0 1592.1l-0.0 -0.0M907.3 1542.1l3.0 -2.6M859.9 1443.3l-1.0 -1.1M1054.5 1512.5l0.7 -1.3M956.7 1472.0l0.0 0.0M953.4 1484.5l-0.3 1.0M909.5 1406.9l0.3 1.0M1086.8 1389.1l0.0 0.0M963.5 1596.2l-1.8 -0.9M1002.7 1623.4l-0.4 3.0M998.3 1698.4l1.9 0.6M1002.3 1695.5l1.1 -1.0M955.9 1683.7l1.3 0.8M939.3 1594.4l3.5 2.0M943.2 1605.9l0.8 3.9M954.9 1541.0l-3.0 0.2M1043.4 1471.5l1.0 -0.2M1126.9 1565.3l-1.5 0.3M1046.3 1552.5l-0.7 -2.9M1100.1 1693.8l0.0 0.0M875.1 1679.8l0.3 3.0M1065.4 1403.4l-2.8 -1.0M1005.3 1416.7l0.9 0.5M880.0 1460.8l1.7 1.0M878.5 1513.6l-0.0 -0.0M798.1 1358.5l1.7 1.0M790.7 1611.4l-0.6 2.9M802.1 1647.4l-0.2 -1.0M1086.9 1331.4l0.0 0.0"/></g>
<g fill="none" stroke-linecap="round"><path stroke="#282828" stroke-width="2" d="M893.9 1677.1l0.7 -1.3M1084.9 1614.8l-1.9 -0.6M1098.2 1692.0l0.0 -0.0M980.9 1358.2l0.3 3.0M1094.7 1394.6l2.2 2.1M966.1 1677.4l0.0 -0.0M860.6 1533.2l0.0 -1.0M999.9 1585.7l0.7 -0.7M907.2 1593.3l0.5 -0.9M853.1 1657.7l-3.5 2.0M841.0 1422.1l-1.9 2.3M875.3 1720.6l0.9 0.4M769.2 1504.4l1.9 3.5M1105.8 1611.9l2.6 1.5M958.3 1688.9l3.5 1.9M1152.2 1406.8l-0.4 1.5M834.4 1401.9l-0.0 0.0M990.2 1658.8l-1.2 -2.7M1134.9 1364.9l-0.3 1.0M800.2 1635.6l-1.7 -1.1M1095.4 1373.7l-4.0 0.5M947.6 1437.6l1.5 -1.4M760.0 1593.0l-0.0 -0.0M1008.8 1384.3l-0.0 0.0M963.7 1683.4l-2.9 0.6M904.4 1373.6l-0.4 1.4M1047.5 1495.8l0.9 0.5M1071.1 1333.1l1.0 -0.1M956.7 1624.3l-0.0 -0.0M1073.3 1547.6l0.0 -0.0M1000.2 1345.6l-3.7 1.5M1087.0 1562.0l1.2 0.9M1059.4 1368.4l0.0 -0.0M920.6 1437.1l0.0 -0.0M923.9 1694.8l-0.0 -0.0M924.3 1351.0l-0.0 -0.0M1153.8 1377.4l1.7 2.5M808.5 1594.9l0.0 -0.0M1072.6 1676.3l0.5 1.4M834.0 1517.4l1.3 -2.7M1045.0 1491.5l0.0 -0.0M1010.2 1639.3l3.9 -1.0M949.9 1678.0l-0.3 0.9M968.0 1362.9l0.0 -0.0M994.1 1625.3l-0.0 0.0M1018.8 1548.5l-0.0 0.0M868.5 1489.6l-0.0 -4.0M770.5 1605.7l1.0 0.1M962.5 1351.1l2.7 3.0M1007.1 1595.6l-1.5 0.1M895.3 1717.3l2.0 -0.4M801.0 1648.4l-0.0 -0.0M1135.0 1589.1l-0.6 -4.0"/><path stroke="#282828" stroke-width="3" d="M765.1 1325.8l-1.4 -0.6M1125.5 1653.1l0.5 -1.4M946.7 1398.3l1.4 2.7M948.0 1402.2l0.4 2.0M1124.1 1474.1l-0.4 1.4M1049.6 1613.9l-2.8 1.1M870.6 1421.2l0.6 1.9M1020.4 1606.9l-2.0 0.4M906.9 1364.8l2.4 -1.7M1036.5 1659.4l0.1 2.0M799.3 1594.1l2.8 -2.8M1037.0 1430.5l1.5 0.2M922.2 1358.1l-0.1 -1.0M927.3 1705.5l0.4 -0.9M1064.4 1431.9l-1.7 -2.4M859.8 1401.5l2.0 -0.2M867.2 1401.7l1.0 0.0M975.4 1508.1l1.4 -1.4M847.2 1596.4l0.2 1.5M1069.6 1663.7l-0.0 -0.0M854.8 1498.5l0.0 -0.0M954.9 1686.5l0.1 1.0M986.9 1424.4l-0.0 -0.0M862.1 1405.1l-1.9 3.5M937.3 1470.6l-0.9 -0.4M990.6 1378.0l1.1 -2.8M1052.6 1454.8l0.5 4.0M852.4 1545.1l-0.4 0.9M767.8 1687.6l-0.7 -0.7M1110.1 1680.8l-0.0 0.0M1088.8 1375.8l-0.6 -1.4M1091.9 1371.9l1.1 -1.1M1096.4 1324.7l-0.0 -0.0M1097.5 1505.1l0.0 0.0M1029.9 1371.7l-1.8 0.8M1029.4 1582.2l-0.0 -0.0M869.5 1357.9l2.0 0.4M810.5 1633.4l0.2 -1.5M1019.8 1377.1l-0.0 0.0M912.7 1700.6l-0.0 -0.0M1066.9 1426.9l-1.9 3.5M1105.1 1332.7l-0.0 -0.0M830.9 1468.8l0.9 -0.5M844.6 1371.0l-0.5 -4.0M1147.8 1331.9l3.2 2.4M835.0 1661.2l1.8 1.0M1144.3 1683.1l-0.8 0.6M990.3 1390.1l-0.5 1.4M1134.3 1648.5l-1.4 -1.4M991.4 1544.3l-0.2 1.0M777.8 1681.8l-1.4 -0.7M970.0 1398.4l2.3 -3.3M1061.0 1365.3l0.9 -1.8M788.0 1504.6l-0.8 1.3M840.7 1494.8l2.0 0.1M860.6 1693.5l0.2 -2.0M789.9 1420.9l0.7 0.7M851.1 1411.5l0.1 -1.5M1018.8 1523.3l-0.0 -0.0M873.6 1565.8l0.0 0.0M915.9 1684.7l3.4 -2.2M1140.9 1480.2l-0.3 1.0M1026.2 1694.8l0.0 -0.0M1040.5 1477.4l1.1 1.7M937.9 1593.0l3.5 2.0M911.4 1473.4l-0.8 -1.3M1041.4 1469.8l1.0 -0.2M1144.0 1562.5l-1.6 -3.7M1067.7 1504.1l-1.4 0.5M842.1 1455.2l-0.0 -0.0M877.3 1512.2l-0.0 -0.0"/><path stroke="#383838" stroke-width="2" d="M1146.0 1448.4l-0.0 -0.0M886.2 1418.5l-0.2 -2.0M830.7 1607.3l1.1 1.1M1069.9 1385.9l-0.0 0.0M1117.1 1483.2l-0.3 1.0M1058.4 1539.9l0.0 -0.0M946.5 1519.3l1.5 -0.1M1098.6 1357.2l-0.0 0.0M899.1 1361.1l1.1 -2.8M1009.2 1533.9l0.0 -0.0M901.9 1553.8l3.0 -0.1M836.5 1629.8l-0.0 -0.0M855.2 1666.6l1.1 -1.0M954.4 1710.7l0.0 -0.0M1130.7 1631.2l-1.5 0.3M1113.3 1372.4l0.3 -1.5M814.3 1502.6l0.0 -0.0M869.5 1430.4l-0.3 1.5M1026.0 1605.8l-0.0 -0.0M891.3 1403.4l-3.0 0.4M910.3 1360.7l1.1 -1.6M983.4 1487.8l-3.0 -0.0M1034.3 1655.9l3.9 1.1M852.4 1477.3l-0.0 -0.0M1007.6 1581.8l1.0 -0.0M1046.5 1596.1l-0.9 -0.4M916.6 1366.7l3.9 -0.8M873.6 1402.0l1.0 0.1M983.5 1505.9l1.9 -0.5M978.9 1630.4l-2.4 -3.2M830.1 1543.1l-1.1 1.1M852.4 1689.3l-2.3 3.3M823.1 1524.9l1.9 -2.3M851.9 1600.9l0.0 0.0M906.5 1539.1l-0.0 -0.0M866.8 1501.7l0.8 -1.3M867.4 1497.5l0.2 -3.0M886.0 1350.4l1.9 0.5M838.2 1536.2l0.3 -3.0M838.3 1396.4l-1.3 0.8M933.8 1353.8l-1.7 3.6M1047.8 1428.7l0.5 -0.9M1044.0 1540.4l1.7 3.6M883.6 1708.0l-0.0 -0.0M1072.3 1455.6l0.0 -0.0M1080.3 1453.2l0.0 0.0M795.7 1636.2l-3.8 1.2M916.2 1330.7l-0.0 -0.0M1101.3 1706.6l1.3 -0.7M1040.2 1371.8l-1.1 -1.0M939.7 1544.8l-3.0 -0.2M789.7 1379.3l0.0 0.0M781.4 1698.5l-4.0 -0.3M903.6 1707.2l-1.1 -3.8M770.6 1393.2l-1.1 -1.7M1058.5 1650.4l-1.4 0.5M1029.2 1595.0l1.5 -2.6M858.9 1576.5l1.0 -0.1M990.8 1478.6l-0.1 -2.0M947.9 1398.8l1.3 -1.5M969.1 1332.3l-0.0 0.0M1076.7 1546.7l3.9 -1.0M1068.4 1424.3l0.0 0.0M934.1 1694.4l-0.9 -0.4M804.6 1345.5l0.0 0.0M1118.6 1496.4l0.9 0.4M1022.7 1563.2l0.5 1.4M1028.5 1560.1l-0.0 0.0M879.1 1472.5l-1.8 1.0M917.0 1342.7l-0.0 0.0M769.8 1463.1l3.8 1.4M879.3 1557.7l0.0 0.0M792.3 1432.6l-1.3 -0.8M915.9 1593.8l-0.3 -4.0M1089.1 1609.6l-0.8 2.9M1091.2 1562.0l-0.5 -0.9M1002.0 1583.5l-1.1 -1.0M805.4 1415.4l-0.1 -1.0M915.1 1430.6l-3.8 -1.2M820.1 1374.0l0.9 -0.5M938.5 1537.2l-3.0 -0.3M926.0 1348.2l1.5 -2.6M790.6 1500.3l-0.0 0.0M903.1 1582.5l0.6 1.4M1001.4 1328.2l0.6 -1.4M846.0 1456.5l0.9 -1.8M858.4 1666.0l0.1 -3.0M925.7 1449.4l-0.4 -3.0M864.9 1563.2l1.0 -0.1M1040.8 1444.7l-1.5 1.3M1064.5 1330.5l1.9 -3.5M1069.5 1325.6l0.0 -0.0M942.1 1325.4l0.0 -0.0M1110.9 1382.6l-0.0 -0.0M1039.6 1483.7l-0.0 0.0M1004.9 1692.7l1.9 -0.6M1135.2 1712.0l-0.0 -0.0M951.3 1678.4l0.7 2.9M983.6 1371.4l0.0 -0.0M941.2 1599.5l0.4 1.4M1106.1 1457.3l0.0 0.0M1112.8 1453.6l3.0 -0.4M917.9 1467.5l1.5 0.0M1059.2 1474.0l-2.9 -2.8M913.3 1621.7l0.0 -0.0M784.8 1342.5l-1.3 3.8M957.0 1365.4l-1.0 0.1M1078.7 1372.9l-1.8 0.8M780.4 1606.4l3.0 -0.2M1020.8 1656.0l0.0 -0.0M1100.6 1698.1l-0.0 0.0M982.6 1627.9l0.0 -0.0M1003.4 1458.3l0.0 0.0"/><path stroke="#383838" stroke-width="3" d="M775.7 1693.0l-0.0 -0.0M925.2 1390.7l-1.1 2.8M933.5 1486.4l-2.8 -1.2M1118.0 1680.6l0.0 -0.0M1118.7 1675.1l0.2 -2.0M763.3 1599.2l-0.0 2.0M766.4 1601.3l1.4 0.5M950.3 1324.9l-1.3 -0.7M1083.8 1621.5l-3.2 -2.4M877.1 1429.0l0.0 -0.0M1131.2 1646.1l2.3 -1.9M1111.4 1469.3l1.9 -3.5M801.3 1599.0l2.0 0.1M1045.4 1618.3l-1.7 2.4M1042.9 1625.6l-0.3 1.0M891.5 1357.1l-1.4 0.6M940.0 1659.2l-0.1 2.0M852.5 1669.3l0.0 -0.0M1143.6 1635.3l-0.1 -1.5M839.9 1657.7l2.6 1.5M962.1 1572.7l0.0 0.0M1040.9 1533.7l-0.6 1.9M828.1 1350.5l0.0 -0.0M832.5 1347.9l0.9 -0.5M1084.8 1399.1l1.3 -2.7M854.3 1481.4l-0.0 0.0M977.0 1411.2l1.0 -0.2M846.6 1656.2l-2.7 -1.4M781.8 1670.2l-1.3 1.5M833.6 1425.3l-0.0 0.0M831.6 1430.2l-0.7 1.9M1134.3 1506.0l-0.0 -0.0M1065.3 1427.2l0.9 -1.8M947.3 1616.0l-0.0 -0.0M991.4 1376.3l-1.6 1.2M935.9 1519.0l-0.7 -1.3M928.6 1517.9l-0.0 -0.0M849.1 1634.4l3.0 0.3M853.9 1631.1l2.7 -2.9M981.6 1459.7l0.0 -0.0M879.5 1349.8l2.6 -1.5M933.2 1415.5l0.0 0.0M980.5 1627.6l-3.2 2.4M891.2 1411.6l-0.7 -0.7M899.1 1447.4l-0.0 0.0M908.6 1451.9l3.2 2.4M974.2 1451.2l0.0 -0.0M865.0 1401.5l-2.0 -0.1M935.5 1466.0l-0.4 -1.4M987.9 1390.1l-1.7 -3.6M1051.8 1461.9l-0.4 2.0M1034.2 1721.5l-1.7 -2.5M1035.8 1716.6l0.0 -0.0M773.2 1646.5l1.3 1.5M977.9 1632.0l0.9 0.4M952.9 1475.7l1.7 1.0M1055.0 1351.0l-0.6 -1.9M1074.9 1452.9l2.8 -2.9M946.3 1455.3l-0.0 0.0M1125.5 1645.5l-2.9 -0.8M779.9 1518.3l-1.1 2.8M751.2 1320.5l-2.5 -3.1M1106.2 1706.1l2.0 -0.1M1071.9 1471.1l0.5 2.9M1095.4 1487.5l-0.5 -1.4M803.9 1707.2l2.0 3.4M802.4 1714.1l-1.3 0.7M1142.4 1441.2l-0.5 1.4M971.8 1700.0l-0.4 -3.0M969.4 1682.7l-1.4 -0.6M809.4 1492.7l0.7 0.7M773.1 1512.7l-0.0 0.0M917.8 1489.9l0.6 0.8M766.0 1469.8l0.6 4.0M1128.3 1500.6l-0.8 0.6M793.9 1588.0l-1.5 -1.3M1064.0 1438.5l-0.0 -0.0M922.8 1548.4l-0.8 1.2M921.7 1557.1l-0.3 3.0M1082.3 1548.3l0.0 0.0M819.0 1329.4l0.1 -2.0M816.5 1684.7l-0.0 0.0M938.6 1444.8l0.0 0.0M825.0 1471.6l2.0 0.3M842.4 1649.1l-2.6 3.1M983.6 1632.3l0.0 -0.0M1141.1 1658.5l-2.6 1.6M1046.0 1683.2l2.1 -2.1M1050.8 1681.9l1.5 -0.1M797.4 1543.1l-0.5 -3.0M831.2 1659.1l0.0 -0.0M947.5 1502.9l0.6 2.9M757.0 1538.7l1.4 -0.5M999.4 1451.9l-2.0 -0.3M1144.2 1548.0l1.9 -0.6M807.5 1641.7l-1.5 1.4M980.6 1497.3l1.1 2.8M1093.5 1557.9l0.8 -1.2M974.8 1389.6l0.0 -0.0M975.7 1386.8l0.6 -1.9M912.5 1619.0l2.2 3.3M756.8 1517.9l-0.9 -0.3M942.7 1449.4l-1.0 0.3M952.0 1673.1l-0.0 0.0M1115.6 1609.2l0.8 -1.8M967.5 1654.6l3.9 -0.8M905.3 1585.3l1.0 1.1M999.5 1324.0l-1.1 -1.7M892.2 1610.8l1.5 2.6M1163.0 1428.1l0.6 -0.8M834.7 1586.9l0.1 -3.0M841.4 1361.8l-2.5 -1.6M862.5 1446.9l-0.6 -4.0M840.8 1622.2l0.7 -0.7M1054.5 1498.6l-0.0 -0.0M951.4 1482.8l-0.3 1.0M994.6 1683.3l1.8 -0.9M912.1 1690.9l-0.0 -0.0M972.7 1510.0l-0.3 -1.5M960.8 1588.9l0.0 -0.0M972.5 1432.4l-0.0 0.0M1001.2 1694.2l1.1 -1.0M960.9 1467.6l0.8 2.9M1034.7 1470.7l1.9 0.6M966.2 1516.2l-0.0 0.0M776.3 1331.6l0.2 1.0M779.3 1346.5l-0.0 0.0M1075.0 1377.2l-1.1 1.6M1037.4 1621.8l-0.8 -1.3M1010.0 1423.0l2.4 1.8M878.3 1458.7l1.7 1.0M991.1 1522.9l-0.2 3.0M1001.9 1595.3l-0.0 -0.0M899.6 1716.3l3.9 -0.9M800.4 1645.3l-0.2 -1.0"/><path stroke="#484848" stroke-width="2" d="M1147.5 1453.6l2.0 -2.2M926.4 1387.4l0.0 0.0M893.3 1596.5l2.1 2.2M1148.2 1692.2l0.0 -0.0M828.7 1605.2l0.0 0.0M1097.9 1704.8l0.0 0.0M1059.4 1536.2l0.0 -0.0M964.6 1658.4l0.0 -0.0M878.3 1429.0l-0.0 -0.0M807.0 1520.7l-0.5 -1.4M816.7 1499.7l0.0 -0.0M1030.3 1608.5l-2.2 -2.0M899.1 1449.3l-0.0 -0.0M860.6 1483.5l-2.7 -1.2M910.7 1589.6l2.1 -2.1M1085.6 1334.6l0.8 0.6M1097.6 1338.3l0.0 0.0M1139.4 1508.0l-0.3 -0.9M850.3 1622.5l1.4 0.6M1001.4 1660.3l2.1 2.1M1029.2 1333.0l-0.0 0.0M954.6 1496.3l0.0 0.0M845.4 1655.8l3.8 1.3M989.6 1428.3l-0.8 -0.6M1159.6 1414.8l0.0 0.0M1108.3 1631.3l-0.7 -3.9M820.9 1581.5l2.4 -1.8M1014.1 1404.1l-1.5 3.7M827.3 1614.2l-2.7 -2.9M940.1 1389.9l-0.2 1.5M959.5 1477.9l0.0 0.0M1047.4 1542.5l2.0 0.2M879.5 1706.4l-1.9 -0.7M873.7 1705.3l-0.0 -0.0M803.6 1637.7l-0.0 -0.0M1023.7 1496.0l0.0 0.0M883.3 1432.4l-3.6 -1.8M1107.8 1697.3l-0.8 -1.8M1093.7 1482.7l-1.3 -3.8M917.4 1389.9l-0.0 0.0M908.4 1430.8l-0.0 0.0M1015.8 1584.0l-1.0 -2.8M1128.0 1500.5l-1.0 0.0M1121.3 1500.7l-0.0 0.0M1137.6 1347.9l0.0 0.0M1126.6 1410.3l0.8 1.8M844.5 1380.7l1.5 -1.3M957.3 1393.5l0.0 -0.0M1053.3 1604.0l-0.2 4.0M922.1 1553.2l-0.0 0.0M1012.6 1518.0l0.1 -1.5M852.0 1408.1l-0.0 0.0M992.8 1488.2l1.8 -0.9M1129.7 1621.4l-0.4 -0.9M1041.8 1686.1l3.0 -0.5M1019.9 1560.0l3.9 1.1M876.4 1369.8l2.1 -2.2M1089.1 1396.4l-2.7 -3.0M776.5 1677.3l-0.0 -0.0M803.4 1409.8l-0.7 -1.9M755.8 1547.4l0.9 -0.5M919.2 1432.8l-0.6 -1.9M1129.5 1685.7l-0.0 -0.0M811.9 1595.1l2.0 0.1M842.8 1383.3l0.0 -0.0M855.4 1385.4l2.0 0.4M1035.9 1486.8l0.7 2.9M851.7 1454.7l0.0 -0.0M1153.7 1511.0l0.2 -1.0M965.0 1347.7l-1.9 2.3M943.0 1678.1l-0.0 -0.0M1039.6 1370.6l-0.0 0.0M1000.6 1681.0l0.0 -0.0M962.6 1565.8l0.8 0.6M785.4 1454.7l-2.3 3.3M950.5 1674.3l-0.1 1.0M1118.1 1584.5l-1.1 1.7M881.9 1659.6l4.0 -0.2M906.5 1434.3l0.0 -0.0M881.1 1472.7l-1.1 3.8M1103.9 1691.9l-2.6 3.0M1074.2 1439.3l-1.1 1.0M999.3 1456.4l0.9 0.5"/><path stroke="#484848" stroke-width="3" d="M929.0 1486.2l-2.0 0.3M949.5 1572.5l3.9 -0.8M1150.6 1574.0l-2.0 -0.3M1147.1 1569.6l-0.5 -0.9M960.9 1505.1l0.0 -0.0M969.1 1504.5l0.9 0.5M1044.8 1430.4l-1.0 -0.3M825.4 1668.5l-0.0 -0.0M999.3 1580.5l-2.7 -1.2M1125.4 1469.0l-0.1 1.0M1120.4 1476.8l-3.5 2.0M1061.3 1534.1l2.7 -2.9M760.8 1555.1l0.0 0.0M764.7 1553.6l0.0 -0.0M1151.3 1588.7l-0.1 2.0M1102.1 1351.3l0.1 3.0M870.9 1593.9l-3.2 2.3M1061.0 1334.6l-1.2 0.9M885.6 1683.5l3.4 -2.1M1047.1 1497.9l3.0 -0.4M840.1 1633.8l-0.4 -0.9M796.1 1391.2l-0.0 0.0M798.0 1395.8l0.0 0.0M1153.9 1554.6l0.8 0.6M971.0 1367.8l-0.7 0.8M1111.4 1368.4l-0.0 -0.0M967.0 1698.2l-1.4 -0.6M1014.0 1548.1l-1.3 -0.7M1025.8 1515.0l0.0 -0.0M1032.0 1611.4l-0.3 -3.0M886.8 1403.7l-4.0 0.2M881.7 1580.7l-2.2 2.0M1076.3 1385.0l1.0 0.1M1083.3 1402.4l0.0 -0.0M765.6 1660.1l-1.8 -2.4M776.3 1617.5l-3.1 -2.5M897.5 1497.1l0.0 0.0M919.6 1539.4l3.0 -0.4M1070.9 1580.9l-0.9 1.8M1076.8 1586.6l0.9 0.4M1082.6 1378.3l1.5 -0.2M840.8 1653.7l-2.8 -1.2M1091.9 1334.9l0.0 0.0M779.0 1675.0l-0.0 0.0M922.2 1363.0l0.7 -0.7M926.0 1702.9l-2.2 -3.4M1043.0 1606.2l1.5 0.1M1045.0 1607.6l2.7 3.0M855.2 1685.4l-0.0 0.0M914.1 1713.5l-1.2 0.9M858.5 1706.7l0.9 1.8M947.7 1495.7l0.8 0.6M878.1 1474.1l2.2 -2.1M958.4 1475.0l1.4 0.5M843.0 1654.7l1.0 1.1M1074.2 1682.0l-1.1 -2.8M862.9 1412.1l0.0 0.0M935.5 1459.5l0.1 -2.0M904.2 1376.3l-0.2 -3.0M909.9 1488.9l-0.9 -0.3M908.8 1479.4l0.3 -2.0M1109.7 1635.6l-1.4 -0.6M1152.7 1498.9l0.0 0.0M1144.4 1461.4l0.0 -1.0M945.3 1380.1l-0.9 1.2M793.7 1463.0l1.3 0.7M1051.0 1425.1l0.0 -0.0M771.4 1693.2l-0.5 -4.0M1110.2 1676.0l1.1 1.0M968.5 1584.4l2.3 3.3M1090.5 1458.0l1.3 -1.5M1123.1 1574.7l-1.2 -3.8M1129.0 1646.5l-0.0 0.0M1119.0 1663.4l3.0 0.4M761.4 1324.8l-3.2 -2.4M753.9 1323.9l-0.0 0.0M1069.4 1703.6l-0.0 -0.0M1049.7 1469.5l0.5 -1.4M958.1 1684.0l-0.0 -0.0M969.2 1580.9l0.1 1.0M785.8 1350.4l-0.7 2.9M759.9 1647.2l3.0 0.1M1116.5 1322.9l-0.0 -0.0M954.8 1561.7l0.0 -0.0M1012.3 1684.6l-0.0 -0.0M977.3 1433.5l0.0 -0.0M887.6 1522.6l-2.3 -1.9M1047.7 1628.4l-0.5 3.0M1055.9 1657.3l-0.0 0.0M996.1 1475.7l0.0 -0.0M1080.9 1717.0l-2.8 1.2M764.8 1663.8l3.6 1.7M830.5 1637.6l1.4 0.5M1047.9 1607.7l-1.4 0.4M1097.2 1331.3l-0.2 1.0M1073.6 1330.6l1.0 -1.2M1060.5 1428.4l-1.2 -0.9M856.9 1616.9l3.1 -2.5M862.2 1398.7l1.7 -1.1M1151.7 1585.2l1.5 3.7M843.5 1411.4l-2.0 2.2M1136.7 1660.2l-1.9 0.6M1132.0 1660.7l-2.0 0.1M1126.9 1632.7l3.9 1.1M829.3 1486.4l-2.1 -3.4M793.8 1553.5l-3.3 2.2M832.2 1509.9l-0.1 -4.0M963.0 1459.5l-2.0 -0.2M1048.2 1718.9l-0.3 0.9M1092.3 1664.6l0.0 0.0M1040.6 1549.3l-1.0 0.1M765.7 1462.1l0.8 -0.6M786.2 1432.6l-0.0 0.0M1005.1 1452.6l-0.0 0.0M1084.7 1560.3l0.0 0.0M941.7 1420.9l0.0 -0.0M997.8 1538.5l-1.9 0.5M951.5 1558.3l3.9 -0.8M910.6 1616.2l0.0 0.0M1088.0 1538.6l-0.9 2.9M1145.0 1455.0l-0.0 -0.0M1144.5 1453.0l-0.6 -2.9M1011.9 1473.0l-1.1 2.8M765.1 1691.8l0.5 -1.9M904.3 1368.6l-0.6 -0.8M768.0 1521.9l-0.0 -0.0M1152.6 1375.6l0.0 0.0M863.4 1689.0l1.8 -2.4M902.6 1546.1l-1.6 2.5M953.7 1668.9l0.0 0.0M996.8 1313.8l0.0 -0.0M990.5 1602.2l-3.0 -0.2M995.3 1510.9l-1.4 -0.6M1086.3 1531.7l0.3 4.0M904.2 1400.6l0.1 1.5M1018.6 1520.1l-0.1 -1.0M838.4 1464.9l0.9 -1.2M973.1 1542.2l0.8 1.3M907.8 1400.4l-2.3 3.2M838.0 1599.1l-2.0 -0.1M1087.2 1599.3l0.0 -4.0M1142.9 1464.5l-0.9 1.8M1140.6 1468.8l-0.0 0.0M979.7 1420.9l-0.6 -0.8M1040.8 1449.3l0.6 2.9M1048.3 1453.9l3.0 -0.3M975.0 1571.4l-0.1 -1.0M1084.9 1387.2l0.0 0.0M1119.0 1698.1l-0.0 -0.0M1048.1 1575.8l0.0 -0.0M961.6 1594.4l-1.8 -0.9M1111.6 1387.0l0.0 -0.0M1044.2 1490.9l3.6 1.7M997.2 1696.8l1.9 0.6M801.1 1524.3l3.8 -1.3M1084.1 1627.9l1.8 -3.6M1125.4 1563.8l-1.5 0.3M1061.9 1401.9l-0.8 -1.8M1098.3 1691.9l0.0 0.0M871.7 1671.9l2.1 2.2M1067.0 1509.4l0.0 1.0M904.8 1428.4l-0.0 -0.0M1003.8 1415.4l0.9 0.5M1006.4 1419.9l0.7 1.3M957.4 1346.2l0.0 0.0M986.8 1629.8l1.4 0.6M790.1 1605.9l0.0 0.0M982.3 1615.5l0.9 -0.5"/><path stroke="#585858" stroke-width="2" d="M958.3 1328.1l-0.5 -4.0M874.0 1677.6l1.0 -3.9M1155.2 1591.8l0.9 0.5M1016.2 1398.3l1.6 -1.2M888.0 1651.0l0.3 3.0M886.2 1653.9l-3.2 2.4M1051.2 1503.2l0.0 0.0M1012.2 1534.0l2.0 0.1M1093.8 1611.4l0.0 0.0M895.5 1403.4l-1.8 -0.9M1070.7 1467.4l1.8 2.4M762.9 1653.4l-0.6 -1.9M864.4 1484.5l-1.2 0.9M980.3 1412.4l1.8 0.8M995.2 1590.5l0.9 -1.2M905.5 1596.2l0.0 -0.0M885.5 1556.8l1.3 -0.7M889.3 1557.0l3.9 0.7M1037.1 1360.6l1.5 -0.3M854.4 1603.8l0.0 0.0M1102.7 1541.9l-1.1 1.0M835.0 1545.5l-0.4 -4.0M885.2 1448.7l2.0 -0.3M972.9 1627.9l-0.0 -0.0M790.4 1562.5l0.0 0.0M994.3 1437.8l1.1 -1.7M977.5 1454.7l-1.8 -1.0M905.4 1371.8l0.8 -1.8M1141.1 1495.7l2.5 1.7M879.9 1678.9l-0.1 1.0M821.6 1365.8l-3.9 -1.0M771.6 1674.3l0.4 4.0M1021.9 1489.9l2.3 1.9M925.3 1397.0l-0.0 -0.0M787.7 1493.1l1.6 -2.6M945.0 1544.5l-0.7 1.3M904.1 1708.7l0.0 -0.0M973.9 1439.5l0.0 -0.0M885.1 1520.5l-3.1 -2.5M984.6 1327.5l-2.5 3.1M904.0 1431.0l-0.0 0.0M1013.6 1580.1l-1.7 -2.5M807.9 1510.6l1.5 0.2M1102.8 1426.3l0.0 0.0M1010.9 1521.6l2.9 -0.9M1128.4 1459.6l-2.8 1.1M938.7 1696.3l-0.0 -0.0M909.3 1698.7l-0.0 -0.0M819.2 1680.9l-0.0 0.0M854.3 1618.9l1.3 -0.7M858.7 1610.8l0.0 -0.0M832.8 1464.9l0.8 -1.8M1128.6 1631.3l0.0 -0.0M989.2 1389.1l-0.4 2.0M1144.7 1644.9l0.0 -0.0M960.8 1672.6l-1.4 1.4M834.2 1613.2l-1.0 -0.1M770.0 1608.3l0.0 -0.0M931.5 1489.8l0.0 -0.0M955.6 1553.0l0.0 -0.0M925.1 1701.5l0.4 -3.0M929.4 1343.1l0.9 -1.2M1093.1 1536.1l2.9 -0.9M915.9 1433.1l1.3 -0.7M1136.2 1684.9l-2.4 3.2M903.9 1582.4l0.1 -2.0M964.3 1655.4l0.9 -0.3M816.4 1596.5l0.0 0.0M1142.1 1405.8l1.3 0.8M1151.5 1432.8l3.0 0.2M802.7 1353.1l-0.5 -1.4M1142.3 1423.1l-1.6 -1.2M1005.0 1640.3l4.0 -0.4M1014.1 1642.1l0.0 0.0M856.5 1660.2l-0.6 -1.4M1087.1 1601.6l0.0 -0.0M1042.2 1452.7l2.0 3.4M825.3 1494.8l-1.0 1.1M801.9 1643.6l0.0 -0.0M1146.6 1432.2l-0.0 -1.0M777.8 1665.3l0.0 -0.0M1071.4 1378.2l-1.5 0.1M1050.5 1479.6l1.8 -0.9M791.9 1352.7l2.4 3.2M801.4 1357.6l1.0 0.2M837.4 1340.7l-0.5 3.0M1135.0 1582.0l0.1 -1.5"/><path stroke="#585858" stroke-width="3" d="M1142.8 1456.0l3.9 1.0M945.9 1573.3l0.0 0.0M1147.5 1566.1l0.2 -1.0M1072.3 1434.0l3.8 1.2M1079.2 1443.8l1.1 1.1M1086.2 1622.1l-1.6 1.2M1048.2 1431.4l-0.0 0.0M958.8 1332.0l0.0 -0.0M823.7 1667.4l-2.5 -1.6M797.0 1598.0l2.4 1.8M945.6 1406.1l-0.7 0.7M874.6 1591.2l-0.0 0.0M1007.2 1641.3l-2.7 -1.4M1049.1 1446.4l-0.0 -0.0M1054.2 1505.1l0.0 0.0M808.3 1502.1l0.0 0.0M1135.7 1630.2l-1.5 0.1M975.1 1363.1l-0.0 0.0M1131.1 1489.9l0.0 -0.0M1033.9 1520.8l0.0 0.0M870.4 1426.3l-0.0 0.0M1072.1 1453.2l-0.3 -1.5M968.3 1671.5l0.0 -0.0M999.4 1396.8l0.0 0.0M985.8 1487.8l-0.0 0.0M985.1 1521.8l-1.6 3.7M1001.3 1582.9l0.8 -1.8M1073.3 1584.7l0.7 0.7M987.4 1475.8l-0.0 -0.0M968.5 1617.6l0.9 -0.5M872.1 1719.2l0.0 0.0M1039.4 1359.1l3.0 -2.7M1044.8 1357.3l3.0 -0.3M832.0 1360.8l-1.0 1.1M1046.8 1469.2l-0.5 0.9M861.5 1628.7l0.0 0.0M969.6 1518.5l1.3 -0.8M855.2 1695.8l-0.8 0.7M855.8 1700.7l0.7 2.9M1033.7 1329.3l-3.8 1.3M1057.5 1701.3l-0.0 -0.0M837.8 1540.6l0.0 -0.0M888.7 1410.4l-2.8 -1.1M887.4 1405.6l0.0 -0.0M973.9 1446.9l-0.0 -0.0M826.0 1432.1l-2.6 1.5M1109.2 1624.7l1.0 -3.9M991.4 1661.5l-0.0 -0.0M1147.6 1497.3l3.0 0.4M1054.7 1423.3l0.0 0.0M982.0 1636.4l0.7 0.7M947.2 1376.1l1.0 1.7M940.9 1384.7l-0.0 0.0M870.0 1698.2l1.7 -1.1M810.3 1358.6l-0.5 -0.9M789.9 1461.1l0.0 -0.0M932.2 1626.6l0.0 -0.0M1068.6 1507.7l-0.0 0.0M1100.0 1372.7l-1.7 1.0M1026.2 1641.2l0.2 -1.0M1108.9 1700.5l0.3 -1.0M964.6 1441.5l1.4 0.5M774.2 1363.9l-0.7 1.3M1144.4 1435.7l-0.3 1.0M1139.8 1444.8l-1.9 2.3M1136.9 1449.8l-1.3 2.7M1099.4 1417.9l2.0 -0.1M771.3 1711.7l0.0 2.0M759.8 1598.6l2.2 -2.1M957.4 1557.5l0.0 -0.0M997.2 1385.5l-0.5 -0.8M874.6 1361.1l1.2 0.9M793.6 1594.8l-0.1 -1.5M1124.6 1405.7l1.3 2.7M836.8 1641.4l1.4 1.4M849.0 1381.5l0.0 0.0M850.1 1386.5l0.0 0.0M951.8 1395.0l2.9 -2.8M1085.4 1330.6l0.0 0.0M921.5 1562.0l-0.0 1.0M810.3 1345.4l0.0 -0.0M814.1 1344.8l1.5 -0.2M903.4 1696.7l-1.4 -0.5M1123.0 1496.1l1.5 -0.2M844.2 1646.5l-0.1 1.0M847.6 1408.8l-4.0 0.6M995.5 1481.2l0.0 -0.0M1123.0 1631.4l1.2 0.9M1131.5 1638.4l0.0 0.0M1131.3 1627.2l0.8 -1.2M826.8 1480.3l-0.0 -0.0M876.1 1471.0l-1.5 -1.4M871.9 1470.7l-1.0 0.1M1036.4 1549.5l-3.0 0.1M763.3 1611.7l1.4 -0.5M879.0 1564.6l-2.3 3.2M981.9 1576.0l-0.9 0.3M973.1 1578.9l-1.0 0.2M1089.8 1400.0l2.2 -3.4M798.3 1405.4l-0.0 -0.0M760.1 1548.6l0.0 0.0M919.5 1693.6l-1.0 -0.3M933.3 1534.5l-1.2 -0.9M918.5 1565.2l-0.3 -1.0M806.0 1600.8l0.0 1.5M874.5 1639.9l-1.5 0.1M1118.2 1373.8l-1.1 -1.0M762.8 1520.1l-0.0 -0.0M921.7 1436.1l0.8 0.5M938.7 1453.0l-1.5 1.4M1096.0 1538.1l-0.0 0.0M936.0 1436.8l1.8 -0.8M944.2 1443.4l3.8 1.4M910.8 1364.6l-0.8 -1.3M911.5 1359.9l1.0 -3.9M905.5 1581.1l-0.0 -0.0M861.1 1535.1l2.5 1.7M901.7 1473.5l2.7 1.4M955.5 1562.4l-1.1 -1.7M820.4 1595.8l0.0 -0.0M1071.9 1670.0l-1.6 2.6M889.7 1606.6l-0.0 0.0M905.6 1540.6l3.0 -2.6M909.7 1530.1l1.0 -1.1M844.1 1363.3l-1.9 -0.7M1034.8 1482.3l0.0 0.0M878.0 1650.7l0.0 0.0M953.5 1475.6l-1.2 2.8M959.0 1351.1l-1.8 0.8M876.8 1590.0l1.9 -0.6M963.8 1366.8l0.0 -0.0M913.2 1686.4l0.0 -0.0M964.3 1595.7l-0.0 -0.0M1086.0 1616.5l-1.3 0.7M1114.1 1380.1l0.0 -0.0M1062.6 1658.3l2.4 -1.8M1053.6 1405.7l-2.7 -3.0M1065.8 1688.7l1.3 1.5M942.1 1603.8l0.8 3.9M1108.4 1454.3l0.0 -0.0M1101.6 1719.6l2.0 0.4M1066.6 1391.9l0.7 -1.3M1055.4 1474.8l1.0 -1.1M1054.9 1469.1l-0.0 -0.0M1028.0 1619.2l-1.0 0.0M883.4 1463.2l1.4 1.4M978.1 1629.8l1.5 0.3M893.8 1591.0l-2.9 0.8M1070.0 1441.0l-1.9 0.6M795.9 1643.1l-2.8 -1.1M1085.9 1329.6l0.0 0.0"/><path stroke="#686868" stroke-width="2" d="M757.5 1319.9l-3.3 -2.3M773.2 1600.9l1.0 -0.1M1143.3 1693.2l0.0 -0.0M886.3 1424.1l0.5 -0.9M1149.1 1466.9l0.0 -0.0M1104.0 1703.9l1.0 -0.1M962.0 1701.2l-1.6 1.2M956.9 1704.0l-1.8 0.9M1008.8 1553.3l-0.2 4.0M1031.4 1514.5l0.0 -0.0M1152.1 1602.4l0.0 -0.0M1076.4 1523.2l0.0 -0.0M1097.6 1401.8l1.0 -0.2M773.7 1676.2l-0.0 0.0M922.4 1696.6l-0.0 -0.0M893.3 1557.0l3.0 -0.5M1106.3 1341.0l0.0 0.0M947.4 1695.0l0.0 -0.0M1006.8 1694.5l0.5 0.9M847.4 1498.1l2.6 1.6M841.0 1562.2l-1.9 0.7M954.8 1682.1l-0.7 0.7M901.2 1439.4l0.0 0.0M981.6 1457.0l-0.0 -0.0M1113.5 1621.6l3.8 -1.1M991.0 1654.0l0.6 -1.4M996.5 1652.4l1.5 -0.2M1035.6 1709.8l-0.0 -0.0M770.0 1641.6l0.5 3.0M1059.3 1421.1l0.0 -0.0M813.0 1363.5l-0.0 -0.0M1072.1 1338.5l0.4 -2.0M1102.6 1579.7l0.0 0.0M1106.5 1580.7l1.9 0.5M1071.1 1459.9l-0.3 -1.5M1125.1 1620.9l-1.6 -1.2M1124.6 1616.9l0.2 -1.5M928.9 1401.2l-0.0 0.0M854.2 1470.4l-1.6 -2.5M853.2 1463.7l-0.0 -0.0M1048.8 1464.4l-0.5 -1.9M886.5 1652.4l3.0 0.4M1035.2 1370.5l-3.9 -0.6M980.8 1600.1l0.0 0.0M953.4 1680.4l-1.2 -0.9M867.5 1625.9l1.1 1.7M948.3 1562.4l1.2 1.6M999.9 1388.6l-1.5 0.1M821.2 1512.0l-0.4 -0.9M959.3 1337.0l-0.8 1.3M862.8 1581.1l-0.6 3.9M863.3 1356.1l1.3 1.5M991.5 1482.5l-1.2 -0.9M803.2 1510.1l2.0 -0.1M794.9 1582.6l1.1 -2.8M962.2 1625.9l-0.0 -0.0M819.0 1627.9l-1.5 -0.2M1124.9 1497.2l2.7 3.0M995.5 1628.2l0.0 -0.0M1133.4 1710.7l-2.2 -2.1M1102.8 1703.4l-1.3 -0.7M1100.4 1698.8l-0.4 -0.9M1139.4 1646.2l0.0 -0.0M955.8 1677.8l-0.0 0.0M1086.7 1662.3l0.9 -0.5M755.7 1404.8l-0.3 -4.0M992.1 1385.3l-0.0 0.0M972.1 1687.3l-0.0 -0.0M958.8 1549.6l0.7 -0.7M961.4 1392.1l1.2 2.8M1063.2 1664.8l-0.5 1.4M814.6 1366.1l-1.3 -0.8M940.7 1438.0l1.9 0.8M1037.3 1492.0l0.0 -0.0M1084.4 1526.1l0.5 1.4M1084.7 1530.9l0.1 4.0M850.8 1383.6l3.1 2.5M1137.9 1402.6l1.1 1.7M1147.0 1409.0l1.7 1.1M1099.4 1689.5l0.0 -0.0M861.8 1456.2l-0.8 -1.3M903.6 1655.3l-0.0 -0.0M1142.8 1417.1l0.4 -1.5M843.3 1461.6l0.8 -0.5M1000.5 1640.8l0.0 0.0M840.5 1616.7l-0.0 -0.0M1054.8 1505.1l0.0 -0.0M899.0 1410.9l-1.3 -1.5M871.2 1561.8l0.0 -0.0M880.7 1593.4l0.0 0.0M1153.7 1565.7l0.6 1.4M999.9 1614.9l-0.7 1.3M1039.8 1488.2l0.0 1.0M1038.8 1632.5l-0.0 0.0M799.0 1557.4l-0.6 1.4M845.1 1450.9l1.7 -2.5M905.5 1715.8l1.5 0.0M1039.6 1655.6l2.6 1.4M995.1 1442.6l0.0 -0.0M1081.9 1325.4l1.7 1.0"/><path stroke="#686868" stroke-width="3" d="M761.7 1322.9l-1.1 -1.0M950.7 1319.3l0.2 -1.0M1138.2 1409.2l-0.0 -0.0M762.6 1645.9l-1.7 -3.6M826.9 1601.0l-0.5 0.9M1058.1 1427.0l2.3 1.9M1066.2 1387.7l-1.3 0.7M855.0 1459.2l-0.0 -0.0M943.0 1393.6l2.9 0.7M1056.0 1335.3l-1.5 0.1M1143.0 1608.6l-0.0 0.0M1013.8 1400.0l0.0 -0.0M1098.7 1648.0l-2.0 2.2M1097.9 1652.4l0.2 2.0M890.5 1681.8l1.5 -0.3M893.1 1672.4l-1.1 -3.8M1046.5 1442.7l-1.7 -2.5M936.7 1664.1l-0.0 0.0M1090.3 1616.5l-0.0 0.0M1094.3 1691.7l0.5 0.9M1034.9 1339.0l-3.0 0.0M1028.1 1339.9l-2.0 0.3M857.6 1459.8l-1.0 -1.2M1010.4 1548.9l-2.8 1.1M821.1 1352.1l0.5 -0.9M1073.9 1457.9l-1.5 -0.3M910.8 1354.6l-0.0 -1.0M1061.4 1465.5l2.4 -3.2M1067.4 1464.0l1.5 0.0M854.7 1486.2l-1.2 0.9M858.4 1481.6l-1.0 -1.2M868.8 1699.5l0.8 -0.6M944.6 1610.9l-0.5 -0.9M877.7 1400.2l1.3 -0.7M828.9 1361.4l-3.0 -0.0M1046.7 1474.6l0.0 0.0M989.9 1379.8l-0.7 2.9M852.9 1367.4l1.5 -1.3M857.1 1362.9l0.0 -0.0M1125.9 1554.6l0.0 -0.0M943.9 1697.7l-0.0 -0.0M960.6 1494.2l0.0 -0.0M888.1 1445.1l0.0 -0.0M952.8 1472.9l1.3 0.7M971.6 1626.3l-2.5 -3.2M886.5 1401.2l-0.2 -1.0M1110.6 1490.1l-3.0 2.6M1078.6 1717.1l-0.0 -0.0M903.5 1379.2l1.7 -1.0M803.7 1421.0l0.3 1.0M821.0 1377.2l1.0 -3.9M816.5 1586.5l0.7 -3.9M991.0 1600.1l-0.4 -1.5M1026.9 1385.6l1.0 1.2M1014.6 1399.1l2.1 2.1M1006.9 1407.0l-0.0 0.0M1052.2 1531.8l-1.4 -1.4M947.5 1337.9l1.4 3.7M946.9 1343.8l-0.9 2.8M877.4 1682.1l-2.6 3.0M985.7 1640.3l0.7 0.7M1068.3 1333.1l-0.0 -0.0M1124.0 1567.0l0.0 -0.0M1128.3 1564.4l2.6 -1.6M1129.7 1559.2l0.0 -0.0M842.2 1534.4l0.1 -1.0M934.6 1400.8l-0.5 -0.8M884.8 1433.2l-0.0 0.0M951.8 1437.8l3.9 1.0M770.3 1611.3l2.1 2.1M934.8 1540.8l-0.0 -0.0M1014.8 1677.4l0.5 -4.0M922.4 1397.8l-0.8 -1.8M914.0 1485.0l0.8 1.8M823.3 1517.8l-0.1 -2.0M768.5 1474.8l0.6 0.8M1118.7 1502.2l-1.7 1.0M928.4 1547.7l-0.0 -0.0M1074.1 1721.2l-0.8 0.6M834.0 1639.0l1.4 0.5M840.8 1385.2l-0.5 -1.9M1080.6 1328.5l0.0 -0.0M1105.8 1430.9l0.6 0.8M1110.8 1434.3l0.8 0.5M1025.8 1374.5l-0.5 0.8M1133.1 1404.3l-0.6 0.8M859.3 1400.7l1.5 -1.3M865.0 1446.8l0.2 -3.0M819.0 1471.1l0.7 -0.7M1124.7 1504.2l-0.3 1.0M844.5 1641.5l-0.0 0.0M988.1 1630.5l1.9 -0.7M1105.8 1704.9l-0.0 0.0M967.3 1459.1l-1.3 1.5M959.3 1455.7l-1.8 -2.4M880.5 1442.7l-0.0 -0.0M1080.0 1668.1l-0.0 -0.0M840.8 1613.3l-1.3 0.8M825.7 1605.8l-0.7 -0.7M760.1 1701.2l-0.9 3.9M880.6 1561.8l0.3 1.0M1147.9 1680.2l-2.1 2.2M1079.9 1554.7l0.4 0.9M754.0 1407.2l3.7 -1.6M919.4 1588.7l3.0 -2.6M979.8 1679.9l0.9 -0.5M808.3 1647.4l0.6 1.9M938.7 1426.2l0.4 -0.9M993.5 1540.4l-2.7 1.3M962.8 1549.2l3.0 -0.0M963.4 1398.3l0.3 1.0M968.4 1399.9l1.0 0.2M1065.0 1661.7l-1.4 0.5M1010.5 1478.0l-0.0 0.0M775.1 1636.1l0.0 -0.0M858.5 1342.1l-0.0 -0.0M1147.3 1372.6l0.0 0.0M1042.2 1401.1l-0.0 0.0M952.8 1675.7l0.6 1.9M1105.2 1538.5l-1.0 -0.2M1103.4 1537.2l-3.0 -2.7M942.0 1440.7l0.6 4.0M1126.1 1524.7l0.8 1.8M912.4 1367.0l0.0 -0.0M923.2 1382.7l-1.5 1.3M1040.1 1493.4l0.0 0.0M862.7 1449.6l0.3 -1.5M858.8 1441.2l-1.0 -1.1M903.1 1651.9l-0.3 -2.0M1053.3 1511.3l0.7 -1.3M955.5 1470.8l0.0 0.0M976.9 1547.3l1.2 1.6M928.4 1444.1l0.6 -0.8M907.6 1405.4l0.3 1.0M966.6 1569.7l0.0 0.0M1114.7 1695.2l-0.0 -0.0M1053.0 1572.0l0.0 -0.0M1092.0 1613.0l-3.2 2.4M1000.9 1621.9l-0.4 3.0M1112.5 1684.9l-1.3 -0.7M820.3 1493.5l-0.0 -0.0M1044.4 1368.2l1.7 1.1M953.1 1539.2l-3.0 0.2M767.8 1544.8l-0.0 -0.0M763.2 1540.1l-0.0 -0.0M902.8 1614.3l-0.0 0.0M1044.7 1551.1l-0.7 -2.9M1063.4 1398.0l0.8 -1.3M1023.9 1556.3l-1.1 3.8M873.3 1678.4l0.3 3.0M953.5 1367.5l-3.4 2.2M801.3 1550.8l-0.5 3.0M1066.9 1377.6l-2.0 -0.3M1063.5 1401.8l-2.8 -1.0M1033.6 1619.1l-0.0 -0.0M876.0 1508.8l-0.0 -0.0M796.5 1356.4l1.7 1.0M839.7 1346.7l1.5 2.6M993.9 1453.3l0.0 -0.0M1075.3 1329.6l-0.1 -4.0"/><path stroke="#787878" stroke-width="2" d="M1118.0 1691.8l-0.7 -0.7M1091.3 1703.0l1.4 0.6M1146.4 1686.4l1.1 1.0M765.1 1547.4l0.1 -1.0M875.7 1437.9l-0.0 -0.0M937.4 1667.2l0.3 1.5M951.5 1713.4l0.5 -0.9M996.9 1709.5l-0.4 4.0M860.3 1463.3l-0.3 -0.9M1072.5 1449.0l0.5 -3.0M903.3 1451.4l-0.0 -0.0M1089.6 1396.0l3.7 -1.6M985.8 1517.9l0.8 2.9M860.4 1538.1l-0.0 -0.0M1036.5 1605.6l1.0 -0.0M1050.6 1357.5l0.0 0.0M824.4 1362.6l-1.4 0.6M864.2 1505.7l0.0 -0.0M897.5 1452.8l-0.0 0.0M917.1 1453.5l0.0 0.0M941.7 1472.4l-1.0 -0.1M908.6 1485.3l-0.9 -3.9M754.2 1478.4l-1.0 1.1M992.1 1604.6l0.0 -0.0M1053.3 1346.7l-0.6 -1.4M1056.2 1342.9l1.4 -1.4M885.1 1712.4l0.0 -0.0M841.4 1538.7l0.7 -0.7M1064.2 1511.7l-0.8 0.7M777.5 1357.4l-0.9 2.9M933.1 1487.4l1.9 -0.6M784.5 1496.6l2.8 -1.2M970.7 1444.6l0.0 -0.0M809.9 1498.4l0.0 0.0M854.6 1576.8l0.0 -0.0M861.9 1578.3l2.4 1.8M794.5 1599.5l-1.5 -1.3M810.6 1507.1l0.9 -1.8M946.1 1354.6l-0.0 0.0M856.4 1404.6l-1.5 2.6M998.1 1476.3l0.9 -1.8M1129.4 1710.4l-1.0 0.3M989.4 1384.5l1.3 0.7M793.0 1537.2l-1.0 -1.1M1081.7 1665.8l1.8 -2.4M829.9 1610.0l-1.2 -0.9M950.3 1505.7l1.8 0.9M934.2 1491.2l0.9 0.5M871.9 1373.8l1.9 -0.5M1139.2 1551.6l-0.0 -4.0M998.6 1382.6l-0.8 0.7M1096.4 1531.1l-2.0 0.1M878.8 1565.5l-2.8 1.0M760.7 1347.2l-0.0 -0.0M908.0 1370.6l-3.9 1.0M987.8 1355.5l-1.1 3.8M960.0 1657.0l0.0 0.0M1022.7 1576.1l-1.8 3.6M1019.1 1583.0l-0.9 1.8M1124.2 1650.8l-0.6 -0.8M923.0 1386.0l0.9 3.9M1072.0 1683.6l-0.0 0.0M793.9 1339.0l-0.0 0.0M770.7 1508.1l-0.0 -0.0M932.2 1441.8l0.0 -0.0M941.5 1672.5l-0.5 -1.9M1142.3 1473.9l0.3 0.9M960.4 1585.7l-0.1 -1.0M1116.7 1687.2l-0.0 -0.0M797.8 1644.8l0.0 0.0M913.5 1477.6l0.3 -1.5M1045.4 1471.1l1.9 0.8M1104.4 1723.3l0.9 1.8M876.4 1659.5l1.8 0.8M1050.5 1465.6l-1.6 -1.2M882.7 1467.5l-1.1 2.8M1093.2 1366.7l0.9 2.9M1037.0 1591.6l3.3 -2.2M838.0 1337.1l0.0 0.0"/><path stroke="#787878" stroke-width="3" d="M1116.5 1687.5l-0.0 -0.0M1069.0 1433.0l0.0 0.0M1074.5 1437.5l0.4 4.0M882.8 1429.0l1.5 -0.0M963.7 1502.9l2.4 -1.9M1128.3 1648.8l1.1 -1.6M1152.2 1689.0l0.9 0.4M998.1 1399.6l0.0 0.0M1152.6 1582.6l-1.9 0.5M878.3 1434.0l2.2 -3.3M1140.5 1612.9l-1.0 1.7M896.2 1357.0l-3.1 -2.5M928.3 1354.5l-0.4 0.9M1045.1 1498.2l0.0 0.0M845.5 1668.5l2.2 2.1M1141.7 1630.2l-0.4 -0.9M1153.7 1599.8l2.1 -3.4M996.4 1393.6l0.0 0.0M1141.2 1328.1l0.8 0.6M1135.9 1376.3l-0.0 0.0M795.4 1599.4l1.2 -3.8M1141.1 1497.7l0.4 -0.9M1030.1 1605.4l0.9 0.5M1122.7 1608.3l2.0 -0.4M845.8 1620.7l1.5 0.1M786.6 1699.5l-0.3 -1.0M817.5 1447.8l0.2 -1.0M846.4 1695.7l-0.0 0.0M914.6 1718.1l1.1 3.9M971.5 1512.6l0.4 -1.5M1038.3 1326.0l-1.2 3.8M761.9 1420.6l3.1 2.5M886.8 1441.6l-1.1 -2.8M961.9 1479.1l0.9 1.2M895.3 1682.1l0.0 0.0M835.3 1654.6l-1.3 -0.8M833.3 1651.4l-1.3 -2.7M901.1 1444.2l-0.0 0.0M994.0 1431.5l-0.0 -0.0M954.9 1453.8l3.4 2.0M1156.3 1410.6l0.0 0.0M881.7 1502.9l-1.3 0.8M1075.3 1716.1l-1.4 -0.4M988.6 1383.1l0.3 -1.0M897.6 1382.6l1.3 -0.8M913.9 1477.1l2.9 -0.8M868.8 1532.3l0.0 0.0M757.9 1474.6l-0.0 0.0M1030.2 1386.0l1.5 -0.1M1011.1 1394.5l-0.3 2.0M1054.4 1420.8l0.0 -0.0M792.4 1621.0l0.7 0.7M774.4 1680.1l1.6 2.5M1126.3 1614.1l1.8 -2.4M1125.5 1609.0l-0.8 -1.8M923.9 1393.5l-1.5 -3.7M939.1 1341.0l-0.3 -1.5M959.5 1439.8l1.5 0.4M1097.0 1492.4l0.0 -0.0M879.9 1650.3l2.9 2.8M1030.0 1691.6l-0.5 0.8M1055.3 1487.6l-3.0 0.1M805.2 1711.8l0.1 1.5M779.8 1352.3l-1.5 0.1M770.7 1715.4l-0.9 3.9M765.5 1648.6l1.9 0.6M932.5 1537.2l-0.0 -0.0M1014.5 1679.6l0.0 -0.0M1006.9 1386.7l-2.5 3.1M827.7 1680.9l1.3 -1.5M771.7 1513.4l-3.6 1.8M766.1 1517.0l-0.8 0.6M880.7 1518.5l-1.9 -0.6M1043.4 1630.9l-0.0 0.0M766.9 1477.7l-1.8 2.4M1030.0 1590.4l0.1 -3.0M1137.0 1342.0l-0.9 1.8M797.7 1592.0l-0.2 -2.0M1043.9 1493.7l1.3 0.8M954.8 1626.0l-3.0 2.6M1064.4 1432.5l-1.6 -3.7M1008.2 1521.9l0.7 0.7M802.6 1339.0l-0.9 2.9M1139.1 1354.9l-0.0 0.0M856.1 1607.9l-0.7 -0.8M1125.8 1706.5l-0.0 -0.0M833.7 1492.1l0.8 -1.8M831.7 1489.1l-3.0 -2.6M827.8 1506.2l-1.4 -0.5M1002.2 1344.7l-0.0 0.0M867.0 1471.6l-2.9 0.6M1152.8 1337.0l0.6 0.8M956.4 1681.7l0.2 1.0M1152.9 1675.8l-2.7 1.3M1141.1 1681.4l-0.0 -0.0M975.1 1683.2l1.8 -2.4M979.2 1577.3l-2.7 1.4M978.7 1385.3l2.9 -0.6M766.9 1351.0l-0.5 -1.9M819.9 1370.4l-0.3 -2.0M784.8 1506.4l-3.7 1.6M903.7 1553.2l0.0 0.0M903.3 1557.8l-0.1 1.0M995.6 1318.9l-0.9 -1.2M881.9 1509.3l-0.1 3.0M1037.1 1499.0l-0.0 -0.0M847.6 1382.0l1.9 -0.5M1159.0 1432.2l1.0 -0.1M834.6 1590.2l-0.0 -0.0M906.7 1533.4l-0.0 -0.0M854.7 1649.1l-0.2 -3.0M841.2 1599.9l-0.9 -1.2M1039.4 1374.5l-0.2 4.0M1151.2 1569.1l-1.1 1.0M1110.1 1593.8l-3.4 2.2M970.0 1434.9l-2.1 2.1M1000.9 1619.0l0.5 1.4M954.8 1681.8l1.3 0.8M1099.8 1617.6l0.7 1.3M1104.2 1622.9l0.7 0.8M872.5 1588.8l1.5 -2.6M1005.6 1447.2l1.7 -3.6M957.6 1462.0l3.9 0.8M913.6 1469.1l2.3 -3.3M1050.0 1471.5l1.5 0.0M900.9 1619.1l-1.2 2.8M971.3 1510.9l0.2 3.0M1120.2 1562.7l-1.0 -0.3M890.0 1661.2l1.0 0.3M1044.9 1555.1l1.3 -1.5M1063.3 1406.2l0.4 -1.4M862.9 1476.5l-1.5 2.6M1068.5 1407.1l0.0 -0.0M1066.2 1403.1l-0.5 -0.9M905.3 1440.2l-2.1 -2.2M827.5 1709.1l1.5 -0.1M775.5 1606.4l4.0 0.5M846.8 1445.6l0.8 -3.9M960.2 1348.5l0.0 0.0M997.1 1526.8l0.0 0.0M789.2 1609.9l-0.6 2.9M1079.1 1324.5l1.2 -1.0"/></g>
</g>
<circle cx="796.0" cy="1361.1" r="25.0" fill="none" stroke="#fff" stroke-width="3.2"/>
<rect x="1168.0" y="1317.0" width="410.0" height="406.5" fill="url(#g3)"/>
<circle cx="1217.3" cy="1361.1" r="25.0" fill="none" stroke="#fff" stroke-width="3.2"/>
<g clip-path="url(#cp3)">
<rect x="1588.0" y="1317.0" width="408.0" height="406.5" fill="#a9a9a9"/>
<g fill="#9a9a9a" fill-opacity="0.35" filter="url(#bm)"><circle cx="1841" cy="1658" r="20"/><circle cx="1881" cy="1407" r="18"/><circle cx="1653" cy="1630" r="11"/><circle cx="1988" cy="1402" r="13"/><circle cx="1656" cy="1326" r="23"/><circle cx="1946" cy="1330" r="13"/><circle cx="1910" cy="1621" r="12"/><circle cx="1920" cy="1361" r="21"/><circle cx="1846" cy="1642" r="10"/><circle cx="1767" cy="1351" r="12"/><circle cx="1845" cy="1682" r="19"/><circle cx="1723" cy="1422" r="13"/><circle cx="1601" cy="1335" r="17"/><circle cx="1969" cy="1328" r="15"/><circle cx="1708" cy="1567" r="13"/><circle cx="1773" cy="1331" r="18"/><circle cx="1891" cy="1385" r="9"/><circle cx="1680" cy="1476" r="11"/></g>
<g filter="url(#bl)" fill="none" stroke="#e2e2e2" stroke-opacity="0.55" stroke-linecap="round"><path stroke-width="4" d="M1889.7 1425.7l-1.8 -0.8M1630.2 1470.1l-1.3 -1.5M1981.6 1468.5l-2.9 0.6M1983.9 1465.1l-0.5 1.4M1625.8 1386.4l-0.4 -0.9M1618.3 1382.5l-1.0 -0.2M1712.8 1529.2l-1.0 1.1M1642.0 1453.1l-0.2 -2.0M1779.4 1565.9l-2.6 1.4M1855.7 1661.2l-0.0 0.0M1935.0 1432.2l-0.2 4.0M1633.6 1642.9l-2.8 -2.8M1596.0 1524.6l0.4 2.0M1777.3 1354.6l0.5 -0.9M1987.7 1566.7l2.0 -0.2M1859.4 1593.2l3.0 0.1M1746.8 1436.4l1.3 1.6M1610.3 1494.1l0.0 0.0M1688.0 1484.0l-0.5 4.0M1889.9 1332.7l0.0 0.0M1911.4 1660.0l-1.0 -0.1M1848.5 1719.4l-0.8 0.6M1611.8 1497.4l-2.9 -2.8M1887.9 1566.4l-1.0 0.1M1598.4 1593.6l0.0 -0.0M1871.5 1400.1l-0.3 -1.0M1657.8 1432.7l0.7 1.3M1667.7 1391.8l1.3 0.7M1939.6 1631.1l-0.4 -0.9M1869.2 1719.2l1.0 0.2M1873.3 1714.0l0.0 -0.0M1874.8 1330.5l0.0 -0.0M1730.6 1569.0l-1.3 1.5M1778.2 1659.7l-2.1 -3.4M1855.5 1518.0l-0.0 2.0M1809.4 1421.1l0.5 -3.0M1879.8 1522.8l0.8 2.9M1763.8 1503.1l-0.0 0.0M1973.1 1337.0l-1.8 2.4"/><path stroke-width="5" d="M1889.0 1426.0l0.0 0.0M1592.7 1592.8l1.0 1.7M1884.4 1565.1l0.4 -0.9M1894.5 1572.5l-1.8 -2.4M1808.3 1636.3l-0.7 3.9M1784.5 1421.4l0.8 -0.5M1789.6 1420.5l1.0 -0.2M1812.6 1604.2l-1.0 -3.9M1965.7 1373.6l-2.7 3.0M1843.7 1585.9l-2.9 -2.8M1836.6 1334.6l3.8 -1.2M1737.8 1327.4l0.9 0.4M1846.8 1548.2l1.6 2.5M1846.2 1552.4l-0.0 0.0M1846.7 1346.3l0.0 0.0M1606.2 1649.0l2.7 1.3M1614.3 1648.5l0.0 -0.0M1883.0 1503.4l0.0 0.0M1771.8 1706.7l-0.0 0.0M1841.9 1545.8l-0.0 -0.0M1718.4 1481.4l-3.4 -2.2M1997.0 1451.7l1.2 1.0M1650.4 1630.7l1.4 -1.4M1689.4 1483.7l-0.0 0.0M1890.0 1718.2l-1.6 -3.6M1897.7 1438.0l-0.4 3.0M1924.4 1539.4l0.0 0.0M1839.8 1489.2l-0.7 2.9M1697.4 1330.8l1.8 -0.8M1651.5 1383.2l1.4 -1.5M1890.6 1602.7l0.0 -0.0M1663.2 1607.8l-0.6 0.8M1726.6 1387.6l0.0 -0.0M1597.8 1387.7l0.0 0.0M1777.5 1553.5l-0.6 2.9M1674.0 1436.9l-0.0 -0.0M1672.3 1434.6l-1.4 -2.7M1881.5 1604.8l0.8 0.6M1857.1 1625.6l-0.0 0.0M1824.9 1663.4l0.4 -0.9M1829.6 1658.7l0.0 -0.0M1682.8 1627.5l-0.0 -0.0M1727.2 1545.3l-1.0 -0.2M1721.9 1545.6l-0.0 -0.0M1660.7 1328.6l-0.9 -0.4M1658.1 1326.2l-2.9 -2.8M1793.2 1357.6l-1.0 -1.1M1859.5 1527.1l0.0 -0.0M1698.7 1599.3l3.5 -1.9M1710.7 1597.0l2.9 0.8M1817.9 1571.5l2.0 0.4M1857.9 1573.7l-1.3 -1.5M1660.7 1410.2l1.7 -1.1M1980.9 1672.8l-0.4 2.0M1983.1 1678.1l1.0 1.7M1631.6 1605.9l2.4 1.8M1969.7 1498.0l-3.3 2.2M1967.1 1501.5l-0.5 0.9M1612.8 1522.0l1.9 -3.5M1842.9 1601.9l1.4 0.4M1775.5 1641.6l0.6 -1.9M1996.4 1436.8l3.8 -1.2M1816.3 1491.8l2.3 2.0M1821.3 1493.7l3.0 0.5M1800.2 1412.6l-0.1 1.5M1612.4 1677.4l0.0 -0.0M1986.8 1342.9l2.5 3.1M1860.4 1588.5l-0.3 0.9M1969.5 1495.3l0.3 -3.0M1964.7 1491.6l-3.6 -1.7M1961.2 1490.0l-3.0 -0.2M1957.5 1494.2l-1.7 3.6M1616.9 1374.7l0.0 0.0M1674.8 1434.7l1.2 -1.6M1746.1 1353.0l-1.5 0.2M1740.7 1354.6l-1.4 0.4M1833.6 1597.7l-0.0 0.0M1689.7 1559.8l0.4 -1.4M1694.4 1551.5l0.0 -0.0M1691.8 1548.9l-1.2 -0.9M1739.4 1405.5l0.0 0.0M1594.2 1556.5l4.0 -0.1M1977.7 1650.1l0.8 0.6M1777.0 1571.7l-0.5 1.9M1855.9 1663.2l0.7 3.9M1632.9 1638.7l0.8 -3.9M1766.4 1391.9l-0.0 -0.0M1970.4 1374.7l-0.0 0.0M1901.7 1515.7l2.2 3.4M1782.9 1636.6l0.9 0.3M1783.0 1641.2l-0.2 4.0M1832.4 1676.5l-1.8 -0.9M1597.0 1559.8l0.8 -3.9M1848.4 1461.4l-1.2 -1.6M1760.5 1457.9l0.0 -0.0M1762.9 1455.0l1.0 -1.1M1763.5 1451.1l0.1 -1.0M1709.9 1639.3l-0.0 -0.0M1886.4 1424.1l0.3 -2.0M1826.9 1673.0l0.3 -1.5M1705.3 1480.9l-1.5 1.4M1870.8 1506.5l0.0 0.0M1707.7 1461.3l-4.0 0.1M1704.3 1462.4l-3.1 2.5M1684.9 1427.7l-3.7 -1.6M1682.3 1422.0l-0.1 -3.0M1679.6 1418.3l-0.0 -0.0M1629.8 1517.1l1.0 -0.3M1833.9 1336.8l0.0 -2.0M1832.4 1332.0l-0.3 -2.0M1955.9 1435.7l0.0 -0.0M1722.6 1322.5l-2.4 1.8M1615.0 1433.2l0.9 -0.4M1617.9 1428.7l0.7 -1.3M1704.5 1420.0l-3.0 0.4M1963.5 1342.3l-0.8 -1.3M1779.7 1361.5l0.0 2.0M1800.5 1378.5l-0.9 1.8M1984.5 1458.9l-1.8 -0.8M1672.9 1544.4l-1.1 1.0M1832.7 1343.0l-2.0 -0.1M1726.3 1652.1l-1.5 2.6M1824.9 1411.9l0.0 0.0M1599.1 1529.2l2.5 3.1M1923.9 1325.4l0.0 0.0M1864.7 1682.9l-0.9 -0.5M1817.7 1505.7l3.0 -0.3M1885.7 1624.8l2.3 1.9M1950.9 1483.1l1.5 -0.2M1780.9 1354.4l1.0 0.1M1984.9 1495.1l1.4 -0.4M1774.7 1479.6l-0.6 -0.8M1967.1 1578.3l-0.0 0.0M1715.7 1426.9l0.5 -1.9M1701.6 1346.9l0.8 0.7M1680.6 1677.0l1.4 -0.6M1989.7 1644.6l-0.0 0.0M1859.8 1570.2l0.0 0.0M1884.0 1577.4l0.0 -0.0M1620.6 1554.2l1.2 0.8M1963.8 1321.4l0.8 0.6M1969.2 1322.5l2.0 0.2M1627.4 1571.9l1.4 -3.7M1630.9 1571.1l3.0 0.1M1989.5 1592.3l-1.4 1.4M1738.8 1420.0l0.0 -0.0M1992.9 1566.7l0.0 -0.0M1917.1 1352.0l2.0 0.2M1915.2 1415.8l-0.0 -0.0M1722.0 1679.1l0.5 -1.4M1668.3 1584.8l-0.0 -0.0M1830.0 1434.9l-0.3 -1.0M1784.2 1698.7l3.0 -0.3M1682.0 1603.3l-0.0 0.0M1680.1 1605.6l-1.4 1.5M1651.9 1446.6l2.0 0.3M1711.8 1642.3l-0.9 -0.5M1955.4 1476.3l1.2 -0.9M1824.6 1630.0l-3.0 0.4M1707.1 1641.1l-0.0 0.0M1672.6 1401.6l0.0 -0.0M1897.4 1391.2l0.0 0.0M1896.8 1398.3l-0.4 0.9M1641.6 1559.5l-0.0 -0.0M1687.0 1480.3l2.6 1.4M1797.9 1584.2l-1.8 -2.4M1629.3 1709.8l-1.5 -0.3M1987.9 1544.5l-0.0 -0.0M1863.6 1517.9l0.5 0.9M1815.0 1450.8l1.3 0.8M1767.2 1661.9l0.0 -0.0M1681.2 1652.0l-0.6 -0.8M1899.7 1447.6l-2.2 -3.3M1949.4 1404.4l-1.9 -0.7M1789.8 1499.9l1.8 3.6M1917.2 1717.7l3.9 0.9M1710.7 1332.3l1.9 0.7M1717.1 1329.7l1.8 -0.8M1691.2 1641.9l0.0 -0.0M1603.5 1710.4l-1.7 -1.0M1946.2 1574.2l-0.5 -0.9M1739.3 1651.1l3.1 -2.5M1851.4 1584.1l-0.0 -0.0M1710.6 1554.9l0.9 0.4M1781.3 1468.6l-1.0 1.7M1669.2 1361.7l-1.2 -0.8M1669.0 1357.7l0.0 -1.0M1668.2 1353.9l-0.2 -4.0M1685.1 1498.0l0.0 -0.0M1685.3 1494.9l0.2 -4.0M1684.1 1410.4l1.7 -2.5M1971.0 1340.1l0.1 -1.0M1619.1 1465.9l0.3 -2.0M1947.6 1571.0l-3.1 -2.6M1901.3 1559.6l0.9 1.2M1649.2 1456.8l0.0 0.0M1838.1 1343.8l-0.9 -1.2M1665.4 1469.8l-1.0 1.7M1665.5 1473.7l0.7 3.9M1721.2 1409.6l-1.3 -2.7M1994.2 1661.2l-0.1 -3.0M1992.2 1393.0l-0.9 -1.8M1874.0 1647.9l-1.4 0.5M1931.9 1659.9l0.0 -0.0M1934.6 1661.1l0.9 0.4M1696.9 1696.0l1.5 -2.6M1612.7 1375.1l1.1 -1.0M1880.5 1550.3l-1.0 0.2M1900.2 1478.8l0.2 -3.0M1616.0 1450.2l-0.0 0.0M1627.2 1662.9l-3.3 2.3M1891.1 1461.2l0.0 0.0M1835.1 1618.2l-0.3 4.0M1830.1 1623.7l-1.3 0.8M1853.6 1660.0l3.9 -1.0M1856.9 1654.7l0.0 -0.0M1874.0 1405.5l-0.0 -0.0M1644.0 1462.1l1.2 -0.9M1666.3 1660.8l1.4 -0.5M1676.9 1659.7l1.0 0.0M1894.4 1423.9l-2.9 0.9M1917.2 1639.6l-3.5 1.9M1913.1 1645.0l-0.7 1.4M1916.9 1653.8l0.5 0.8M1719.7 1446.8l1.5 2.6M1723.9 1449.6l3.8 1.3M1728.1 1452.9l0.7 0.7M1881.1 1330.6l-0.7 1.9M1672.9 1392.2l2.0 -0.1M1684.0 1391.0l0.0 -0.0M1627.6 1396.0l-0.7 1.9M1770.9 1475.8l1.2 0.9M1643.1 1468.2l-3.7 -1.6M1597.0 1632.0l-0.7 0.7M1593.5 1637.7l-0.0 0.0M1832.3 1366.5l1.3 0.8M1833.2 1369.6l-0.4 3.0M1828.1 1536.1l0.4 0.9M1825.9 1539.1l-1.1 1.7M1605.3 1595.9l-0.0 0.0M1650.0 1476.3l1.7 1.1M1939.7 1627.1l-0.0 -1.0M1959.2 1443.9l-1.0 -0.0M1874.0 1622.0l-0.0 0.0M1746.4 1664.6l0.0 0.0M1938.7 1644.9l-0.0 0.0M1933.0 1644.2l-1.0 -0.1M1666.1 1439.3l-0.0 0.0M1694.1 1649.4l-1.1 -3.8M1778.4 1503.3l1.5 -1.3M1921.5 1662.4l1.2 1.6M1878.5 1330.8l1.5 0.2M1888.8 1583.5l-1.4 0.4M1840.4 1533.1l-0.0 0.0M1616.9 1646.0l1.8 -0.9M1621.4 1647.0l1.4 0.6M1759.6 1515.8l1.4 0.6M1885.1 1590.9l-3.9 0.9M1626.7 1682.3l-4.0 -0.2M1874.5 1412.3l0.0 -0.0M1764.2 1634.8l-0.9 1.2M1936.0 1395.6l-0.0 0.0M1746.9 1524.7l-1.3 0.7M1805.6 1637.7l-1.5 1.3M1604.6 1444.4l-0.9 -0.3M1811.7 1575.5l-3.7 -1.4M1962.6 1417.6l-0.0 0.0M1911.7 1533.1l0.0 -0.0M1742.5 1390.5l0.0 0.0M1788.9 1341.4l-0.0 0.0M1865.6 1526.6l0.0 0.0M1720.1 1382.0l1.0 0.3M1933.5 1335.0l-0.0 -0.0M1864.4 1693.2l-3.8 -1.3M1859.9 1697.2l1.1 3.8M1656.5 1687.5l0.6 -1.9M1867.8 1366.4l0.0 -0.0M1868.9 1363.4l0.8 -1.3M1844.7 1562.3l1.7 -1.0M1729.8 1603.5l-3.0 0.3M1845.9 1376.1l0.9 0.5M1779.2 1553.0l-1.4 -1.4M1778.5 1549.1l0.3 -3.0M1741.6 1408.6l1.2 -1.6M1760.9 1698.1l0.0 0.0M1764.4 1702.8l0.0 0.0M1804.2 1398.2l-0.0 0.0M1696.1 1514.8l-4.0 -0.4M1761.2 1354.2l0.1 -2.0M1893.4 1376.9l1.2 -2.8M1889.6 1370.7l-3.8 -1.3M1703.3 1532.5l1.2 -2.7M1708.1 1528.8l0.0 -0.0M1878.1 1323.9l3.4 -2.2M1707.9 1645.6l1.4 -0.6M1983.5 1566.7l0.7 -1.3M1609.3 1453.1l1.4 0.5M1732.7 1635.1l-0.7 1.9M1715.8 1345.2l-2.8 -2.9M1739.3 1361.0l2.9 -0.8M1743.1 1337.1l0.0 -0.0M1623.9 1635.5l-0.0 0.0M1813.0 1472.0l-0.3 -0.9M1602.0 1575.0l1.7 -1.0M1955.6 1533.0l1.8 -3.5M1943.6 1477.9l-2.0 0.0M1938.8 1482.2l-0.0 0.0M1740.9 1385.1l1.9 -0.6M1744.1 1382.1l3.1 -2.5M1817.0 1369.7l1.3 0.7M1700.4 1644.4l2.0 0.2M1742.8 1592.6l-1.9 0.7M1819.8 1355.5l-1.6 -1.2M1738.6 1595.8l-3.5 -2.0M1728.6 1596.9l-0.8 0.6M1704.2 1373.2l-2.0 0.1M1717.2 1453.3l-0.2 1.5M1904.7 1443.0l-4.0 0.4M1897.5 1598.0l-0.0 0.0M1901.0 1602.2l1.0 1.1M1890.6 1492.7l1.1 -1.0M1659.0 1448.7l-0.0 0.0M1956.4 1459.7l0.0 0.0M1854.9 1513.1l1.4 0.6M1623.8 1415.0l-1.4 1.4M1607.8 1632.7l1.3 -0.7M1770.2 1434.8l-1.4 -0.6M1766.6 1436.7l-0.0 0.0M1871.3 1377.4l-0.0 0.0M1777.3 1383.5l-3.8 1.2M1774.2 1389.3l-0.0 0.0M1775.5 1390.4l3.1 2.5M1878.1 1413.1l0.2 1.5M1739.4 1322.9l2.0 0.2M1878.1 1591.0l2.5 -3.1M1665.8 1697.5l-0.0 -0.0M1610.8 1536.7l2.6 1.4M1630.3 1489.8l1.0 -0.0M1880.1 1686.0l-0.9 1.2M1627.3 1538.5l-1.5 -3.7M1961.3 1581.3l1.2 -0.9M1726.1 1479.7l-0.0 -0.0M1706.6 1477.2l-4.0 0.2M1961.8 1420.2l0.0 -0.0M1991.6 1505.9l1.2 -1.6M1730.7 1324.4l-0.0 -0.0M1727.3 1320.5l-2.2 -2.1M1723.1 1315.4l-0.0 -0.0M1829.7 1369.8l0.6 0.8M1802.9 1636.1l0.9 -0.4M1807.4 1631.3l1.4 -1.4M1642.7 1488.1l-0.0 -0.0M1633.5 1483.0l-1.5 -0.2M1879.3 1507.1l-0.0 -0.0M1643.8 1594.7l0.0 -0.0M1923.2 1532.1l0.0 0.0M1803.3 1359.2l0.0 0.0M1805.9 1362.9l0.0 0.0M1829.8 1517.6l-1.3 -0.8M1893.8 1369.3l1.1 -2.8M1770.8 1589.1l0.0 0.0M1766.4 1592.6l-0.0 0.0M1816.5 1586.4l3.8 -1.3M1790.7 1429.6l0.0 0.0M1771.6 1630.2l-1.4 0.4M1771.8 1485.6l-0.0 0.0M1761.2 1494.4l-0.5 0.9M1763.3 1497.6l0.0 0.0M1761.6 1507.3l-0.6 1.9M1863.5 1691.9l-0.0 0.0M1793.5 1438.1l2.1 3.4M1628.1 1568.5l0.5 -3.0M1761.3 1336.0l-1.7 1.0M1828.7 1402.3l0.3 -1.5M1776.0 1681.9l-3.0 0.2"/><path stroke-width="6" d="M1595.7 1577.0l-0.0 -0.0M1590.5 1576.6l-1.5 -0.1M1792.1 1475.8l-2.0 -0.3M1869.0 1627.4l0.9 0.5M1894.3 1426.7l2.0 0.3M1898.8 1430.4l0.0 0.0M1714.0 1692.9l-1.5 0.4M1708.9 1479.8l0.0 0.0M1709.8 1487.0l-0.7 1.3M1630.4 1676.2l0.7 0.7M1882.7 1571.1l-0.3 -2.0M1883.5 1559.8l-0.4 -1.9M1633.7 1652.5l1.9 0.7M1744.4 1609.7l3.6 -1.7M1769.6 1442.7l0.4 -2.0M1766.9 1465.4l0.6 -1.4M1780.2 1424.0l0.5 -0.8M1812.9 1606.7l-0.0 -0.0M1811.6 1598.3l0.0 -0.0M1786.3 1536.2l0.3 -2.0M1683.5 1498.7l-1.5 -2.6M1668.9 1505.2l0.0 0.0M1671.9 1507.3l3.5 1.9M1632.1 1473.3l-0.1 -2.0M1628.0 1462.6l-0.0 -0.0M1668.2 1604.4l1.2 -0.9M1954.3 1498.5l-0.0 -0.0M1769.1 1709.1l-1.6 1.2M1908.4 1497.8l-0.0 0.0M1721.5 1569.8l0.7 -1.9M1997.8 1455.0l-0.3 2.0M1653.2 1624.8l0.3 -0.9M1933.0 1576.3l-2.2 -3.4M1934.4 1419.7l-0.6 -1.4M1941.1 1411.8l0.8 -0.7M1971.8 1548.4l-3.5 1.9M1684.1 1484.2l-1.0 0.0M1677.0 1482.8l-0.0 -0.0M1671.8 1480.6l-1.0 -0.3M1937.1 1509.0l3.3 2.2M1940.8 1515.0l1.8 0.8M1819.8 1578.6l-3.9 -0.7M1722.2 1409.9l0.2 1.5M1727.0 1414.8l0.8 0.6M1687.0 1328.5l3.4 2.1M1691.8 1333.4l0.0 0.0M1972.8 1462.1l-0.0 -0.0M1890.0 1597.5l-0.1 -2.0M1670.5 1411.3l1.6 -1.1M1675.9 1411.1l0.0 0.0M1678.2 1407.6l1.3 -1.5M1736.9 1709.9l0.0 -0.0M1733.3 1469.3l-0.1 1.5M1797.9 1639.5l-0.0 -0.0M1791.3 1640.2l-0.0 -0.0M1985.2 1461.5l-1.0 0.1M1657.8 1341.1l-0.4 -1.4M1661.7 1335.8l0.0 -0.0M1758.7 1684.3l2.5 3.1M1756.7 1691.5l-0.0 0.0M1746.8 1424.2l-1.9 -0.6M1878.0 1601.3l1.8 2.4M1882.3 1615.7l-0.0 0.0M1860.0 1618.6l-0.1 2.0M1964.1 1353.1l-0.0 -1.0M1959.3 1349.4l-0.0 -0.0M1948.2 1347.1l-1.0 -0.3M1854.5 1339.7l-1.9 -2.3M1652.7 1325.7l-1.9 0.7M1975.2 1447.6l-1.4 3.7M1973.2 1453.3l-0.8 1.8M1624.0 1384.3l-3.2 -2.5M1983.5 1327.2l-0.8 1.3M1865.9 1531.4l0.0 0.0M1813.4 1571.1l0.0 0.0M1853.5 1573.0l-1.0 0.0M1627.8 1600.8l-1.4 3.8M1706.6 1381.6l-0.9 -1.8M1697.5 1374.8l-3.0 -0.4M1913.7 1386.8l3.0 -0.0M1889.3 1691.3l2.9 0.9M1919.3 1546.5l0.2 2.0M1664.8 1326.3l-2.0 -0.2M1776.9 1636.5l0.0 -0.0M1990.3 1439.2l3.6 -1.7M1971.1 1651.1l0.0 0.0M1845.2 1444.4l0.0 1.0M1847.4 1446.9l1.5 1.4M1851.0 1447.7l0.0 0.0M1806.6 1696.8l-0.8 2.9M1801.7 1699.4l-2.9 0.8M1799.1 1705.8l-0.0 0.0M1825.0 1530.9l-1.5 -0.1M1952.7 1553.9l0.0 -0.0M1604.8 1680.9l3.1 -2.5M1984.0 1340.0l-0.0 0.0M1900.4 1673.7l0.0 0.0M1667.2 1648.5l-0.0 -0.0M1846.2 1663.4l-2.5 3.2M1620.7 1379.9l0.8 1.3M1618.2 1388.3l-1.3 1.5M1678.3 1429.7l0.0 -0.0M1917.7 1408.1l-0.0 -0.0M1666.8 1455.4l0.0 0.0M1692.6 1557.2l1.7 -1.0M1739.2 1408.4l-0.1 2.0M1823.7 1613.4l3.0 0.5M1928.7 1675.6l-1.4 -1.4M1969.7 1641.0l3.9 0.7M1730.3 1406.0l-1.4 -0.5M1724.4 1405.7l-2.0 0.2M1854.4 1669.9l-0.7 1.4M1935.2 1439.2l0.0 0.0M1859.8 1685.5l-0.0 0.0M1634.5 1631.6l0.1 -1.0M1619.8 1384.8l-1.5 -0.3M1611.8 1372.9l-0.4 -0.9M1656.3 1712.5l3.7 1.6M1615.0 1469.4l-0.4 -2.0M1822.7 1512.9l0.3 2.0M1822.3 1517.0l-0.2 1.0M1899.9 1512.6l0.4 1.4M1837.1 1678.8l-0.0 -0.0M1834.0 1667.7l2.8 -2.9M1594.5 1563.6l3.7 -1.5M1849.2 1457.8l1.4 -3.7M1851.6 1451.5l1.2 -2.8M1711.1 1637.6l1.6 -2.5M1608.4 1465.4l2.0 0.1M1610.9 1464.5l3.1 -2.5M1819.9 1678.3l0.9 -0.5M1824.9 1676.9l3.9 -0.9M1872.5 1509.7l0.5 0.9M1772.3 1535.2l0.5 -0.8M1776.8 1532.8l1.7 -1.0M1991.0 1693.8l0.0 -0.0M1608.2 1439.4l1.9 -0.7M1837.1 1619.3l-0.0 0.0M1827.2 1622.2l-0.0 0.0M1968.0 1347.3l-3.2 -2.4M1704.1 1710.5l-1.3 0.8M1652.8 1667.2l-2.8 1.0M1643.5 1355.2l0.4 -1.4M1648.6 1351.1l0.0 -0.0M1602.9 1695.5l-1.5 0.2M1987.4 1447.8l1.2 -1.6M1988.0 1442.6l0.0 -1.0M1723.2 1657.1l-1.6 2.5M1824.8 1414.4l-0.3 3.0M1863.4 1678.2l-0.0 -0.0M1822.1 1509.2l0.7 0.7M1825.1 1509.9l3.9 0.8M1989.2 1669.3l0.1 1.0M1967.8 1657.4l1.3 2.7M1981.3 1495.8l0.0 0.0M1717.8 1466.0l0.0 0.0M1715.1 1470.4l-2.1 3.4M1668.7 1414.5l-2.5 3.1M1669.8 1421.6l0.4 1.4M1769.0 1478.5l-0.0 -0.0M1595.2 1430.1l0.7 1.3M1644.4 1433.7l0.4 -0.9M1701.4 1336.9l-1.9 3.5M1698.7 1341.9l-0.8 3.9M1638.0 1416.9l0.0 -0.0M1682.6 1673.3l1.1 -2.8M1684.7 1666.7l0.0 -0.0M1727.8 1538.1l0.0 -0.0M1639.0 1506.0l2.6 1.5M1954.0 1365.3l-0.5 -1.9M1920.1 1564.9l2.9 -2.8M1623.4 1427.3l-0.0 -0.0M1627.4 1423.3l0.7 -0.7M1835.1 1639.9l-3.9 -0.8M1871.5 1368.5l1.7 1.1M1599.0 1620.0l2.6 -3.1M1865.7 1605.9l-0.0 0.0M1744.5 1419.8l1.0 0.0M1913.3 1413.9l-0.7 -0.7M1719.9 1670.9l0.0 -0.0M1717.3 1668.4l-1.4 -1.4M1788.3 1510.6l0.2 1.0M1831.7 1440.3l-0.7 -0.7M1656.3 1450.7l2.0 2.2M1927.8 1675.7l-3.0 0.4M1674.0 1640.7l-0.5 1.9M1830.6 1623.7l-0.0 0.0M1779.3 1570.5l-1.0 1.2M1772.4 1571.8l-3.0 -2.6M1765.1 1386.6l0.0 0.0M1675.4 1394.9l-2.3 -3.3M1897.9 1394.5l0.2 1.5M1897.0 1403.2l0.2 1.0M1594.5 1459.4l1.4 0.4M1597.3 1459.8l3.0 0.1M1759.1 1636.8l-1.5 0.1M1751.1 1642.8l-0.0 0.0M1856.1 1543.2l-1.7 -3.6M1975.5 1650.7l1.7 2.4M1985.2 1542.7l-3.3 -2.3M1684.8 1350.9l2.7 -3.0M1868.5 1522.0l1.1 1.0M1685.0 1656.7l0.0 -0.0M1752.9 1577.8l2.8 -2.9M1688.0 1649.3l2.4 -1.8M1696.7 1640.1l1.0 -0.3M1649.2 1693.5l1.2 -1.6M1646.7 1685.7l-1.7 -2.4M1811.0 1591.3l2.1 -3.4M1813.1 1586.2l0.3 -0.9M1817.1 1576.0l0.6 -1.9M1714.7 1440.4l-1.0 -0.1M1859.0 1583.5l-1.3 3.8M1706.9 1552.4l0.7 1.9M1710.6 1605.8l0.0 -1.0M1984.1 1669.9l-1.2 0.9M1902.5 1668.0l-1.2 0.9M1896.4 1668.3l-1.0 -0.2M1713.3 1454.8l0.9 0.4M1783.8 1462.5l-0.4 3.0M1776.8 1469.8l-1.0 -0.0M1775.2 1468.6l-2.2 -3.3M1693.1 1566.2l-0.0 -0.0M1843.4 1505.1l-0.4 1.4M1680.1 1500.7l1.0 -0.0M1680.6 1414.3l1.6 -1.2M1793.9 1311.3l-0.0 -0.0M1914.0 1382.9l0.0 -0.0M1917.0 1378.2l0.6 -0.8M1963.3 1331.8l-0.0 -0.0M1804.4 1331.3l-0.6 1.4M1801.9 1476.1l-0.0 -0.0M1831.8 1485.9l-0.0 -0.0M1826.8 1483.4l-1.8 -0.8M1817.9 1486.9l-1.4 0.6M1742.5 1699.0l0.0 -0.0M1894.2 1565.4l-4.0 0.2M1665.4 1478.1l-0.2 4.0M1723.0 1414.5l-0.5 -0.9M1952.2 1336.2l-0.0 -0.0M1945.3 1335.0l-0.0 -0.0M1991.8 1655.7l-1.3 -2.7M1890.3 1585.5l0.2 2.0M1927.0 1668.7l0.0 -0.0M1927.8 1664.3l0.7 -1.9M1816.9 1608.7l-0.0 -0.0M1811.9 1609.9l-1.5 0.2M1965.5 1695.3l-1.3 0.7M1835.4 1651.7l-2.8 2.9M1704.7 1696.2l0.0 0.0M1901.6 1437.6l0.0 0.0M1606.4 1640.7l-1.4 0.5M1967.4 1618.0l1.0 0.0M1969.6 1616.6l2.0 -2.2M1859.6 1618.4l-0.0 0.0M1608.6 1379.0l0.8 -0.7M1752.0 1687.6l1.4 -1.4M1616.0 1440.3l-0.4 0.9M1668.6 1524.3l-1.9 -2.3M1662.1 1521.2l-1.9 -0.5M1622.9 1663.9l-4.0 -0.4M1617.6 1662.5l-1.9 -0.7M1845.5 1667.1l2.0 -0.4M1848.7 1662.2l0.6 -1.4M1640.6 1465.4l0.0 0.0M1670.5 1659.9l0.0 -0.0M1755.0 1688.4l0.0 -0.0M1712.3 1549.7l0.0 -0.0M1649.5 1654.3l-1.9 -0.5M1645.6 1655.4l-2.5 1.7M1915.0 1649.5l0.0 0.0M1674.3 1676.8l2.5 1.7M1767.7 1473.2l2.5 1.6M1600.7 1593.1l1.5 0.1M1606.4 1593.1l3.0 -0.0M1959.6 1723.4l-0.1 2.0M1793.9 1572.8l-2.4 3.2M1745.4 1659.8l-0.0 1.0M1890.3 1477.8l-0.0 0.0M1668.9 1436.3l-0.0 0.0M1922.7 1707.9l2.8 -1.1M1928.9 1701.8l0.7 -1.4M1702.3 1422.8l-0.9 2.9M1695.5 1651.1l-0.0 -0.0M1846.7 1344.6l-1.1 1.7M1893.7 1637.9l-0.0 -0.0M1786.7 1501.9l4.0 0.5M1915.8 1330.8l0.8 -1.8M1810.1 1580.8l0.2 1.5M1736.1 1577.0l0.0 0.0M1988.1 1342.2l-0.0 0.0M1891.0 1432.8l-2.6 -1.5M1667.6 1585.7l0.9 -0.5M1717.5 1359.9l-0.0 0.0M1718.5 1365.1l0.4 1.5M1821.7 1592.4l1.3 -1.5M1826.1 1589.1l0.0 -0.0M1719.9 1639.6l-2.2 -3.4M1612.1 1648.3l0.0 -0.0M1644.6 1684.8l1.9 2.4M1650.9 1688.6l0.0 0.0M1942.0 1535.5l-0.3 -2.0M1944.1 1530.4l1.6 -2.5M1823.4 1700.7l-0.2 -1.5M1821.2 1697.4l-1.7 -2.5M1668.0 1633.4l0.6 -1.4M1751.6 1518.3l2.0 -3.5M1892.7 1595.0l-0.5 -1.9M1991.9 1369.2l2.7 1.3M1995.6 1373.3l1.7 2.5M1994.7 1378.3l-0.7 1.3M1766.4 1628.8l1.0 3.9M1765.9 1639.7l0.6 0.8M1940.0 1390.6l0.0 0.0M1671.4 1506.6l-3.2 -2.4M1958.1 1572.2l-0.0 -0.0M1625.4 1705.9l0.7 1.3M1967.0 1411.8l-2.7 1.3M1649.2 1554.6l0.1 1.0M1741.6 1385.4l-2.9 2.8M1784.7 1344.1l-0.0 0.0M1727.5 1491.8l-0.8 0.6M1725.0 1495.1l-1.3 1.5M1726.9 1500.8l0.0 0.0M1778.8 1485.7l0.5 -1.4M1781.0 1479.9l0.3 -1.0M1790.2 1408.0l-0.0 0.0M1863.1 1529.8l-1.2 1.6M1863.5 1533.9l0.3 1.5M1942.5 1339.8l-1.6 -1.3M1939.4 1336.2l-0.0 -0.0M1741.6 1398.2l2.9 0.9M1975.8 1553.6l0.2 1.0M1689.3 1674.5l0.0 -0.0M1613.7 1702.5l0.9 0.4M1759.7 1477.4l1.1 -1.0M1760.9 1473.0l0.4 -4.0M1662.2 1685.5l0.8 0.6M1632.2 1699.0l0.0 -0.0M1632.1 1696.8l-0.5 -3.0M1635.1 1693.0l1.2 -0.9M1637.8 1693.6l3.0 0.4M1618.5 1464.3l1.9 -0.6M1851.9 1374.2l0.9 -0.5M1596.6 1360.4l-0.0 -0.0M1777.4 1665.3l-1.4 0.6M1773.5 1666.5l-4.0 0.0M1747.5 1406.5l0.0 -0.0M1768.8 1702.0l1.4 -0.4M1974.4 1523.3l0.7 -0.7M1951.8 1599.2l0.0 -0.0M1950.8 1597.6l-1.6 -2.5M1810.9 1396.0l-0.0 0.0M1688.9 1512.9l-0.9 -0.4M1774.9 1355.5l4.0 -0.3M1804.2 1565.9l0.0 0.0M1891.7 1381.3l0.0 -0.0M1892.7 1372.4l-0.7 -1.3M1882.9 1322.8l1.0 -0.2M1715.5 1652.2l1.2 3.8M1783.7 1434.3l-0.0 -0.0M1632.6 1550.2l0.0 0.0M1603.4 1450.4l0.0 0.0M1734.8 1367.6l0.0 -0.0M1910.8 1672.9l-0.0 0.0M1632.1 1709.7l-1.5 -0.0M1642.5 1686.6l-0.2 1.5M1629.3 1632.0l-1.4 0.6M1876.6 1351.5l-1.5 -3.7M1947.3 1477.4l-0.6 0.8M1813.1 1606.4l2.6 -1.5M1694.2 1644.1l1.4 -0.5M1649.8 1447.0l-0.7 1.9M1823.5 1411.3l-0.0 -0.0M1733.8 1593.5l-2.8 -0.9M1722.8 1402.4l0.0 -0.0M1727.0 1401.4l1.8 -0.8M1775.4 1714.1l-1.7 2.5M1778.2 1722.6l0.0 0.0M1695.7 1365.8l-0.0 -0.0M1824.2 1465.0l-0.2 -2.0M1816.6 1676.5l1.2 -1.6M1821.5 1672.9l0.0 -0.0M1942.8 1483.5l-0.0 0.0M1946.9 1486.5l2.8 1.2M1894.5 1446.1l-2.6 3.0M1905.8 1601.5l0.0 -0.0M1992.7 1427.9l-0.6 2.9M1732.1 1430.1l-1.9 -0.7M1884.9 1500.8l-0.9 -1.2M1887.4 1495.7l0.6 -0.8M1657.5 1451.4l-0.8 1.3M1852.8 1523.0l-0.0 0.0M1848.1 1521.9l-2.0 -0.3M1794.9 1345.7l1.7 -1.1M1802.3 1346.9l2.2 2.0M1807.4 1348.1l2.0 -0.0M1602.9 1635.2l1.4 -0.6M1938.4 1600.2l-2.9 -0.7M1748.9 1717.8l0.7 1.9M1853.7 1350.1l1.3 -0.8M1861.6 1351.2l0.0 0.0M1785.7 1328.3l0.0 0.0M1785.7 1701.3l1.3 0.7M1885.7 1700.9l0.5 1.9M1633.6 1364.1l0.0 -0.0M1796.4 1434.7l1.2 -2.7M1794.9 1431.3l-2.7 -2.9M1633.7 1543.4l-0.5 -0.9M1966.7 1581.4l1.0 0.2M1937.5 1663.9l-0.6 -1.9M1936.3 1660.2l-0.4 -3.0M1932.3 1650.4l-1.9 -3.5M1934.3 1386.0l0.3 2.0M1960.3 1416.9l-0.3 -1.0M1756.0 1370.0l1.8 3.6M1951.7 1483.7l-0.0 -0.0M1806.0 1549.7l-1.7 1.0M1801.7 1549.8l-0.0 -0.0M1819.3 1332.3l0.0 -0.0M1639.0 1484.6l-2.8 -2.9M1749.6 1496.5l0.3 1.5M1638.2 1688.6l1.7 2.4M1639.4 1692.7l0.1 1.5M1915.1 1528.8l0.8 1.3M1777.1 1627.2l-2.6 3.0M1856.2 1542.2l-0.9 -1.2M1850.2 1541.4l-2.0 -0.3M1769.4 1489.9l-1.6 3.7M1898.4 1330.4l0.0 -0.0M1901.2 1333.3l0.0 0.0M1868.2 1696.7l2.8 1.1M1874.7 1697.7l0.0 0.0M1922.5 1390.7l-1.4 -2.7M1902.0 1589.8l-0.7 1.9M1904.6 1593.4l2.7 2.9M1690.0 1396.8l0.7 -2.9M1884.9 1322.4l0.7 -1.3M1888.7 1484.5l-0.5 -1.4M1975.2 1637.2l-1.0 1.1M1972.9 1344.6l0.0 0.0M1948.3 1420.9l0.0 -0.0M1790.5 1433.4l1.6 1.2M1848.4 1559.9l-0.0 0.0M1627.5 1572.7l0.0 -0.0M1770.2 1681.7l-0.0 -0.0M1936.1 1505.6l0.4 0.9"/><path stroke-width="7" d="M1714.4 1667.8l-2.8 1.2M1820.5 1717.5l-0.9 2.9M1964.6 1378.8l-0.0 2.0M1847.4 1330.7l0.8 -1.2M1665.4 1606.2l0.4 -0.9M1734.1 1326.4l0.0 0.0M1743.1 1329.4l3.8 1.2M1777.3 1705.3l-1.9 0.8M1937.5 1513.8l-0.0 0.0M1835.7 1491.7l-0.0 0.0M1832.8 1491.5l-2.0 -0.1M1731.1 1712.4l2.7 1.3M1676.8 1440.0l-1.7 -1.0M1667.0 1335.0l1.0 -0.2M1671.0 1336.8l1.8 0.8M1742.2 1422.7l-0.0 -0.0M1837.2 1397.4l1.0 0.3M1624.2 1464.2l0.0 0.0M1704.5 1596.1l1.8 -0.8M1934.7 1448.0l-1.5 0.3M1797.6 1711.4l-0.6 1.9M1797.0 1402.8l2.9 0.6M1800.1 1418.8l-0.0 0.0M1599.0 1353.6l0.7 -1.9M1973.6 1646.4l1.1 2.8M1613.4 1378.9l-0.6 -0.8M1651.3 1709.9l0.9 0.3M1616.9 1474.5l-1.9 -0.6M1965.6 1374.1l-0.0 0.0M1831.3 1670.7l0.0 -2.0M1753.3 1329.1l-0.2 1.0M1712.8 1649.8l-2.9 -0.9M1787.2 1720.5l1.0 -0.3M1898.9 1352.4l0.0 -0.0M1871.0 1512.9l-0.0 0.0M1676.4 1413.8l-0.0 -0.0M1626.0 1518.8l0.0 0.0M1944.6 1436.3l0.0 0.0M1698.6 1708.8l-0.0 -0.0M1651.0 1351.6l1.0 -0.0M1612.3 1699.5l-3.6 -1.8M1608.4 1696.2l-1.8 -2.4M1724.1 1661.4l1.4 2.7M1920.8 1323.5l-0.0 0.0M1678.2 1371.5l-3.9 -0.8M1760.2 1429.6l1.5 0.3M1956.1 1360.4l1.0 -1.1M1879.3 1581.3l-0.3 -2.0M1997.2 1569.9l0.8 0.6M1908.7 1357.3l1.2 -3.8M1891.2 1575.1l1.0 -0.1M1648.8 1564.0l0.3 1.0M1779.6 1698.3l0.0 -0.0M1933.4 1674.6l-0.8 1.2M1745.2 1433.1l0.0 -0.0M1846.8 1629.6l0.2 1.0M1843.3 1631.2l-3.4 2.0M1836.8 1631.7l-0.0 -0.0M1671.9 1644.0l-0.7 1.3M1709.7 1636.1l-0.0 0.0M1675.7 1397.4l0.5 -0.8M1604.9 1490.1l-0.3 4.0M1971.6 1646.4l2.6 3.1M1802.7 1621.0l1.0 -0.1M1742.4 1515.5l0.9 -0.4M1755.2 1566.0l-0.0 -0.0M1788.6 1504.5l-0.0 0.0M1914.4 1716.6l1.3 0.7M1706.6 1331.6l1.4 -1.4M1597.7 1706.4l-0.8 -0.6M1646.2 1697.7l0.0 0.0M1696.6 1708.2l1.1 1.1M1982.4 1673.1l-1.4 3.7M1908.2 1662.7l-2.5 3.1M1978.5 1515.3l1.0 -0.1M1709.2 1452.8l-0.1 1.5M1902.2 1607.8l0.2 -1.5M1945.3 1325.3l0.9 -1.2M1894.5 1587.5l2.0 0.3M1800.1 1568.3l0.6 0.8M1601.9 1641.9l-1.9 0.5M1813.0 1382.5l1.4 -1.4M1852.9 1473.4l2.5 -1.6M1777.0 1481.0l0.3 -2.0M1783.4 1475.3l0.6 -0.8M1784.2 1687.9l-0.0 0.0M1642.4 1661.4l-0.0 0.0M1678.4 1393.3l1.0 0.3M1729.8 1706.2l0.6 -0.8M1646.1 1548.1l2.0 -0.3M1793.4 1668.6l-3.0 -0.4M1762.5 1470.5l1.5 0.2M1631.7 1460.9l-2.8 -1.1M1828.9 1634.5l1.6 3.7M1826.6 1531.2l0.3 3.0M1596.3 1592.9l1.0 0.1M1959.8 1718.4l-0.0 0.0M1960.0 1727.7l0.1 1.0M1960.1 1353.4l1.0 -0.3M1886.3 1344.7l-0.9 -0.5M1885.4 1330.8l3.0 0.2M1961.1 1518.2l1.9 0.7M1756.6 1513.9l0.0 -0.0M1741.1 1526.8l-0.0 0.0M1647.9 1549.0l0.0 0.0M1936.4 1379.3l1.0 0.0M1753.5 1543.2l0.8 -1.3M1787.9 1411.1l-0.6 0.8M1745.1 1400.7l2.1 2.1M1659.9 1683.9l0.8 -0.5M1662.8 1689.9l-0.2 2.0M1786.6 1479.0l1.1 -1.1M1626.7 1472.0l0.0 0.0M1757.8 1346.8l0.8 -2.9M1890.1 1320.9l0.0 -0.0M1673.9 1461.0l-0.0 -0.0M1785.2 1430.2l1.3 -3.8M1868.7 1683.2l1.2 0.9M1606.2 1573.9l3.0 0.0M1947.4 1529.1l0.1 -3.0M1652.7 1442.3l-1.0 0.3M1727.9 1599.7l0.3 3.0M1693.7 1468.9l-1.5 0.4M1616.9 1664.9l-0.1 2.0M1621.5 1673.5l0.1 2.0M1620.8 1676.9l-0.1 3.0M1597.7 1636.9l0.0 0.0M1787.0 1466.0l-0.0 0.0M1608.2 1535.3l0.7 1.3M1957.8 1583.5l0.0 -0.0M1754.7 1376.6l-0.0 0.0M1926.1 1407.6l-0.0 -0.0M1918.0 1529.5l1.5 -0.2M1824.8 1409.4l1.4 -1.4M1826.7 1405.0l0.0 -0.0M1942.1 1424.2l0.0 -0.0M1780.4 1681.7l-0.0 0.0"/></g>
<g fill="none" stroke-linecap="round"><path stroke="#282828" stroke-width="2" d="M1678.0 1495.9l-1.5 0.3M1731.4 1467.5l-0.1 1.5M1982.0 1325.4l-0.8 1.3M1969.7 1649.6l0.0 0.0M1690.1 1547.2l-1.2 -0.9M1822.5 1611.4l3.0 0.5M1854.1 1659.9l-0.0 0.0M1779.5 1719.6l1.5 0.2M1831.1 1616.4l-1.9 -0.7M1654.4 1663.0l-1.5 2.6M1739.4 1376.3l-0.6 1.9M1773.0 1477.9l-0.6 -0.8M1965.5 1576.2l-0.0 0.0M1678.6 1675.6l1.4 -0.6M1986.7 1565.3l2.0 -0.2M1710.0 1640.9l-0.9 -0.5M1608.5 1538.0l0.0 1.5M1749.4 1640.7l-0.0 0.0M1686.6 1482.2l-0.5 4.0M1631.8 1708.2l-1.5 0.2M1709.2 1330.1l1.9 0.7M1850.1 1582.9l-0.0 -0.0M1904.0 1438.4l2.5 1.7M1819.4 1382.7l0.0 0.0M1747.5 1689.3l1.0 -1.7M1615.7 1660.3l-1.9 -0.7M1778.6 1477.4l2.8 -1.0M1879.7 1320.2l-1.0 3.9M1666.5 1390.0l1.3 0.7M1682.0 1389.8l0.0 -0.0M1938.5 1629.1l-0.4 -0.9M1693.1 1647.8l-1.1 -3.8M1838.9 1531.3l-0.0 0.0M1758.5 1514.1l1.4 0.6M1890.7 1593.5l-0.5 -1.9M1909.9 1531.5l0.0 -0.0M1762.7 1700.9l0.0 0.0M1949.2 1595.9l-1.6 -2.5M1881.1 1320.6l1.0 -0.2M1673.6 1463.7l-0.6 -0.8M1954.0 1530.9l1.8 -3.5M1739.2 1383.2l1.9 -0.6M1716.1 1384.2l-2.5 -1.6M1771.6 1717.8l-0.0 0.0M1796.3 1342.9l4.0 -0.6M1978.0 1467.0l-0.0 0.0M1932.2 1651.7l-0.0 -0.0M1729.6 1322.3l-0.0 -0.0M1866.8 1695.3l2.8 1.1M1884.1 1317.8l0.5 -4.0"/><path stroke="#282828" stroke-width="3" d="M1892.5 1425.5l2.0 0.3M1708.7 1485.6l-0.7 1.3M1803.6 1628.1l0.0 0.0M1992.7 1435.4l-1.5 1.3M1716.6 1478.2l-2.2 2.1M1719.7 1567.9l0.7 -1.9M1995.9 1453.7l-0.3 2.0M1670.7 1479.3l-1.0 -0.3M1831.6 1490.0l-2.0 -0.1M1880.4 1614.0l-0.0 0.0M1973.8 1446.1l-1.4 3.7M1864.5 1529.5l0.0 0.0M1703.1 1594.7l1.8 -0.8M1872.3 1683.2l0.6 -1.4M1704.0 1375.8l-0.2 -1.0M1696.4 1373.1l-3.0 -0.4M1820.1 1491.8l3.0 0.5M1927.4 1673.6l-1.4 -1.4M1733.2 1406.2l-0.9 -1.2M1855.8 1680.9l-1.0 -1.1M1632.6 1629.8l0.1 -1.0M1610.1 1465.5l-1.3 -0.7M1830.2 1669.0l0.0 -2.0M1706.4 1459.2l-4.0 0.1M1831.4 1329.8l-0.3 -2.0M1606.8 1438.0l1.9 -0.7M1966.6 1346.0l-3.2 -2.4M1702.3 1708.5l-1.3 0.8M1697.0 1707.5l-0.0 -0.0M1695.8 1705.2l-1.3 -2.7M1649.8 1349.7l1.0 -0.0M1607.1 1694.7l-1.8 -2.4M1820.5 1507.3l0.7 0.7M1763.0 1478.4l-0.0 0.0M1633.4 1619.3l2.7 -1.4M1988.2 1590.7l-1.4 1.4M1835.0 1629.6l-0.0 -0.0M1823.2 1628.2l-3.0 0.4M1862.6 1515.9l0.5 0.9M1801.5 1619.5l1.0 -0.1M1809.0 1589.8l2.1 -3.4M1709.6 1553.4l0.9 0.4M1830.8 1484.0l-0.0 -0.0M1613.3 1500.0l0.2 -1.5M1812.0 1380.5l1.4 -1.4M1961.2 1615.9l2.0 -0.2M1607.5 1377.0l0.8 -0.7M1753.3 1684.1l3.4 -2.0M1866.2 1473.8l-1.6 -1.2M1657.7 1516.4l-0.0 -0.0M1893.2 1421.8l-2.9 0.9M1791.6 1666.8l-3.0 -0.4M1744.1 1658.2l-0.0 1.0M1783.5 1460.6l-0.0 -0.0M1777.0 1501.9l1.5 -1.3M1919.6 1660.4l1.2 1.6M1877.4 1329.1l1.5 0.2M1666.0 1583.9l0.9 -0.5M1750.2 1369.2l0.0 0.0M1940.2 1533.7l-0.3 -2.0M1666.9 1632.0l0.6 -1.4M1990.9 1367.9l2.7 1.3M1935.4 1377.7l1.0 0.0M1786.0 1409.6l-0.6 0.8M1743.9 1399.2l2.1 2.1M1858.4 1693.8l-0.7 0.7M1654.6 1685.5l0.6 -1.9M1636.6 1691.6l3.0 0.4M1616.7 1462.8l1.9 -0.6M1714.4 1650.5l1.2 3.8M1732.0 1592.0l-2.8 -0.9M1945.7 1484.3l2.8 1.2M1619.7 1675.3l-0.1 3.0M1664.3 1696.0l-0.0 -0.0M1660.2 1695.4l-1.0 -0.2M1956.6 1581.8l0.0 -0.0M1946.5 1419.2l0.0 -0.0M1649.1 1604.8l-0.5 -1.4M1934.7 1503.6l0.4 0.9"/><path stroke="#383838" stroke-width="2" d="M1881.1 1569.5l-0.3 -2.0M1883.1 1563.8l0.4 -0.9M1882.1 1557.9l-0.4 -1.9M1892.6 1570.5l-1.8 -2.4M1888.6 1423.7l-1.8 -0.8M1810.3 1596.3l0.0 -0.0M1785.3 1534.6l0.3 -2.0M1682.4 1496.5l-1.5 -2.6M1907.0 1496.1l-0.0 0.0M1931.8 1575.0l-2.2 -3.4M1976.4 1468.4l-1.3 0.8M1672.1 1434.8l-0.0 -0.0M1671.0 1432.6l-1.4 -2.7M1855.6 1623.5l-0.0 0.0M1823.4 1661.8l0.4 -0.9M1856.7 1571.6l-1.3 -1.5M1966.3 1504.5l0.8 2.9M1931.1 1379.9l0.0 0.0M1596.8 1417.8l0.0 -0.0M1845.1 1602.8l2.8 2.9M1711.0 1528.0l-1.0 1.1M1950.7 1552.3l0.0 -0.0M1739.6 1352.7l-1.4 0.4M1917.8 1402.8l0.7 -1.9M1778.3 1564.1l-2.6 1.4M1820.9 1511.0l0.3 2.0M1781.7 1639.3l-0.2 4.0M1847.5 1456.2l1.4 -3.7M1758.6 1456.2l0.0 -0.0M1607.0 1463.9l2.0 0.1M1609.8 1462.5l3.1 -2.5M1704.2 1479.3l-1.5 1.4M1780.3 1525.6l0.7 -0.7M1608.2 1433.9l0.2 -1.5M1778.6 1359.6l0.0 2.0M1775.4 1352.7l0.5 -0.9M1986.8 1493.9l2.7 1.3M1700.0 1344.8l0.8 0.7M1912.1 1350.4l1.6 -1.2M1914.1 1414.5l-0.0 -0.0M1717.8 1673.5l-0.0 -0.0M1853.5 1592.5l1.1 -1.7M1857.6 1591.9l3.0 0.1M1941.2 1361.7l0.9 0.5M1895.1 1397.0l-0.4 0.9M1609.3 1492.8l0.0 0.0M1626.7 1703.9l-0.5 -3.0M1648.1 1687.8l0.0 -0.0M1737.5 1649.8l3.1 -2.5M1888.6 1331.4l0.0 0.0M1901.0 1611.7l-1.0 -3.9M1792.8 1309.5l-0.0 -0.0M1946.2 1569.8l-3.1 -2.6M1900.3 1557.6l0.9 1.2M1990.6 1391.6l-0.9 -1.8M1810.7 1607.9l-1.5 0.2M1911.2 1441.2l0.0 0.0M1816.3 1380.0l0.0 0.0M1596.8 1592.0l0.0 -0.0M1614.9 1444.0l0.0 0.0M1614.1 1448.1l-0.0 0.0M1852.1 1658.2l3.9 -1.0M1899.4 1419.9l-2.9 0.7M1911.6 1643.1l-0.7 1.4M1826.3 1629.2l0.0 0.0M1958.2 1722.0l-0.1 2.0M1931.2 1643.0l-1.0 -0.1M1885.3 1338.6l0.4 -3.0M1873.5 1328.6l0.0 -0.0M1745.5 1523.4l-1.3 0.7M1776.7 1658.0l-2.1 -3.4M1740.1 1396.4l2.9 0.9M1630.4 1695.3l-0.5 -3.0M1759.4 1696.0l0.0 0.0M1767.1 1699.8l1.4 -0.4M1640.9 1685.0l-0.2 1.5M1811.9 1470.0l-0.3 -0.9M1766.7 1586.8l0.0 -0.0M1736.8 1594.0l-3.5 -2.0M1823.1 1463.0l-0.2 -2.0M1899.6 1600.5l1.0 1.1M1655.8 1450.0l-0.8 1.3M1853.8 1516.0l-0.0 2.0M1737.5 1320.8l2.0 0.2M1965.7 1579.7l1.0 0.2M1754.1 1376.9l1.2 2.7M1824.0 1363.4l1.9 2.3M1641.9 1592.6l0.0 -0.0M1801.5 1357.4l0.0 0.0M1859.1 1599.0l-1.1 -1.1M1788.6 1432.0l1.6 1.2M1626.3 1571.1l0.0 -0.0M1933.7 1507.9l-0.9 2.9"/><path stroke="#383838" stroke-width="3" d="M1593.9 1575.2l-0.0 -0.0M1818.7 1715.5l-0.9 2.9M1784.9 1537.1l-0.0 -0.0M1758.9 1704.4l-0.2 4.0M1666.2 1498.0l1.5 0.4M1952.7 1496.6l-0.0 -0.0M1776.0 1703.3l-1.9 0.8M1717.1 1480.2l-3.4 -2.2M1995.8 1449.9l1.2 1.0M1936.8 1413.3l1.1 -1.0M1682.3 1482.4l-1.0 0.0M1935.2 1506.9l3.3 2.2M1936.2 1512.1l-0.0 0.0M1821.5 1579.1l-2.7 -2.9M1818.5 1577.4l-3.9 -0.7M1971.4 1460.8l-0.0 -0.0M1796.3 1637.8l-0.0 -0.0M1794.5 1639.0l-2.5 1.6M1776.0 1552.2l-0.6 2.9M1876.2 1600.0l1.8 2.4M1962.2 1351.0l-0.0 -1.0M1650.8 1324.4l-1.9 0.7M1982.1 1676.1l1.0 1.7M1972.7 1527.5l0.6 0.8M1918.7 1383.3l3.8 -1.3M1602.0 1415.4l0.9 -0.4M1985.0 1341.3l2.5 3.1M1678.2 1423.0l0.0 -0.0M1691.3 1555.4l1.7 -1.0M1737.7 1406.9l-0.1 2.0M1670.5 1542.5l-0.5 0.9M1933.5 1437.2l0.0 0.0M1858.4 1683.7l-0.0 0.0M1649.9 1708.5l0.9 0.3M1654.7 1710.5l3.7 1.6M1619.8 1473.5l-1.5 1.3M1761.9 1448.9l0.1 -1.0M1709.7 1635.6l1.6 -2.5M1785.5 1718.3l1.0 -0.3M1893.1 1347.6l-0.0 -0.0M1613.4 1431.2l0.9 -0.4M1962.5 1340.6l-0.8 -1.3M1642.0 1353.8l0.4 -1.4M1982.5 1453.1l0.5 -4.0M1987.0 1440.5l0.0 -1.0M1674.9 1538.9l-2.1 2.2M1862.2 1676.7l-0.0 -0.0M1881.6 1621.0l1.5 0.2M1677.0 1369.3l-3.9 -0.8M1779.1 1352.6l1.0 0.1M1986.7 1663.9l0.5 0.8M1979.6 1494.2l0.0 0.0M1758.9 1427.7l1.5 0.3M1594.1 1434.0l0.0 0.0M1635.1 1503.0l1.0 0.3M1637.9 1504.5l2.6 1.5M1618.9 1552.8l1.2 0.8M1833.5 1638.3l-3.9 -0.8M1863.8 1604.7l-0.0 0.0M1995.7 1568.6l0.8 0.6M1646.1 1558.7l-0.0 0.0M1925.8 1673.9l-3.0 0.4M1707.8 1634.0l-0.0 0.0M1673.4 1393.5l-2.3 -3.3M1593.0 1457.7l1.4 0.4M1798.3 1586.0l0.6 -1.4M1796.3 1582.2l-1.8 -2.4M1757.7 1358.2l0.8 -0.6M1753.2 1564.7l-0.0 -0.0M1787.4 1496.5l-0.0 0.0M1913.0 1715.4l1.3 0.7M1686.2 1647.2l2.4 -1.8M1708.8 1610.6l0.8 -0.6M1976.7 1513.3l1.0 -0.1M1711.5 1453.2l0.9 0.4M1898.9 1601.4l-0.0 -0.0M1667.1 1356.3l0.0 -1.0M1686.3 1564.5l-1.0 -0.1M1964.7 1335.1l-0.0 -0.0M1888.9 1562.2l-3.0 -0.4M1748.0 1612.0l-0.0 -0.0M1740.8 1697.0l0.0 -0.0M1664.3 1476.0l-0.2 4.0M1950.2 1334.1l-0.0 -0.0M1888.6 1584.0l0.2 2.0M1969.6 1688.7l-0.3 3.0M1798.3 1566.7l0.6 0.8M1857.8 1616.9l-0.0 0.0M1882.6 1547.9l-0.0 0.0M1898.9 1476.7l0.2 -3.0M1614.2 1439.0l-0.4 0.9M1666.9 1522.5l-1.9 -2.3M1782.3 1473.6l0.6 -0.8M1640.8 1659.8l-0.0 0.0M1880.1 1329.0l-0.7 1.9M1792.1 1548.5l-0.0 0.0M1644.3 1546.1l2.0 -0.3M1761.2 1469.2l1.5 0.2M1599.1 1591.6l1.5 0.1M1792.3 1571.1l-2.4 3.2M1872.8 1620.6l-0.0 0.0M1921.0 1705.8l2.8 -1.1M1927.2 1699.8l0.7 -1.4M1693.6 1649.4l-0.0 -0.0M1885.3 1342.8l-0.9 -0.5M1785.7 1499.9l4.0 0.5M1986.4 1340.3l-0.0 0.0M1994.2 1371.6l1.7 2.5M1804.3 1635.7l-1.5 1.3M1809.9 1573.6l-3.7 -1.4M1961.5 1415.5l-0.0 0.0M1787.6 1339.7l-0.0 0.0M1752.1 1541.1l0.8 -1.3M1611.9 1700.7l0.9 0.4M1759.6 1471.4l0.4 -4.0M1658.0 1682.5l0.8 -0.5M1620.5 1466.1l0.6 0.8M1809.2 1394.5l-0.0 0.0M1687.7 1510.8l-0.9 -0.4M1911.1 1543.0l0.0 0.0M1877.4 1642.7l-1.3 -2.7M1712.5 1646.0l1.3 0.7M1692.3 1642.7l1.4 -0.5M1818.0 1353.5l-1.6 -1.2M1648.5 1445.2l-0.7 1.9M1644.1 1449.9l-1.1 1.0M1726.7 1594.7l-0.8 0.6M1726.6 1597.6l0.3 3.0M1776.3 1721.2l0.0 0.0M1692.1 1467.2l-1.5 0.4M1904.0 1599.3l0.0 -0.0M1889.1 1491.1l1.1 -1.0M1942.8 1600.7l-1.5 -1.3M1878.5 1684.5l-0.9 1.2M1960.2 1579.2l1.2 -0.9M1875.2 1502.8l-1.3 -1.5M1891.4 1370.8l1.2 -2.7M1768.9 1586.9l0.0 0.0M1897.2 1328.5l0.0 -0.0M1824.8 1403.7l0.0 -0.0M1888.3 1485.1l-0.0 -0.0M1934.7 1611.7l1.1 1.7M1778.7 1680.1l-0.0 0.0"/><path stroke="#484848" stroke-width="2" d="M1902.7 1424.7l0.9 1.8M1764.0 1460.3l-1.1 -1.7M1736.7 1325.9l0.9 0.4M1845.5 1546.2l1.6 2.5M1822.5 1535.7l-2.6 3.0M1888.9 1600.5l0.0 -0.0M1676.8 1406.3l1.3 -1.5M1662.0 1606.2l-0.6 0.8M1984.1 1459.7l-1.0 0.1M1982.4 1463.0l-0.5 1.4M1709.2 1595.8l2.9 0.8M1629.7 1604.3l2.4 1.8M1995.0 1435.5l3.8 -1.2M1999.0 1443.8l-0.0 0.0M1800.5 1697.4l-2.9 0.8M1823.7 1529.5l-1.5 -0.1M1640.7 1451.3l-0.2 -2.0M1897.8 1666.9l-0.4 2.0M1963.6 1489.6l-3.6 -1.7M1916.5 1406.4l-0.0 -0.0M1687.7 1558.1l0.4 -1.4M1968.6 1639.3l3.9 0.7M1736.2 1410.0l0.0 -0.0M1775.6 1569.8l-0.5 1.9M1644.2 1707.4l1.2 -1.6M1836.1 1677.2l-0.0 -0.0M1831.0 1674.8l-1.8 -0.9M1885.2 1408.9l0.0 -0.0M1628.5 1515.6l1.0 -0.3M1947.4 1436.3l1.4 0.4M1953.9 1434.2l0.0 -0.0M1721.3 1320.9l-2.4 1.8M1616.3 1426.5l0.7 -1.3M1778.6 1357.1l0.0 0.0M1601.0 1694.3l-1.5 0.2M1879.1 1352.8l-1.4 0.4M1724.7 1650.5l-1.5 2.6M1884.2 1622.7l2.3 1.9M1966.6 1655.5l1.3 2.7M1715.9 1464.5l0.0 0.0M1820.5 1707.1l-0.0 0.0M1641.4 1437.2l-1.1 -1.7M1882.5 1576.2l0.0 -0.0M1625.5 1570.7l1.4 -3.7M1991.5 1565.1l0.0 -0.0M1705.5 1639.1l-0.0 0.0M1765.3 1660.1l0.0 -0.0M1735.2 1523.1l-0.0 -0.0M1751.7 1575.7l2.8 -2.9M1909.4 1658.2l-1.0 -0.1M1894.9 1666.1l-1.0 -0.2M1774.9 1468.2l-1.0 -0.0M1667.7 1359.8l-1.2 -0.8M1842.0 1503.4l-0.4 1.4M1846.8 1717.5l-0.8 0.6M1607.1 1491.0l-0.0 -0.0M1664.1 1468.3l-1.0 1.7M1889.4 1459.2l0.0 0.0M1870.4 1398.0l-0.3 -1.0M1710.4 1548.4l0.0 -0.0M1713.2 1549.3l2.9 0.9M1719.1 1547.5l1.8 -0.9M1717.8 1445.3l1.5 2.6M1722.6 1448.1l3.8 1.3M1726.8 1451.2l0.7 0.7M1641.9 1466.6l-3.7 -1.6M1592.4 1636.2l-0.0 0.0M1604.6 1591.7l3.0 -0.0M1667.3 1434.5l-0.0 0.0M1923.7 1704.5l3.4 -2.1M1701.4 1418.8l0.0 0.0M1871.5 1711.9l0.0 -0.0M1889.8 1430.7l-2.6 -1.5M1966.4 1511.4l0.0 -0.0M1932.8 1395.6l-1.9 2.3M1603.5 1442.2l-0.9 -0.3M1647.4 1553.2l0.1 1.0M1741.0 1388.8l0.0 0.0M1790.8 1401.8l-0.0 1.0M1788.8 1405.8l-0.0 0.0M1865.6 1699.8l0.0 0.0M1867.6 1362.0l0.8 -1.3M1630.7 1697.5l0.0 -0.0M1633.3 1691.7l1.2 -0.9M1978.6 1466.0l-0.9 1.8M1850.4 1372.1l0.9 -0.5M1777.8 1551.1l-1.4 -1.4M1876.4 1322.4l3.4 -2.2M1706.9 1643.4l1.4 -0.6M1713.9 1343.6l-2.8 -2.9M1741.9 1335.0l0.0 -0.0M1875.5 1350.0l-1.5 -3.7M1951.3 1535.2l1.0 -0.2M1743.0 1380.7l3.1 -2.5M1740.9 1590.9l-1.9 0.7M1716.2 1451.7l-0.2 1.5M1895.8 1441.3l-0.0 -0.0M1895.6 1596.0l-0.0 0.0M1846.3 1520.5l-2.0 -0.3M1793.1 1343.8l1.7 -1.1M1764.9 1435.1l-0.0 0.0M1980.9 1462.6l-2.1 2.1M1807.9 1419.7l0.5 -3.0M1629.2 1488.0l1.0 -0.0M1632.4 1541.4l-0.5 -0.9M1946.0 1563.5l0.0 0.0M1990.5 1504.4l1.2 -1.6M1809.9 1361.6l3.0 0.5M1828.0 1515.6l-1.3 -0.8M1892.8 1367.4l1.1 -2.8M1880.7 1325.4l1.1 -1.7"/><path stroke="#484848" stroke-width="3" d="M1905.7 1425.9l4.0 0.5M1790.4 1474.1l-2.0 -0.3M1742.4 1607.8l3.6 -1.7M1845.5 1328.6l0.8 -1.2M1732.9 1324.4l0.0 0.0M1845.1 1344.4l0.0 0.0M1599.8 1645.7l3.9 0.9M1604.9 1647.6l2.7 1.3M1817.3 1361.1l-3.0 -0.2M1970.1 1546.6l-3.5 1.9M1675.8 1480.8l-0.0 -0.0M1685.5 1326.5l3.4 2.1M1669.0 1409.4l1.6 -1.1M1596.5 1386.4l0.0 0.0M1670.0 1335.3l1.8 0.8M1957.6 1347.7l-0.0 -0.0M1680.8 1626.0l-0.0 -0.0M1835.4 1396.0l1.0 0.3M1796.8 1359.1l-3.9 0.8M1622.1 1382.4l-3.2 -2.5M1810.2 1515.6l-0.0 0.0M1857.5 1524.9l0.0 -0.0M1697.5 1597.2l3.5 -1.9M1851.5 1571.1l-1.0 0.0M1979.6 1666.6l2.1 2.1M1626.6 1599.6l-1.4 3.8M1841.7 1599.7l1.4 0.4M1845.5 1445.0l1.5 1.4M1821.9 1526.0l-0.8 -2.9M1859.3 1587.1l-0.3 0.9M1844.9 1661.7l-2.5 3.2M1676.9 1428.5l0.0 -0.0M1597.5 1351.7l0.7 -1.9M1925.0 1666.9l-0.0 -0.0M1976.1 1648.0l0.8 0.6M1723.3 1404.3l-2.0 0.2M1631.9 1636.5l0.8 -3.9M1764.5 1390.3l-0.0 -0.0M1609.9 1371.6l-0.4 -0.9M1968.9 1372.6l-0.0 0.0M1963.7 1372.8l-0.0 0.0M1900.4 1513.8l2.2 3.4M1752.1 1327.0l-0.2 1.0M1847.0 1459.8l-1.2 -1.6M1709.0 1643.2l-0.0 -0.0M1773.4 1718.6l0.0 -0.0M1770.8 1533.3l0.5 -0.8M1775.0 1530.6l1.7 -1.0M1624.4 1516.7l0.0 0.0M1942.7 1434.9l0.0 0.0M1831.5 1341.1l-2.0 -0.1M1823.4 1412.6l-0.3 3.0M1819.3 1417.9l-1.1 1.0M1863.0 1681.0l-0.9 -0.5M1784.8 1351.5l1.0 -0.2M1983.7 1493.0l1.4 -0.4M1590.5 1425.4l2.9 0.7M1644.4 1440.0l-3.0 -0.5M1642.7 1432.4l0.4 -0.9M1711.3 1418.9l-0.0 -0.0M1699.5 1334.9l-1.9 3.5M1697.7 1340.5l-0.8 3.9M1736.9 1389.1l-1.1 -1.7M1878.2 1579.3l-0.3 -2.0M1918.5 1563.0l2.9 -2.8M1622.4 1425.7l-0.0 -0.0M1718.5 1669.4l0.0 -0.0M1889.7 1573.8l1.0 -0.1M1828.1 1433.6l-0.3 -1.0M1931.5 1672.6l-0.8 1.2M1743.6 1431.9l0.0 -0.0M1842.2 1629.9l-3.4 2.0M1671.1 1400.3l0.0 -0.0M1754.6 1636.9l-2.3 1.9M1628.1 1707.6l-1.5 -0.3M1741.0 1514.1l0.9 -0.4M1715.3 1328.2l1.8 -0.8M1815.7 1574.3l0.6 -1.9M1712.9 1438.6l-1.0 -0.1M1709.3 1604.5l0.0 -1.0M1982.8 1668.3l-1.2 0.9M1773.3 1466.5l-2.2 -3.3M1666.9 1352.2l-0.2 -4.0M1972.9 1647.6l0.0 0.0M1915.8 1376.4l0.6 -0.8M1969.1 1338.6l0.1 -1.0M1800.0 1474.3l-0.0 -0.0M1898.4 1562.1l-1.5 2.6M1648.0 1455.0l0.0 0.0M1825.5 1481.6l-1.8 -0.8M1719.7 1408.2l-1.3 -2.7M1943.9 1324.0l0.9 -1.2M1990.4 1653.6l-1.3 -2.7M1897.6 1588.6l0.0 0.0M1596.5 1636.6l-2.6 -3.1M1968.0 1614.5l2.0 -2.2M1750.2 1686.2l1.4 -1.4M1621.2 1661.9l-4.0 -0.4M1808.4 1638.6l1.4 0.4M1872.4 1404.1l-0.0 -0.0M1644.3 1654.0l-2.5 1.7M1881.1 1324.6l0.9 1.2M1788.7 1546.0l-1.6 -1.2M1673.2 1675.4l2.5 1.7M1728.1 1704.3l0.6 -0.8M1625.8 1394.7l-0.7 1.9M1625.2 1399.6l-0.0 0.0M1827.7 1632.3l1.6 3.7M1958.4 1716.8l-0.0 0.0M1888.4 1475.8l-0.0 0.0M1958.7 1351.6l1.0 -0.3M1887.3 1582.1l-1.4 0.4M1610.7 1646.6l0.0 -0.0M1942.8 1528.4l1.6 -2.5M1888.3 1589.0l-0.5 -0.8M1883.8 1589.5l-3.9 0.9M1764.4 1637.6l0.6 0.8M1934.5 1393.5l-0.0 0.0M1670.1 1504.7l-3.2 -2.4M1990.3 1578.4l-0.0 0.0M1726.3 1489.9l-0.8 0.6M1777.4 1484.1l0.5 -1.4M1940.8 1338.2l-1.6 -1.3M1938.0 1334.4l-0.0 -0.0M1974.3 1552.2l0.2 1.0M1661.1 1688.4l-0.2 2.0M1840.0 1563.2l0.7 -0.7M1625.0 1470.5l0.0 0.0M1844.3 1374.7l0.9 0.5M1917.0 1460.5l-0.3 2.0M1776.2 1664.0l-1.4 0.6M1772.2 1664.4l-4.0 0.0M1773.3 1353.7l4.0 -0.3M1892.4 1375.2l1.2 -2.8M1607.8 1451.1l1.4 0.5M1738.3 1359.2l2.9 -0.8M1908.9 1671.6l-0.0 0.0M1622.5 1633.9l-0.0 0.0M1600.5 1573.2l1.7 -1.0M1941.8 1476.6l-2.0 0.0M1725.9 1399.2l1.8 -0.8M1902.9 1441.8l-4.0 0.4M1990.9 1425.8l-0.6 2.9M1735.7 1431.0l-1.0 -1.8M1883.2 1499.1l-0.9 -1.2M1954.6 1458.1l0.0 0.0M1801.1 1345.3l2.2 2.0M1596.5 1635.0l0.0 0.0M1877.2 1374.8l-2.6 1.5M1776.2 1382.1l-3.8 1.2M1852.6 1348.2l1.3 -0.8M1859.9 1350.0l0.0 0.0M1784.2 1327.0l0.0 0.0M1876.6 1589.8l2.5 -3.1M1784.6 1699.6l1.3 0.7M1878.0 1689.5l-0.0 1.5M1882.8 1694.7l0.0 0.0M1932.6 1384.1l0.3 2.0M1748.2 1495.2l0.3 1.5M1769.9 1484.2l-0.0 0.0M1760.4 1505.9l-0.6 1.9M1861.7 1689.8l-0.0 0.0M1903.0 1592.1l2.7 2.9M1684.6 1391.4l-0.9 -0.5M1921.3 1669.8l-0.4 -2.0M1973.3 1635.8l-1.0 1.1M1913.5 1558.0l1.9 0.7M1940.3 1422.2l0.0 -0.0M1791.7 1436.4l2.1 3.4M1759.8 1334.5l-1.7 1.0M1774.3 1680.4l-3.0 0.2"/><path stroke="#585858" stroke-width="2" d="M1590.9 1590.8l1.0 1.7M1767.7 1440.7l0.4 -2.0M1783.3 1419.6l0.8 -0.5M1810.7 1603.0l-1.0 -3.9M1844.9 1550.8l-0.0 0.0M1612.9 1646.8l0.0 -0.0M1725.2 1412.9l0.8 0.6M1649.8 1381.8l1.4 -1.5M1735.6 1708.4l0.0 -0.0M1882.4 1607.2l1.5 2.6M1953.0 1346.8l-1.5 -0.3M1677.8 1617.1l-0.3 -0.9M1705.3 1379.8l-0.9 -1.8M1954.2 1404.8l-0.7 -0.7M1773.9 1639.7l0.6 -1.9M1967.9 1493.2l0.3 -3.0M1959.6 1488.7l-3.0 -0.2M1832.0 1596.5l-0.0 0.0M1820.5 1515.7l-0.2 1.0M1681.1 1420.7l-0.1 -3.0M1678.2 1416.1l-0.0 -0.0M1989.3 1692.0l0.0 -0.0M1667.6 1413.1l-2.5 3.1M1924.4 1558.3l0.0 -0.0M1626.1 1422.0l0.7 -0.7M1629.2 1568.9l3.0 0.1M1745.8 1434.5l1.3 1.6M1773.5 1571.2l-0.9 0.5M1595.9 1458.0l3.0 0.1M1640.5 1558.2l-0.0 -0.0M1985.9 1542.6l-0.0 -0.0M1601.7 1708.8l-1.7 -1.0M1944.4 1572.8l-0.5 -0.9M1708.8 1438.3l-1.5 -0.1M1695.5 1693.9l1.5 -2.6M1653.0 1515.8l-1.0 -0.1M1847.4 1660.1l0.6 -1.4M1769.6 1474.5l1.2 0.9M1635.3 1461.3l-0.0 -0.0M1595.9 1629.9l-0.7 0.7M1830.9 1365.1l1.3 0.8M1831.2 1368.0l-0.4 3.0M1745.2 1662.5l0.0 0.0M1937.1 1643.7l-0.0 0.0M1718.3 1637.6l-2.2 -3.4M1615.8 1644.1l1.8 -0.9M1649.6 1687.1l0.0 0.0M1953.6 1530.3l1.9 0.7M1819.3 1695.5l-1.7 -2.5M1625.5 1680.4l-4.0 -0.2M1790.0 1336.2l0.5 0.9M1864.1 1524.7l0.0 0.0M1718.4 1380.1l1.0 0.3M1778.8 1661.3l-0.7 -0.7M1858.5 1695.7l1.1 3.8M1969.1 1524.8l1.0 0.3M1890.4 1379.7l0.0 -0.0M1812.0 1604.5l2.6 -1.5M1702.9 1372.0l-2.0 0.1M1698.8 1368.9l-0.0 -0.0M1772.7 1387.2l-0.0 0.0M1973.6 1468.9l-1.5 2.6M1794.7 1433.0l1.2 -2.7M1793.8 1430.0l-2.7 -2.9M1934.8 1658.8l-0.4 -3.0M1724.3 1478.0l-0.0 -0.0M1725.7 1318.6l-2.2 -2.1M1789.7 1427.6l0.0 0.0M1776.1 1625.5l-2.6 3.0M1761.8 1501.2l-0.0 0.0M1862.4 1693.2l0.2 1.0M1909.5 1556.5l0.0 0.0"/><path stroke="#585858" stroke-width="3" d="M1589.4 1575.0l-1.5 -0.1M1710.0 1482.9l0.0 0.0M1631.7 1650.7l1.9 0.7M1811.2 1604.8l-0.0 -0.0M1755.7 1699.6l1.0 -0.0M1847.0 1589.0l-2.4 -3.2M1741.6 1327.5l3.8 1.2M1866.2 1637.0l1.0 -0.0M1745.0 1423.0l-1.9 -0.6M1740.8 1420.9l-0.0 -0.0M1852.7 1337.8l-1.9 -2.3M1725.7 1543.9l-1.0 -0.2M1656.5 1324.4l-2.9 -2.8M1971.8 1451.1l-0.8 1.8M1811.7 1569.2l0.0 0.0M1701.8 1374.4l-3.7 -1.6M1968.5 1496.1l-3.3 2.2M1958.2 1408.9l-1.1 -1.1M1814.8 1490.2l2.3 2.0M1798.5 1410.4l-0.1 1.5M1852.5 1667.9l-0.7 1.4M1898.9 1511.0l0.4 1.4M1781.4 1635.0l0.9 0.3M1832.0 1666.1l2.8 -2.9M1593.4 1562.2l3.7 -1.5M1761.0 1453.4l1.0 -1.1M1818.2 1676.4l0.9 -0.5M1869.2 1504.5l0.0 0.0M1869.0 1511.7l-0.0 0.0M1683.0 1425.7l-3.7 -1.6M1825.9 1620.5l-0.0 0.0M1702.7 1418.3l-3.0 0.4M1968.4 1347.3l-0.0 0.0M1610.5 1697.7l-3.6 -1.8M1672.3 1547.6l0.6 1.9M1722.6 1660.0l1.4 2.7M1918.9 1322.2l-0.0 0.0M1815.7 1504.0l3.0 -0.3M1767.2 1476.4l-0.0 -0.0M1714.0 1425.5l0.5 -1.9M1636.7 1415.0l0.0 -0.0M1680.9 1671.3l1.1 -2.8M1952.0 1363.8l-0.5 -1.9M1915.5 1350.1l2.0 0.2M1647.3 1562.6l0.3 1.0M1845.4 1627.5l0.2 1.0M1670.6 1642.7l-0.7 1.3M1829.4 1622.0l-0.0 0.0M1778.1 1568.4l-1.0 1.2M1932.1 1355.1l1.4 0.4M1854.7 1541.5l-1.7 -3.6M1685.6 1478.5l2.6 1.4M1683.1 1348.9l2.7 -3.0M1867.3 1520.7l1.1 1.0M1813.1 1449.1l1.3 0.8M1947.8 1402.6l-1.9 -0.7M1753.2 1570.0l0.0 -2.0M1705.0 1329.5l1.4 -1.4M1647.3 1692.3l1.2 -1.6M1906.3 1661.4l-2.5 3.1M1900.6 1666.6l-1.2 0.9M1782.7 1460.7l-0.4 3.0M1794.4 1322.3l0.0 -0.0M1793.4 1317.1l-0.4 -2.0M1962.0 1330.0l-0.0 -0.0M1823.0 1482.0l-3.6 1.8M1836.2 1341.9l-0.9 -1.2M1892.2 1564.0l-4.0 0.2M1992.3 1659.3l-0.1 -3.0M1933.5 1659.0l0.9 0.4M1815.1 1607.3l-0.0 -0.0M1702.8 1694.1l0.0 0.0M1611.0 1373.6l1.1 -1.0M1626.1 1661.1l-3.3 2.3M1833.7 1616.9l-0.3 4.0M1828.9 1621.6l-1.3 0.8M1898.8 1654.9l0.0 -0.0M1844.4 1665.1l2.0 -0.4M1660.9 1660.6l1.6 -1.2M1826.6 1534.5l0.4 0.9M1938.3 1625.5l-0.0 -1.0M1664.3 1437.2l-0.0 0.0M1889.3 1345.5l-1.1 -1.1M1820.5 1590.4l1.3 -1.5M1769.1 1655.6l-0.2 1.0M1821.4 1699.4l-0.2 -1.5M1959.9 1516.4l1.9 0.7M1754.9 1512.4l0.0 -0.0M1992.8 1376.7l-0.7 1.3M1938.4 1388.6l0.0 0.0M1956.3 1570.8l-0.0 -0.0M1646.8 1547.0l0.0 0.0M1865.4 1369.1l-0.0 -0.0M1843.4 1561.0l1.7 -1.0M1595.2 1359.0l-0.0 -0.0M1777.4 1547.3l0.3 -3.0M1745.8 1405.0l0.0 -0.0M1950.4 1597.9l0.0 -0.0M1694.8 1513.4l-4.0 -0.4M1760.1 1352.4l0.1 -2.0M1706.8 1527.3l0.0 -0.0M1783.2 1428.7l1.3 -3.8M1731.2 1633.3l-0.7 1.9M1641.5 1679.8l-0.0 0.0M1816.0 1367.7l1.3 0.7M1650.8 1440.3l-1.0 0.3M1774.0 1712.1l-1.7 2.5M1893.4 1444.1l-2.6 3.0M1618.4 1666.0l1.8 0.9M1601.3 1633.0l1.4 -0.6M1936.9 1598.8l-2.9 -0.7M1745.5 1720.9l-0.0 0.0M1786.2 1460.2l-0.9 1.2M1785.5 1464.8l-0.0 0.0M1811.9 1673.1l0.0 -0.0M1959.9 1418.2l0.0 -0.0M1958.8 1414.7l-0.3 -1.0M1817.5 1330.8l0.0 -0.0M1721.9 1313.7l-0.0 -0.0M1801.2 1633.9l0.9 -0.4M1637.7 1483.3l-2.8 -2.9M1631.9 1481.2l-1.5 -0.2M1877.9 1505.8l-0.0 -0.0M1637.7 1691.3l0.1 1.5M1916.6 1527.8l1.5 -0.2M1768.8 1580.7l-0.2 1.0M1810.0 1586.8l1.0 -0.0M1815.2 1585.1l3.8 -1.3M1760.1 1492.8l-0.5 0.9M1762.2 1495.9l0.0 0.0M1920.8 1389.1l-1.4 -2.7M1900.8 1588.3l-0.7 1.9M1883.6 1320.3l0.7 -1.3M1846.7 1558.5l-0.0 0.0M1768.8 1680.1l-0.0 -0.0"/><path stroke="#686868" stroke-width="2" d="M1689.2 1510.1l-1.8 -0.8M1867.6 1626.2l0.9 0.5M1712.7 1691.5l-1.5 0.4M1787.7 1418.3l1.0 -0.2M1964.5 1371.7l-2.7 3.0M1757.7 1708.8l-1.7 3.6M1770.3 1705.1l-0.0 0.0M1714.1 1477.5l-2.5 -3.1M1990.4 1446.2l2.9 0.9M1933.1 1417.6l-0.6 -1.4M1812.8 1574.1l-3.1 -2.5M1838.8 1487.9l-0.7 2.9M1696.1 1329.2l1.8 -0.8M1624.5 1384.5l-0.4 -0.9M1979.9 1671.2l-0.4 2.0M1989.1 1437.7l3.6 -1.7M1849.8 1446.4l0.0 0.0M1798.9 1404.8l0.0 0.0M1603.6 1678.8l3.1 -2.5M1610.7 1675.5l0.0 -0.0M1956.3 1492.7l-1.7 3.6M1861.1 1587.8l0.0 0.0M1673.6 1432.8l1.2 -1.6M1596.3 1550.8l0.0 -0.0M1829.9 1610.6l0.0 -0.0M1854.3 1661.4l0.7 3.9M1933.1 1431.0l-0.2 4.0M1632.6 1641.5l-2.8 -2.8M1615.2 1380.9l-1.1 -1.0M1613.1 1467.9l-0.4 -2.0M1595.9 1558.3l0.8 -3.9M1871.2 1508.4l0.5 0.9M1799.5 1376.8l-0.9 1.8M1982.9 1457.5l-1.8 -0.8M1671.3 1542.2l-1.1 1.0M1987.3 1667.9l0.1 1.0M1593.7 1428.9l0.7 1.3M1682.8 1665.0l0.0 -0.0M1870.1 1366.9l1.7 1.1M1667.3 1583.0l-0.0 -0.0M1785.9 1503.0l-0.0 0.0M1989.7 1608.1l0.6 -0.8M1678.6 1603.7l-1.4 1.5M1644.2 1444.4l4.0 0.6M1650.5 1445.2l2.0 0.3M1953.4 1475.1l1.2 -0.9M1935.2 1358.2l1.0 1.2M1895.5 1401.1l0.2 1.0M1983.6 1541.0l-3.3 -2.3M1683.7 1655.5l0.0 -0.0M1679.7 1650.6l-0.6 -0.8M1689.7 1639.8l0.0 -0.0M1789.9 1600.0l0.6 -2.9M1696.4 1711.4l0.4 1.5M1895.7 1563.1l-4.0 -0.5M1816.4 1485.0l-1.4 0.6M1609.8 1495.8l-2.9 -2.8M1665.6 1465.5l0.0 0.0M1604.7 1639.0l-1.4 0.5M1984.6 1464.0l-0.0 -0.0M1664.3 1659.1l1.4 -0.5M1974.9 1663.2l-0.0 0.0M1915.6 1637.5l-3.5 1.9M1915.8 1651.7l0.5 0.8M1766.1 1471.9l2.5 1.6M1957.6 1442.7l-1.0 -0.0M1700.6 1421.2l-0.9 2.9M1845.5 1343.1l-1.1 1.7M1867.4 1717.3l1.0 0.2M1763.8 1621.1l-0.6 4.0M1783.0 1341.9l-0.0 0.0M1801.5 1467.5l-0.0 -0.0M1861.5 1528.2l-1.2 1.6M1866.1 1364.4l0.0 -0.0M1903.0 1478.1l-0.0 0.0M1802.4 1396.2l-0.0 0.0M1981.5 1565.4l0.7 -1.3M1628.3 1630.3l-1.4 0.6M1937.3 1480.6l-0.0 0.0M1698.9 1643.1l2.0 0.2M1605.9 1630.7l1.3 -0.7M1768.5 1433.2l-1.4 -0.6M1870.2 1375.9l-0.0 0.0M1609.5 1535.0l2.6 1.4M1878.2 1520.7l0.8 2.9M1883.9 1699.2l0.5 1.9M1632.4 1362.1l0.0 -0.0M1628.7 1540.5l-3.0 -0.5M1940.5 1562.6l0.0 0.0M1764.5 1590.5l-0.0 0.0M1972.4 1639.5l-0.2 1.0M1971.2 1335.4l-1.8 2.4M1971.7 1342.8l0.0 0.0"/><path stroke="#686868" stroke-width="3" d="M1683.5 1509.5l-1.5 -0.0M1896.9 1429.0l0.0 0.0M1707.6 1478.0l0.0 0.0M1712.8 1665.9l-2.8 1.2M1705.4 1665.1l-0.0 -0.0M1765.6 1464.1l0.6 -1.4M1758.6 1702.3l0.7 0.7M1842.3 1584.0l-2.9 -2.8M1835.3 1333.4l3.8 -1.2M1630.4 1471.6l-0.1 -2.0M1664.4 1604.8l0.4 -0.9M1767.6 1707.2l-1.6 1.2M1651.2 1623.3l0.3 -0.9M1940.1 1410.5l0.8 -0.7M1938.9 1513.4l1.8 0.8M1925.8 1540.8l2.0 2.2M1674.4 1409.1l0.0 0.0M1729.9 1710.4l2.7 1.3M1789.7 1639.0l-0.0 -0.0M1680.1 1442.9l-0.9 -3.9M1656.1 1339.2l-0.4 -1.4M1665.2 1333.5l1.0 -0.2M1858.5 1617.0l-0.1 2.0M1828.3 1657.2l0.0 -0.0M1719.2 1542.8l-3.6 -1.8M1659.1 1326.7l-0.9 -0.4M1791.5 1355.9l-1.0 -1.1M1622.6 1462.5l0.0 0.0M1965.3 1499.8l-0.5 0.9M1885.6 1688.6l0.0 0.0M1917.7 1545.0l0.2 2.0M1775.2 1635.2l0.0 -0.0M1999.1 1436.2l3.4 2.1M1798.0 1704.1l-0.0 0.0M1796.3 1709.7l-0.6 1.9M1795.6 1401.3l2.9 0.6M1982.5 1338.3l-0.0 0.0M1666.0 1647.1l-0.0 -0.0M1615.7 1373.5l0.0 0.0M1619.1 1382.7l-0.1 3.0M1616.8 1386.8l-1.3 1.5M1744.9 1351.2l-1.5 0.2M1665.5 1453.9l0.0 0.0M1735.3 1399.9l-0.8 1.3M1737.8 1404.1l0.0 0.0M1592.7 1554.8l4.0 -0.1M1972.4 1644.4l1.1 2.8M1822.8 1519.9l1.6 2.5M1850.0 1450.0l1.2 -2.8M1919.7 1577.0l-3.7 1.6M1711.8 1647.9l-2.9 -0.9M1897.2 1350.9l0.0 -0.0M1885.0 1422.1l0.3 -2.0M1823.2 1675.0l3.9 -0.9M1675.0 1411.8l-0.0 -0.0M1826.5 1509.6l3.1 2.5M1949.4 1481.4l1.5 -0.2M1713.2 1468.7l-2.1 3.4M1963.1 1571.9l-1.5 -2.6M1740.9 1393.4l-1.9 0.5M1962.1 1319.7l0.8 0.6M1970.2 1324.4l1.4 3.7M1860.3 1480.7l0.0 0.0M1907.4 1355.4l1.2 -3.8M1911.7 1412.3l-0.7 -0.7M1720.1 1677.6l0.5 -1.4M1715.9 1666.9l-1.4 -1.4M1654.9 1449.0l2.0 2.2M1672.2 1639.1l-0.5 1.9M1828.3 1626.5l-0.5 1.9M1771.1 1569.7l-3.0 -2.6M1763.5 1384.9l0.0 0.0M1669.7 1405.9l-0.0 -0.0M1896.6 1392.8l0.2 1.5M1603.1 1488.2l-0.3 4.0M1757.6 1635.0l-1.5 0.1M1970.2 1644.8l2.6 3.1M1973.6 1649.3l1.7 2.4M1869.2 1524.5l0.4 0.9M1674.5 1651.6l-0.0 0.0M1898.1 1446.3l-2.2 -3.3M1644.5 1695.8l0.0 0.0M1694.9 1706.7l1.1 1.1M1705.2 1550.8l0.7 1.9M1707.4 1450.8l-0.1 1.5M1779.6 1467.4l-1.0 1.7M1699.6 1569.5l-2.9 0.9M1694.6 1568.6l-1.9 -0.7M1691.8 1565.0l-0.0 -0.0M1683.6 1496.3l0.0 -0.0M1679.1 1412.9l1.6 -1.2M1803.3 1329.2l-0.6 1.4M1618.0 1464.5l0.3 -2.0M1721.9 1412.6l-0.5 -0.9M1816.0 1670.9l-0.0 -0.0M1815.5 1666.3l-0.4 -3.0M1925.3 1666.9l0.0 -0.0M1834.3 1650.4l-2.8 2.9M1600.6 1640.1l-1.9 0.5M1878.5 1548.8l-1.0 0.2M1638.9 1463.2l0.0 0.0M1669.1 1658.0l0.0 -0.0M1754.0 1687.2l0.0 -0.0M1851.3 1471.2l2.5 -1.6M1775.1 1479.6l0.3 -2.0M1676.5 1391.3l1.0 0.3M1825.0 1529.8l0.3 3.0M1604.1 1594.2l-0.0 0.0M1595.2 1591.4l1.0 0.1M1958.5 1726.2l0.1 1.0M1648.6 1474.6l1.7 1.1M1747.6 1667.5l1.3 2.7M1883.4 1329.6l3.0 0.2M1730.0 1573.1l0.4 1.4M1734.7 1575.4l0.0 0.0M1884.8 1429.9l-0.0 -0.0M1824.8 1587.7l0.0 -0.0M1949.5 1528.6l0.0 0.0M1963.0 1515.2l1.6 -1.2M1750.2 1516.9l2.0 -3.5M1866.6 1415.9l3.3 -2.3M1873.2 1410.7l0.0 -0.0M1764.6 1627.2l1.0 3.9M1762.3 1633.0l-0.9 1.2M1739.5 1525.0l-0.0 0.0M1733.9 1523.5l-0.0 -0.0M1623.7 1703.9l0.7 1.3M1740.6 1383.5l-2.9 2.8M1723.5 1493.0l-1.3 1.5M1779.2 1477.9l0.3 -1.0M1932.2 1333.3l-0.0 -0.0M1687.3 1672.4l0.0 -0.0M1862.8 1691.8l-3.8 -1.3M1758.6 1475.7l1.1 -1.0M1785.5 1477.1l1.1 -1.1M1972.4 1521.9l0.7 -0.7M1756.3 1338.9l-0.0 -0.0M1887.9 1369.3l-3.8 -1.3M1672.5 1458.9l-0.0 -0.0M1602.3 1449.0l0.0 0.0M1630.2 1707.7l-1.5 -0.0M1945.7 1527.0l0.1 -3.0M1814.2 1356.8l-4.0 0.2M1811.2 1365.0l0.0 0.0M1815.0 1347.9l-0.4 -0.9M1822.2 1410.0l-0.0 -0.0M1721.3 1387.9l-3.1 -2.6M1815.5 1674.7l1.2 -1.6M1731.1 1428.5l-1.9 -0.7M1615.8 1663.6l-0.1 2.0M1657.9 1446.5l-0.0 0.0M1853.1 1511.1l1.4 0.6M1806.0 1346.2l2.0 -0.0M1774.3 1388.4l3.1 2.5M1930.4 1648.5l-1.9 -3.5M1753.3 1374.9l-0.0 0.0M1950.5 1481.6l-0.0 -0.0M1636.6 1686.8l1.7 2.4M1854.4 1540.9l-0.9 -1.2M1848.2 1539.4l-2.0 -0.3M1768.1 1488.3l-1.6 3.7M1823.4 1407.9l1.4 -1.4M1688.3 1395.2l0.7 -2.9M1887.3 1482.3l-0.5 -1.4M1785.8 1507.3l-4.0 -0.2M1627.0 1566.6l0.5 -3.0M1831.3 1396.8l1.6 -1.2M1766.6 1676.0l-0.0 -0.0"/><path stroke="#787878" stroke-width="2" d="M1629.1 1674.5l0.7 0.7M1806.7 1630.5l0.8 0.6M1842.1 1333.6l0.0 0.0M1628.4 1468.3l-1.3 -1.5M1882.0 1502.0l0.0 0.0M1648.9 1628.7l1.4 -1.4M1895.9 1436.8l-0.4 3.0M1922.9 1537.6l0.0 0.0M1980.6 1466.4l-2.9 0.6M1972.7 1467.4l-2.7 -1.3M1724.9 1386.3l0.0 -0.0M1732.4 1464.3l-1.4 0.4M1659.9 1334.6l0.0 -0.0M1755.5 1690.1l-0.0 0.0M1880.0 1603.5l0.8 0.6M1720.9 1543.7l-0.0 -0.0M1616.5 1380.3l-1.0 -0.2M1924.5 1379.6l3.2 -2.4M1611.3 1520.3l1.9 -3.5M1618.8 1378.4l0.8 1.3M1824.7 1666.4l-0.0 -0.0M1702.8 1460.6l-3.1 2.5M1832.0 1334.6l0.0 -2.0M1651.3 1665.1l-2.8 1.0M1986.3 1446.5l1.2 -1.6M1595.0 1522.9l0.4 2.0M1598.0 1527.5l2.5 3.1M1752.5 1426.7l1.0 -0.2M1640.4 1616.3l0.0 -0.0M1967.7 1320.6l2.0 0.2M1736.9 1417.9l0.0 -0.0M1829.8 1439.1l-0.7 -0.7M1773.3 1699.7l3.0 -0.2M1680.4 1601.7l-0.0 0.0M1736.1 1517.1l0.2 -1.5M1788.1 1497.9l1.8 3.6M1695.7 1638.0l1.0 -0.3M1645.6 1684.3l-1.7 -2.4M1886.4 1564.6l-1.0 0.1M1943.3 1333.6l-0.0 -0.0M1926.8 1662.6l0.7 -1.9M1756.6 1677.5l0.3 -1.0M1660.7 1519.9l-1.9 -0.5M1675.1 1658.3l1.0 0.0M1656.3 1430.7l0.7 1.3M1671.2 1390.2l2.0 -0.1M1731.9 1703.3l3.9 -0.6M1824.9 1537.8l-1.1 1.7M1749.2 1646.0l1.1 -1.0M1729.2 1567.4l-1.3 1.5M1717.4 1363.6l0.4 1.5M1861.5 1532.1l0.3 1.5M1728.1 1601.6l-3.0 0.3M1770.3 1353.2l1.5 1.4M1891.5 1371.0l-0.7 -1.3M1819.8 1670.7l0.0 -0.0M1885.6 1494.2l0.6 -0.8M1622.0 1413.6l-1.4 1.4M1876.2 1411.4l0.2 1.5M1705.2 1475.4l-4.0 0.2M1754.4 1368.3l1.8 3.6M1827.9 1368.5l0.6 0.8M1805.7 1629.8l1.4 -1.4M1641.0 1486.8l-0.0 -0.0M1913.3 1527.4l0.8 1.3M1922.0 1530.6l0.0 0.0M1770.0 1628.3l-1.4 0.4M1931.0 1513.2l-1.5 2.6"/><path stroke="#787878" stroke-width="3" d="M1785.4 1473.9l-0.0 -0.0M1887.7 1424.7l0.0 0.0M1898.4 1453.4l1.2 2.8M1806.5 1634.2l-0.7 3.9M1779.2 1422.4l0.5 -0.8M1963.1 1377.4l-0.0 2.0M1667.2 1503.7l0.0 0.0M1670.1 1505.2l3.5 1.9M1626.7 1461.1l-0.0 -0.0M1666.9 1602.4l1.2 -0.9M1840.5 1544.0l-0.0 -0.0M1688.3 1482.4l-0.0 0.0M1888.5 1716.9l-1.6 -3.6M1834.6 1490.1l-0.0 0.0M1720.3 1408.1l0.2 1.5M1690.7 1331.5l0.0 0.0M1888.6 1595.5l-0.1 -2.0M1675.6 1438.6l-1.7 -1.0M1757.1 1682.4l2.5 3.1M1947.1 1345.1l-1.0 -0.3M1680.0 1623.5l-1.0 -2.8M1789.2 1349.6l-0.4 -1.4M1861.2 1525.0l0.0 0.0M1816.1 1570.2l2.0 0.4M1933.1 1446.3l-1.5 0.3M1659.6 1408.4l1.7 -1.1M1912.6 1384.9l3.0 -0.0M1887.6 1689.2l2.9 0.9M1663.6 1325.1l-2.0 -0.2M1843.3 1442.5l0.0 1.0M1804.9 1694.8l-0.8 2.9M1798.2 1416.7l-0.0 0.0M1898.5 1672.4l0.0 0.0M1693.4 1549.7l0.0 -0.0M1728.7 1404.1l-1.4 -0.5M1618.1 1382.8l-1.5 -0.3M1612.1 1377.0l-0.6 -0.8M1615.0 1472.8l-1.9 -0.6M1708.2 1638.0l-0.0 -0.0M1884.9 1415.9l-0.0 -0.0M1825.7 1671.8l0.3 -1.5M1835.2 1618.0l-0.0 0.0M1824.1 1623.0l-1.2 1.6M1690.0 1564.7l-0.0 -0.0M1646.7 1349.7l0.0 -0.0M1721.7 1655.4l-1.6 2.5M1823.6 1410.5l0.0 0.0M1922.7 1324.2l0.0 0.0M1823.1 1508.1l3.9 0.8M1668.0 1420.0l0.4 1.4M1823.5 1711.2l1.2 1.6M1642.6 1617.8l3.3 2.2M1988.1 1642.7l-0.0 0.0M1726.8 1536.3l0.0 -0.0M1955.1 1358.9l1.0 -1.1M1858.5 1568.9l0.0 0.0M1597.1 1618.3l2.6 -3.1M1742.8 1417.9l1.0 0.0M1786.8 1508.6l0.2 1.0M1777.8 1696.9l0.0 -0.0M1782.2 1696.5l3.0 -0.3M1674.2 1395.5l0.5 -0.8M1896.0 1389.3l0.0 0.0M1787.4 1502.8l-0.0 0.0M1915.3 1716.1l3.9 0.9M1607.6 1712.2l-1.8 -0.9M1596.6 1704.8l-0.8 -0.6M1811.4 1584.5l0.3 -0.9M1813.2 1581.0l1.9 -3.5M1857.6 1581.3l-1.3 3.8M1704.8 1613.6l0.0 -0.0M1981.2 1671.6l-1.4 3.7M1901.0 1605.6l0.2 -1.5M1678.9 1499.2l1.0 -0.0M1683.8 1493.4l0.2 -4.0M1682.2 1408.9l1.7 -2.5M1912.1 1381.6l0.0 -0.0M1664.1 1471.8l0.7 3.9M1941.3 1327.1l-0.0 -0.0M1872.9 1646.4l-1.4 0.5M1893.1 1585.8l2.0 0.3M1930.4 1657.7l0.0 -0.0M1964.2 1693.2l-1.3 0.7M1899.8 1435.5l0.0 0.0M1966.1 1616.0l1.0 0.0M1855.8 1652.9l0.0 -0.0M1642.4 1460.7l1.2 -0.9M1782.9 1685.8l-0.0 0.0M1647.8 1652.4l-1.9 -0.5M1913.0 1647.3l0.0 0.0M1716.2 1442.5l0.0 0.0M1630.3 1459.4l-2.8 -1.1M1928.0 1643.3l-2.0 0.3M1892.5 1636.5l-0.0 -0.0M1782.2 1499.4l0.0 -0.0M1914.5 1329.2l0.8 -1.8M1809.0 1579.2l0.2 1.5M1811.7 1580.9l2.8 1.0M1715.9 1357.8l-0.0 0.0M1619.9 1645.1l1.4 0.6M1642.7 1683.0l1.9 2.4M1769.4 1659.2l0.2 2.0M1621.1 1684.5l-0.5 0.9M1674.8 1506.8l-2.9 0.7M1965.5 1410.5l-2.7 1.3M1725.0 1498.7l0.0 0.0M1777.3 1652.5l0.0 -0.0M1661.1 1684.3l0.8 0.6M1774.0 1543.8l-1.8 -1.0M1740.3 1406.6l1.2 -1.6M1766.1 1349.3l0.0 -0.0M1802.8 1564.2l0.0 0.0M1756.7 1345.1l0.8 -2.9M1701.6 1531.0l1.2 -2.7M1872.2 1324.7l1.9 -0.5M1888.3 1319.6l0.0 -0.0M1781.7 1433.0l-0.0 -0.0M1631.0 1548.2l0.0 0.0M1732.9 1366.3l0.0 -0.0M1734.6 1361.9l1.4 -3.7M1867.5 1681.8l1.2 0.9M1604.5 1572.7l3.0 0.0M1945.7 1476.1l-0.6 0.8M1810.4 1359.1l-2.5 3.1M1721.7 1401.1l0.0 -0.0M1982.0 1601.3l-2.9 -0.6M1694.5 1364.0l-0.0 -0.0M1941.0 1482.2l-0.0 0.0M1619.7 1671.8l0.1 2.0M1851.1 1521.3l-0.0 0.0M1747.7 1716.3l0.7 1.9M1732.6 1320.4l0.0 -0.0M1606.9 1533.1l0.7 1.3M1626.0 1537.2l-1.5 -3.7M1935.5 1662.6l-0.6 -1.9M1687.3 1453.4l-0.5 0.9M1959.0 1411.6l0.6 -3.9M1804.8 1548.4l-1.7 1.0M1800.3 1547.8l-0.0 -0.0M1816.3 1337.7l0.6 -0.8M1796.7 1636.4l0.9 -1.2M1924.8 1406.3l-0.0 -0.0M1804.4 1360.7l0.0 0.0M1855.7 1596.2l-3.2 -2.4M1899.9 1331.5l0.0 0.0M1873.5 1696.4l0.0 0.0M1827.0 1400.7l0.3 -1.5"/></g>
</g>
<circle cx="1637.1" cy="1361.1" r="25.0" fill="none" stroke="#fff" stroke-width="3.2"/>
<text transform="translate(12.50 54.40) scale(0.60078 0.62319)" font-size="100" style="font-family:'Liberation Sans', Arial, sans-serif;font-weight:bold;font-style:normal" fill="#000">(A)</text>
<text transform="translate(861.37 55.40) scale(0.54331 0.57391)" font-size="100" style="font-family:'Liberation Sans', Arial, sans-serif;font-weight:bold;font-style:normal" fill="#000">Pan<tspan style="font-weight:normal" stroke="#000" stroke-width="2.6">/</tspan><tspan style="font-style:italic">Pf</tspan><tspan style="font-weight:normal" stroke="#000" stroke-width="2.6">/</tspan><tspan style="font-style:italic">Pv</tspan><tspan style="font-weight:normal" stroke="#000" stroke-width="2.6">/</tspan>IC LAMP Assay</text>
<text transform="translate(12.50 1143.70) scale(0.60078 0.63333)" font-size="100" style="font-family:'Liberation Sans', Arial, sans-serif;font-weight:bold;font-style:normal" fill="#000">(B)</text>
<text transform="translate(746.41 1143.50) scale(0.59785 0.63043)" font-size="100" style="font-family:'Liberation Sans', Arial, sans-serif;font-weight:bold;font-style:normal" fill="#000">Pan<tspan style="font-weight:normal" stroke="#000" stroke-width="2.6">/</tspan><tspan style="font-style:italic">Pf</tspan><tspan style="font-weight:normal" stroke="#000" stroke-width="2.6">/</tspan><tspan style="font-style:italic">Pv</tspan><tspan style="font-weight:normal" stroke="#000" stroke-width="2.6">/</tspan>IC LAMP-MS Assay</text>
<text transform="translate(501.99 1259.80) scale(0.60117 0.62464)" font-size="100" style="font-family:'Liberation Sans', Arial, sans-serif;font-weight:bold;font-style:normal" fill="#000">Pan</text>
<text transform="translate(934.27 1259.80) scale(0.61315 0.62464)" font-size="100" style="font-family:'Liberation Sans', Arial, sans-serif;font-weight:bold;font-style:italic" fill="#000">Pf</text>
<text transform="translate(1333.51 1259.80) scale(0.59280 0.62464)" font-size="100" style="font-family:'Liberation Sans', Arial, sans-serif;font-weight:bold;font-style:italic" fill="#000">Pv</text>
<text transform="translate(1744.44 1259.80) scale(0.59448 0.62464)" font-size="100" style="font-family:'Liberation Sans', Arial, sans-serif;font-weight:bold;font-style:normal" fill="#000">IC</text>
<text transform="translate(1023.99 987.50) scale(0.53686 0.55541)" font-size="100" style="font-family:'Noto Sans CJK KR', 'Liberation Sans', sans-serif;font-weight:bold;font-style:normal" fill="#000">Time  (min)</text>
<text transform="translate(360.40 524.21) rotate(-90) scale(0.56739 0.53378)" font-size="100" style="font-family:'Noto Sans CJK KR', 'Liberation Sans', sans-serif;font-weight:bold;font-style:normal" fill="#000">RFU</text>
<text transform="translate(218.80 1680.85) rotate(-90) scale(0.52479 0.55652)" font-size="100" style="font-family:'Liberation Sans', Arial, sans-serif;font-weight:bold;font-style:italic" fill="#000">P. falciparum</text>
<text transform="translate(281.80 1610.52) rotate(-90) scale(0.52000 0.51586)" font-size="100" style="font-family:'Liberation Sans', Arial, sans-serif;font-weight:bold;font-style:normal" fill="#000">sample</text>
<text transform="translate(641.41 217.60) scale(0.45965 0.44348)" font-size="100" style="font-family:'Liberation Sans', Arial, sans-serif;font-weight:bold;font-style:normal" fill="#000">Pan</text>
<text transform="translate(643.12 273.00) scale(0.43944 0.45652)" font-size="100" style="font-family:'Liberation Sans', Arial, sans-serif;font-weight:bold;font-style:italic" fill="#000">Pf</text>
<text transform="translate(643.12 338.00) scale(0.44000 0.44493)" font-size="100" style="font-family:'Liberation Sans', Arial, sans-serif;font-weight:bold;font-style:italic" fill="#000">Pv</text>
<text transform="translate(641.48 397.80) scale(0.44862 0.46522)" font-size="100" style="font-family:'Liberation Sans', Arial, sans-serif;font-weight:bold;font-style:normal" fill="#000">IC</text>
<text transform="translate(1793.28 225.30) scale(0.44045 0.43056)" font-size="100" style="font-family:'Noto Sans CJK KR', 'Liberation Sans', sans-serif;font-weight:bold;font-style:normal" fill="#000">1</text>
<text transform="translate(1791.14 344.30) scale(0.43148 0.41667)" font-size="100" style="font-family:'Noto Sans CJK KR', 'Liberation Sans', sans-serif;font-weight:bold;font-style:normal" fill="#000">4</text>
<text transform="translate(1793.70 547.00) scale(0.40000 0.40680)" font-size="100" style="font-family:'Noto Sans CJK KR', 'Liberation Sans', sans-serif;font-weight:bold;font-style:normal" fill="#000">2</text>
<text transform="translate(1795.06 811.00) scale(0.37451 0.42449)" font-size="100" style="font-family:'Noto Sans CJK KR', 'Liberation Sans', sans-serif;font-weight:bold;font-style:normal" fill="#000">3</text>
<text transform="translate(364.08 1374.20) scale(0.46517 0.39167)" font-size="100" style="font-family:'Noto Sans CJK KR', 'Liberation Sans', sans-serif;font-weight:bold;font-style:normal" fill="#fff">1</text>
<text transform="translate(784.66 1374.60) scale(0.38218 0.40816)" font-size="100" style="font-family:'Noto Sans CJK KR', 'Liberation Sans', sans-serif;font-weight:bold;font-style:normal" fill="#fff">2</text>
<text transform="translate(1206.57 1375.00) scale(0.37255 0.40816)" font-size="100" style="font-family:'Noto Sans CJK KR', 'Liberation Sans', sans-serif;font-weight:bold;font-style:normal" fill="#fff">3</text>
<text transform="translate(1621.87 1374.60) scale(0.41296 0.41111)" font-size="100" style="font-family:'Noto Sans CJK KR', 'Liberation Sans', sans-serif;font-weight:bold;font-style:normal" fill="#fff">4</text>
<text transform="translate(454.93 839.60) scale(0.33925 0.35143)" font-size="100" style="font-family:'Liberation Sans', Arial, sans-serif;font-weight:normal;font-style:normal" fill="#151515" stroke="#151515" stroke-width="2.8">0</text>
<text transform="translate(393.75 756.12) scale(0.35355 0.35143)" font-size="100" style="font-family:'Liberation Sans', Arial, sans-serif;font-weight:normal;font-style:normal" fill="#151515" stroke="#151515" stroke-width="2.8">1000</text>
<text transform="translate(398.27 672.65) scale(0.33925 0.35143)" font-size="100" style="font-family:'Liberation Sans', Arial, sans-serif;font-weight:normal;font-style:normal" fill="#151515" stroke="#151515" stroke-width="2.8">2000</text>
<text transform="translate(398.27 589.18) scale(0.33925 0.35143)" font-size="100" style="font-family:'Liberation Sans', Arial, sans-serif;font-weight:normal;font-style:normal" fill="#151515" stroke="#151515" stroke-width="2.8">3000</text>
<text transform="translate(398.27 505.70) scale(0.33925 0.35143)" font-size="100" style="font-family:'Liberation Sans', Arial, sans-serif;font-weight:normal;font-style:normal" fill="#151515" stroke="#151515" stroke-width="2.8">4000</text>
<text transform="translate(398.27 422.23) scale(0.33925 0.35143)" font-size="100" style="font-family:'Liberation Sans', Arial, sans-serif;font-weight:normal;font-style:normal" fill="#151515" stroke="#151515" stroke-width="2.8">5000</text>
<text transform="translate(398.27 338.75) scale(0.33925 0.35143)" font-size="100" style="font-family:'Liberation Sans', Arial, sans-serif;font-weight:normal;font-style:normal" fill="#151515" stroke="#151515" stroke-width="2.8">6000</text>
<text transform="translate(398.27 255.28) scale(0.33925 0.35143)" font-size="100" style="font-family:'Liberation Sans', Arial, sans-serif;font-weight:normal;font-style:normal" fill="#151515" stroke="#151515" stroke-width="2.8">7000</text>
<text transform="translate(398.27 171.80) scale(0.33925 0.35143)" font-size="100" style="font-family:'Liberation Sans', Arial, sans-serif;font-weight:normal;font-style:normal" fill="#151515" stroke="#151515" stroke-width="2.8">8000</text>
<text transform="translate(492.19 902.00) scale(0.33925 0.35143)" font-size="100" style="font-family:'Liberation Sans', Arial, sans-serif;font-weight:normal;font-style:normal" fill="#151515" stroke="#151515" stroke-width="2.8">0</text>
<text transform="translate(707.24 902.00) scale(0.33925 0.35143)" font-size="100" style="font-family:'Liberation Sans', Arial, sans-serif;font-weight:normal;font-style:normal" fill="#151515" stroke="#151515" stroke-width="2.8">5</text>
<text transform="translate(909.09 902.00) scale(0.33925 0.35143)" font-size="100" style="font-family:'Liberation Sans', Arial, sans-serif;font-weight:normal;font-style:normal" fill="#151515" stroke="#151515" stroke-width="2.8">10</text>
<text transform="translate(1123.13 902.00) scale(0.33925 0.35143)" font-size="100" style="font-family:'Liberation Sans', Arial, sans-serif;font-weight:normal;font-style:normal" fill="#151515" stroke="#151515" stroke-width="2.8">15</text>
<text transform="translate(1338.82 902.00) scale(0.33925 0.35143)" font-size="100" style="font-family:'Liberation Sans', Arial, sans-serif;font-weight:normal;font-style:normal" fill="#151515" stroke="#151515" stroke-width="2.8">20</text>
<text transform="translate(1553.35 902.00) scale(0.33925 0.35143)" font-size="100" style="font-family:'Liberation Sans', Arial, sans-serif;font-weight:normal;font-style:normal" fill="#151515" stroke="#151515" stroke-width="2.8">25</text>
<text transform="translate(1767.89 902.00) scale(0.33925 0.35143)" font-size="100" style="font-family:'Liberation Sans', Arial, sans-serif;font-weight:normal;font-style:normal" fill="#151515" stroke="#151515" stroke-width="2.8">30</text>
</g>
</svg></body></html>
